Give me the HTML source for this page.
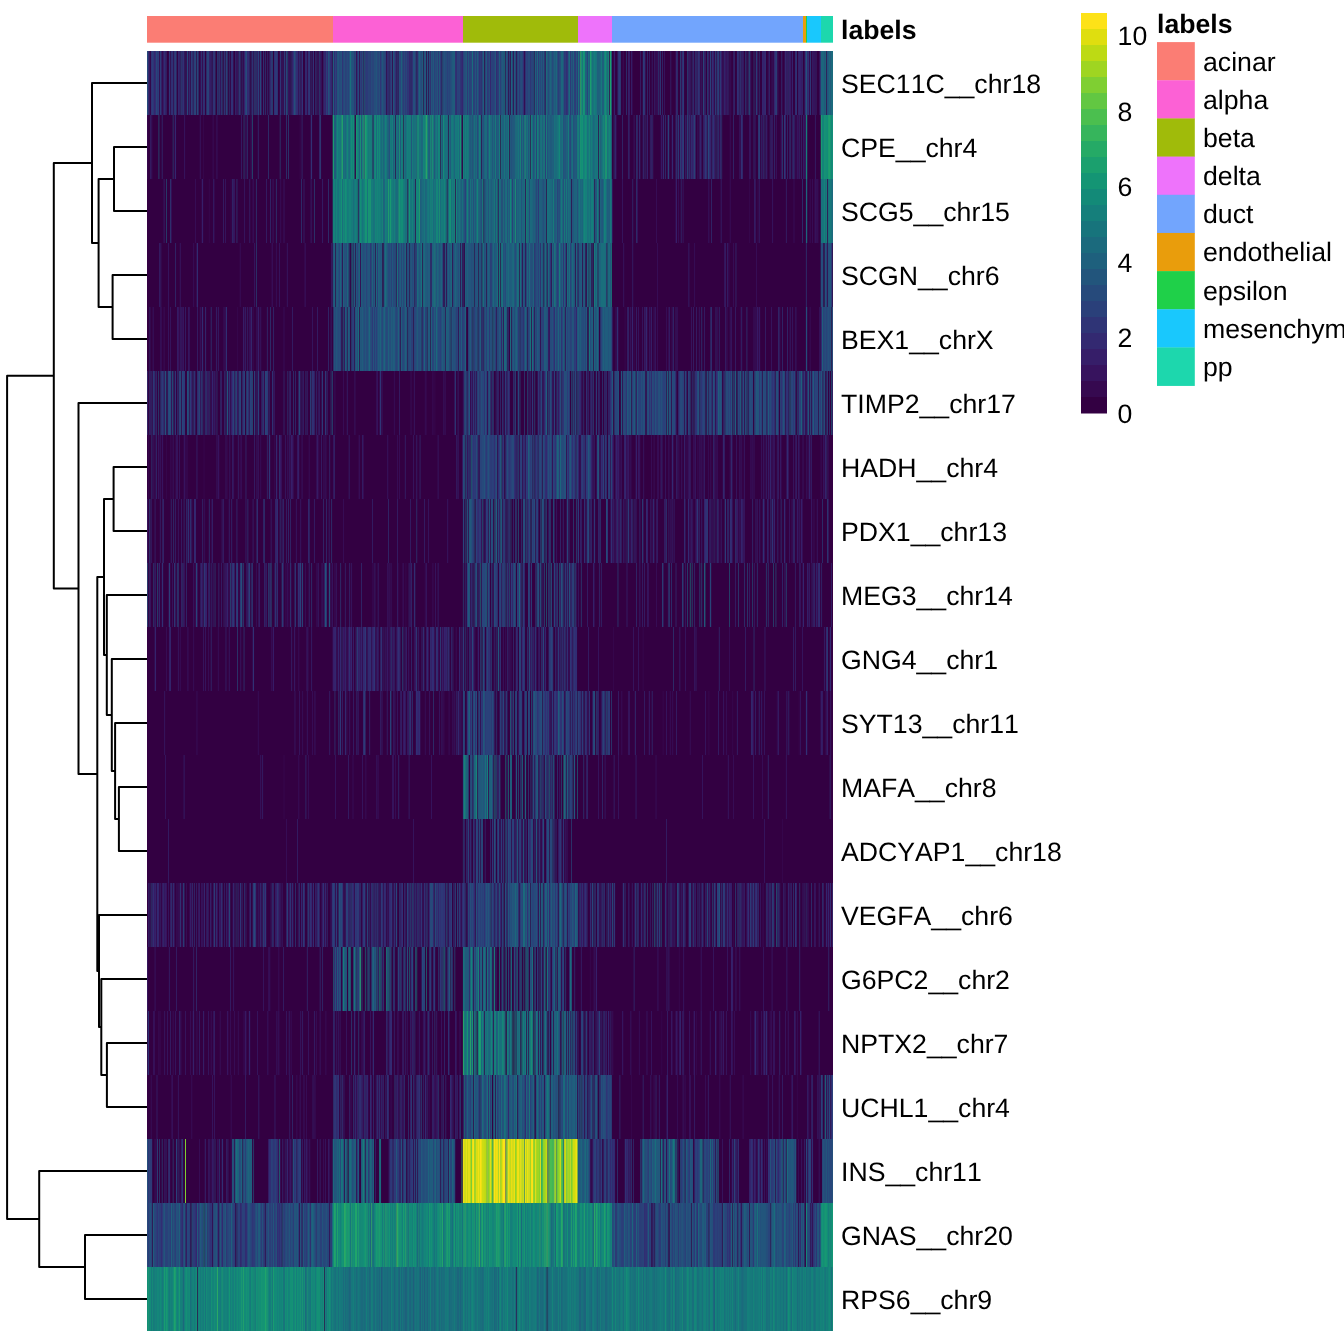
<!DOCTYPE html>
<html><head><meta charset="utf-8"><title>heatmap</title>
<style>
html,body{margin:0;padding:0;background:#fff}
body{width:1344px;height:1344px;position:relative;overflow:hidden;font-family:"Liberation Sans",Arial,Helvetica,sans-serif}
#hm{position:absolute;left:147px;top:51px;width:686px;height:1280px}
#hm div{width:686px;height:64px}
svg{position:absolute;left:0;top:0}
text{font-family:"Liberation Sans",Arial,Helvetica,sans-serif;font-size:26.67px;fill:#000;font-kerning:none;text-rendering:geometricPrecision}
.b{font-weight:bold}
</style></head><body>
<div id="hm">
<div style="background:linear-gradient(90deg,#264a7b 0 1px,#312b6f 0 2px,#33185d 0 3px,#320749 0 4px,#2f3476 0 5px,#2c3c79 0 6px,#2f3476 0 7px,#34266e 0 8px,#312d73 0 9px,#28467a 0 10px,#2d3877 0 11px,#2c3b78 0 12px,#321254 0 13px,#2d3a78 0 14px,#331f65 0 15px,#350a51 0 16px,#351b64 0 17px,#312d73 0 18px,#302466 0 19px,#331a60 0 20px,#330042 0 21px,#330446 0 22px,#2f3476 0 23px,#311455 0 24px,#302f72 0 25px,#303174 0 26px,#311759 0 27px,#2d3573 0 28px,#2b3e77 0 29px,#302364 0 30px,#330345 0 31px,#32276c 0 32px,#351f68 0 33px,#2e225f 0 34px,#2b336c 0 35px,#302b6d 0 36px,#303174 0 37px,#2f1958 0 38px,#321052 0 39px,#311355 0 40px,#28467b 0 41px,#311555 0 42px,#34246d 0 43px,#321253 0 44px,#2b3f78 0 45px,#2d306d 0 46px,#2e2562 0 47px,#2a4078 0 48px,#284578 0 49px,#2e1a56 0 50px,#29447a 0 51px,#2b2b63 0 52px,#330447 0 53px,#350f56 0 54px,#2e2f6e 0 55px,#340d53 0 56px,#2e3170 0 57px,#322c71 0 58px,#330143 0 59px,#2d2b68 0 60px,#2a4178 0 61px,#294178 0 62px,#332269 0 63px,#341d65 0 64px,#311b5d 0 65px,#301555 0 66px,#2f3275 0 67px,#2e3674 0 68px,#2d1d56 0 69px,#330042 0 70px,#2c2f6b 0 71px,#2c2a62 0 72px,#2d2f6d 0 73px,#33145a 0 74px,#2d3370 0 75px,#2c255b 0 76px,#311251 0 77px,#303174 0 78px,#2d1e56 0 79px,#2b3f78 0 80px,#2b2c64 0 81px,#320849 0 82px,#2e225f 0 83px,#33084b 0 84px,#312f74 0 85px,#303175 0 86px,#331055 0 87px,#330042 0 88px,#312265 0 89px,#35135a 0 90px,#35135b 0 91px,#2d215b 0 92px,#2e3575 0 93px,#2d245e 0 94px,#310e4f 0 95px,#2f1b5a 0 96px,#330c50 0 97px,#35226c 0 98px,#2a4078 0 99px,#264b7b 0 100px,#332971 0 101px,#322c72 0 102px,#2e215f 0 103px,#310d4d 0 104px,#2f1d5b 0 105px,#2e3272 0 106px,#301857 0 107px,#2b3067 0 108px,#2d2c68 0 109px,#2b2d65 0 110px,#322166 0 111px,#2a407a 0 112px,#2f1856 0 113px,#28457a 0 114px,#341b62 0 115px,#330042 0 116px,#2e2f6f 0 117px,#34074c 0 118px,#2d2865 0 119px,#330446 0 120px,#311d5f 0 121px,#32084a 0 122px,#311a5c 0 123px,#302a6c 0 124px,#2d3775 0 125px,#283a6b 0 126px,#330042 0 127px,#303074 0 128px,#2d3877 0 129px,#2d3978 0 130px,#2e3171 0 131px,#330042 0 132px,#33084b 0 133px,#2e3576 0 134px,#321154 0 135px,#331055 0 136px,#321052 0 137px,#2c3a77 0 138px,#301857 0 139px,#29437a 0 140px,#273563 0 141px,#35135b 0 142px,#350f56 0 143px,#301454 0 144px,#2e1f5a 0 145px,#34226a 0 146px,#2f3476 0 147px,#254e7b 0 148px,#2c3d77 0 149px,#312e73 0 150px,#322b72 0 151px,#33155a 0 152px,#31276b 0 153px,#2f1d5b 0 154px,#351a62 0 155px,#2f3476 0 156px,#330143 0 157px,#330144 0 158px,#33276e 0 159px,#32276d 0 160px,#340e54 0 161px,#303074 0 162px,#2f3476 0 163px,#301555 0 164px,#2f1a59 0 165px,#321052 0 166px,#2f3375 0 167px,#330042 0 168px,#302264 0 169px,#2f1c5a 0 170px,#321253 0 171px,#340f56 0 172px,#2b3067 0 173px,#311d5f 0 174px,#351058 0 175px,#330042 0 176px,#321c5e 0 177px,#32286e 0 178px,#35226c 0 179px,#2b3e77 0 180px,#312e73 0 181px,#244f7b 0 182px,#294379 0 183px,#312e73 0 184px,#34256e 0 185px,#2e1c56 0 186px,#205b7c 0 187px,#312d73 0 188px,#29437a 0 189px,#2e3676 0 190px,#23537a 0 191px,#22557c 0 192px,#264a7b 0 193px,#254d7b 0 194px,#24517b 0 195px,#2f3476 0 196px,#27467b 0 197px,#254e7b 0 198px,#2a4179 0 199px,#29447a 0 200px,#264a7b 0 201px,#29437a 0 202px,#23527c 0 203px,#19707c 0 204px,#22567c 0 205px,#23517c 0 206px,#24507b 0 207px,#2b3d78 0 208px,#254976 0 209px,#331358 0 210px,#303173 0 211px,#264a7b 0 212px,#301756 0 213px,#2a407a 0 214px,#2e3675 0 215px,#264976 0 216px,#2b2f66 0 217px,#234a6d 0 218px,#2c3c77 0 219px,#2d3978 0 220px,#2c3a78 0 221px,#294279 0 222px,#294277 0 223px,#2b3d78 0 224px,#264a7b 0 225px,#29447a 0 227px,#244e7b 0 228px,#254d7b 0 229px,#22547c 0 230px,#27477b 0 231px,#28457a 0 232px,#254f7a 0 233px,#2e3776 0 234px,#27477b 0 235px,#22557c 0 236px,#264b78 0 237px,#274779 0 238px,#2a407a 0 239px,#311555 0 240px,#33296f 0 241px,#2e2d6b 0 242px,#2b2b63 0 243px,#2e3575 0 244px,#29447a 0 245px,#321254 0 246px,#23527b 0 247px,#2a4179 0 248px,#312e73 0 249px,#2e215f 0 250px,#2d2966 0 251px,#2e2361 0 252px,#254e7b 0 253px,#28467b 0 254px,#1e5f7c 0 255px,#274978 0 256px,#2c3b78 0 257px,#27497a 0 258px,#2d3a78 0 259px,#28447a 0 260px,#2f3476 0 261px,#2d3775 0 262px,#34256e 0 263px,#2d2b69 0 264px,#2d2a67 0 265px,#303174 0 266px,#244f7b 0 267px,#24507c 0 268px,#2b3d78 0 269px,#2a2a5f 0 270px,#302c6e 0 271px,#254d7a 0 272px,#1e607c 0 273px,#23517c 0 274px,#264a7b 0 275px,#205b79 0 276px,#2a275a 0 277px,#23527c 0 278px,#22567c 0 279px,#2e1a56 0 280px,#24507c 0 281px,#2d1e57 0 282px,#27487b 0 283px,#2f3170 0 284px,#22557c 0 285px,#264a7b 0 286px,#21577c 0 287px,#2a407a 0 288px,#264b7b 0 289px,#274979 0 290px,#23537b 0 291px,#2d3978 0 292px,#21577c 0 293px,#2c3c78 0 294px,#2d2966 0 295px,#25426c 0 296px,#27497b 0 297px,#23527c 0 298px,#264a7b 0 300px,#2a407a 0 301px,#26497b 0 302px,#28447a 0 303px,#264b7b 0 304px,#23517c 0 305px,#20597c 0 306px,#205b7c 0 307px,#205c7b 0 308px,#303174 0 309px,#302e71 0 310px,#294279 0 311px,#2a407a 0 312px,#29437a 0 313px,#2f3474 0 314px,#322d73 0 315px,#34266e 0 316px,#294279 0 317px,#254e7b 0 318px,#24507c 0 319px,#22587a 0 320px,#2c3c77 0 321px,#22557c 0 322px,#2a407a 0 323px,#294279 0 324px,#28467a 0 325px,#1a6c7c 0 326px,#2a4078 0 327px,#2a407a 0 328px,#22557c 0 329px,#2a407a 0 330px,#205a7c 0 331px,#27487b 0 332px,#303175 0 333px,#2d3877 0 334px,#2e3370 0 335px,#27477b 0 336px,#1f5e7c 0 337px,#2e1d56 0 338px,#284579 0 339px,#21577c 0 340px,#2d3978 0 341px,#2a3f78 0 342px,#254c79 0 343px,#34266e 0 344px,#294379 0 345px,#2a407a 0 346px,#29417a 0 347px,#28457b 0 348px,#22557c 0 349px,#312d71 0 350px,#2d3776 0 351px,#2b3d77 0 352px,#205c7d 0 353px,#2b3f78 0 354px,#24517b 0 355px,#21597c 0 356px,#22547c 0 357px,#1d5c72 0 358px,#2c2760 0 359px,#22547c 0 360px,#27497b 0 361px,#2f1a56 0 362px,#2c3b77 0 363px,#2e1b57 0 364px,#1d647c 0 365px,#28447a 0 366px,#2e1c56 0 367px,#205a7c 0 368px,#28457a 0 369px,#2f1c5a 0 370px,#284176 0 371px,#254e7b 0 372px,#2d3877 0 373px,#27487b 0 374px,#254c7b 0 375px,#28447a 0 376px,#312e73 0 377px,#330e52 0 378px,#303072 0 379px,#27467b 0 380px,#2a407a 0 381px,#264a7b 0 382px,#26497b 0 383px,#2e3675 0 384px,#29437a 0 385px,#28447a 0 386px,#254573 0 387px,#2a2c60 0 388px,#1e607c 0 389px,#28447a 0 390px,#1d647c 0 391px,#2c3c78 0 392px,#22557c 0 393px,#27487b 0 394px,#21577c 0 395px,#28457a 0 396px,#205a7c 0 397px,#2a386f 0 398px,#2c2961 0 399px,#1c6a7b 0 400px,#215a7c 0 401px,#264b7b 0 402px,#21597c 0 403px,#1d647d 0 404px,#21597c 0 405px,#264a7b 0 406px,#23537c 0 407px,#1e607d 0 408px,#205a7c 0 409px,#1c667d 0 410px,#264c7a 0 411px,#2c3c79 0 412px,#284879 0 413px,#254f7b 0 414px,#1c667d 0 416px,#22557c 0 417px,#2e3777 0 418px,#2c3b78 0 419px,#312e73 0 420px,#2f3476 0 421px,#22557c 0 422px,#1c677c 0 423px,#2d3978 0 424px,#22567c 0 425px,#264a7b 0 426px,#1f5f7c 0 427px,#2b3e78 0 428px,#2c3c78 0 429px,#22557c 0 430px,#2a4078 0 431px,#1a707b 0 432px,#244f7a 0 433px,#318e66 0 434px,#188e75 0 435px,#1c7579 0 436px,#149574 0 437px,#158e76 0 438px,#1d627c 0 439px,#205c7c 0 440px,#27467b 0 441px,#196d7c 0 442px,#205c7c 0 443px,#1b9e6e 0 444px,#1a8577 0 445px,#1a6f7c 0 446px,#18747c 0 447px,#157e7a 0 448px,#16777c 0 449px,#19727c 0 450px,#1f5f7c 0 452px,#1e617c 0 453px,#1c677d 0 454px,#16797c 0 455px,#1f5f7c 0 456px,#1e607d 0 457px,#16817a 0 458px,#138e76 0 459px,#18797a 0 460px,#1d6c79 0 461px,#188177 0 462px,#2c2855 0 463px,#1ea16c 0 464px,#1f5d73 0 465px,#330042 0 466px,#34064a 0 467px,#361e69 0 468px,#330245 0 469px,#330042 0 470px,#301655 0 471px,#303174 0 472px,#2c3b78 0 473px,#2c3672 0 474px,#330042 0 475px,#340347 0 476px,#35094f 0 477px,#330042 0 479px,#2d2966 0 480px,#330143 0 481px,#361e69 0 482px,#361b65 0 483px,#330042 0 484px,#341d65 0 485px,#350950 0 486px,#330042 0 493px,#331a60 0 494px,#330042 0 495px,#320a4c 0 496px,#2c3b78 0 497px,#303275 0 498px,#331054 0 499px,#330042 0 500px,#302264 0 501px,#330042 0 502px,#331a60 0 503px,#330042 0 504px,#33074a 0 505px,#331358 0 506px,#330042 0 507px,#33185e 0 508px,#340b50 0 510px,#360c54 0 511px,#2d2966 0 512px,#331256 0 513px,#2d3270 0 514px,#330042 0 515px,#302264 0 516px,#330042 0 517px,#35135b 0 518px,#330042 0 523px,#331358 0 524px,#33074a 0 525px,#330042 0 528px,#34094e 0 529px,#34266f 0 530px,#2d2865 0 531px,#330042 0 533px,#2b366e 0 534px,#331459 0 535px,#2e3070 0 536px,#2d3978 0 537px,#330345 0 538px,#330042 0 540px,#2a336a 0 541px,#311e60 0 542px,#351961 0 543px,#33155a 0 544px,#310d4d 0 545px,#2f1d5b 0 546px,#31276b 0 547px,#35074d 0 548px,#2d2966 0 549px,#312264 0 550px,#311f61 0 551px,#303174 0 552px,#302b6d 0 553px,#340b4f 0 554px,#331358 0 555px,#330a4d 0 556px,#294378 0 557px,#321f63 0 558px,#331a60 0 559px,#330042 0 560px,#2b336a 0 561px,#351f69 0 562px,#330d50 0 563px,#2a407a 0 564px,#321254 0 565px,#312f74 0 566px,#35206a 0 567px,#340b50 0 568px,#2d3874 0 569px,#2e1c56 0 570px,#2f3275 0 571px,#283f74 0 572px,#31195b 0 573px,#2d3876 0 574px,#361e69 0 575px,#330d52 0 576px,#331055 0 577px,#312468 0 578px,#361761 0 579px,#35135a 0 580px,#331a60 0 581px,#311759 0 582px,#320a4c 0 583px,#350a50 0 584px,#340346 0 585px,#330042 0 586px,#331a60 0 587px,#302264 0 588px,#330042 0 589px,#330345 0 590px,#312f74 0 591px,#302b6e 0 592px,#2f1f5d 0 593px,#2f2c6c 0 594px,#311d5f 0 595px,#331f65 0 596px,#33195f 0 597px,#330143 0 598px,#2d2966 0 599px,#311557 0 600px,#320d4f 0 601px,#2d225c 0 602px,#283d71 0 603px,#33165b 0 604px,#330548 0 605px,#330042 0 606px,#2f1653 0 607px,#2f1956 0 608px,#340b50 0 609px,#2b3b75 0 610px,#33175d 0 611px,#32094a 0 612px,#2e205e 0 613px,#330042 0 615px,#33266d 0 616px,#35226c 0 617px,#34256e 0 618px,#312b6f 0 619px,#330042 0 620px,#330447 0 621px,#351057 0 622px,#302264 0 623px,#330042 0 624px,#34084c 0 625px,#340c51 0 626px,#34094e 0 627px,#34266e 0 628px,#2f3476 0 629px,#2a3d74 0 630px,#331257 0 631px,#33084b 0 632px,#330042 0 634px,#311e60 0 635px,#35094e 0 636px,#330042 0 637px,#340b50 0 638px,#34276f 0 639px,#311e60 0 640px,#341c63 0 641px,#2e215f 0 642px,#341e66 0 643px,#361964 0 644px,#34084d 0 645px,#35216a 0 646px,#330143 0 647px,#330144 0 648px,#312b70 0 649px,#2e3272 0 650px,#330042 0 651px,#332168 0 652px,#35236d 0 653px,#35216b 0 654px,#351c66 0 655px,#312365 0 656px,#330042 0 657px,#330f53 0 658px,#2f3475 0 659px,#23527c 0 660px,#322a6f 0 661px,#302f72 0 662px,#330d52 0 663px,#2e3676 0 664px,#320546 0 665px,#331a60 0 666px,#35145c 0 667px,#35135b 0 668px,#311557 0 669px,#341257 0 670px,#330042 0 672px,#351057 0 673px,#2e3673 0 674px,#1c667d 0 675px,#1c667c 0 676px,#1c657c 0 677px,#20597c 0 678px,#1b6477 0 679px,#2b265c 0 680px,#22557c 0 681px,#205b7d 0 682px,#1b687c 0 683px,#205d7c 0 684px,#1b6a7d 0)"></div>
<div style="background:linear-gradient(90deg,#35064b 0 1px,#330042 0 3px,#331a60 0 4px,#340f55 0 5px,#330548 0 6px,#330042 0 11px,#2b2659 0 12px,#2e1851 0 13px,#330042 0 14px,#32094b 0 15px,#31195b 0 16px,#330042 0 25px,#30104e 0 26px,#2d205b 0 27px,#34084d 0 28px,#34256e 0 29px,#330143 0 30px,#330042 0 37px,#35125a 0 38px,#330144 0 39px,#330042 0 52px,#330447 0 53px,#350f56 0 54px,#330042 0 56px,#35064b 0 57px,#330042 0 65px,#340449 0 66px,#35084d 0 67px,#330042 0 69px,#340b50 0 70px,#34084d 0 71px,#330042 0 94px,#331a60 0 95px,#330042 0 96px,#2e1953 0 97px,#2d1e57 0 98px,#340b50 0 99px,#330d51 0 100px,#2e2562 0 101px,#330042 0 103px,#34064a 0 104px,#340d53 0 105px,#253e68 0 106px,#330042 0 110px,#330547 0 111px,#311c5e 0 112px,#330042 0 121px,#2d2966 0 122px,#330042 0 132px,#310e4c 0 133px,#2d225c 0 134px,#330042 0 139px,#2d2966 0 140px,#330042 0 141px,#2b3067 0 142px,#330042 0 152px,#340245 0 153px,#340448 0 154px,#320e50 0 155px,#311456 0 156px,#330042 0 163px,#330a4d 0 164px,#313074 0 165px,#330345 0 166px,#330042 0 172px,#312567 0 173px,#2d3671 0 174px,#330245 0 175px,#330042 0 185px,#292f52 0 186px,#199b70 0 187px,#1f5e7c 0 188px,#205b7c 0 189px,#18737c 0 190px,#148679 0 191px,#16797c 0 192px,#17797c 0 193px,#18767c 0 194px,#208873 0 195px,#20a06b 0 196px,#1b6a7d 0 197px,#19707c 0 198px,#1b687d 0 199px,#17787b 0 200px,#158578 0 201px,#18727c 0 202px,#1b6a7d 0 203px,#167d7b 0 204px,#148d77 0 205px,#168079 0 206px,#138d77 0 207px,#214d65 0 208px,#300f48 0 209px,#179473 0 210px,#168778 0 211px,#157e7a 0 212px,#1c677d 0 213px,#198e74 0 214px,#215b7b 0 215px,#158279 0 216px,#277f71 0 217px,#2a6e71 0 218px,#1ba06e 0 219px,#169474 0 220px,#14847a 0 221px,#18787a 0 222px,#187d79 0 223px,#167c7a 0 224px,#187a7a 0 225px,#214c68 0 226px,#24446b 0 227px,#168179 0 228px,#148978 0 229px,#1b6a7d 0 230px,#158a77 0 231px,#16797c 0 232px,#158977 0 233px,#17747c 0 234px,#1a6a7c 0 235px,#187779 0 236px,#1d647d 0 237px,#1a6d7d 0 238px,#15807a 0 239px,#17767b 0 240px,#1c657c 0 241px,#1f5e7c 0 242px,#24507c 0 243px,#16797b 0 244px,#17747c 0 245px,#157f7b 0 246px,#205c7b 0 247px,#19707c 0 248px,#2a2657 0 249px,#196f7d 0 250px,#196e7c 0 251px,#1e617d 0 252px,#1c8a73 0 253px,#20597c 0 254px,#157e7b 0 255px,#167a79 0 256px,#263657 0 257px,#19717c 0 258px,#1d657d 0 259px,#17747c 0 260px,#157f7b 0 261px,#167b7b 0 262px,#157d7a 0 263px,#187979 0 264px,#22567c 0 265px,#177b7a 0 266px,#196e7c 0 267px,#19707c 0 268px,#1a707c 0 269px,#1f6a77 0 270px,#188476 0 271px,#198776 0 272px,#19717c 0 273px,#19727c 0 274px,#1c677d 0 275px,#1c687d 0 276px,#14837a 0 277px,#177e79 0 278px,#198b75 0 279px,#2aa267 0 280px,#14847a 0 281px,#1e627c 0 282px,#1e5f7b 0 283px,#188278 0 284px,#207077 0 285px,#1b8b74 0 286px,#19747b 0 287px,#22577b 0 288px,#196f7c 0 289px,#16797c 0 290px,#1b6c7c 0 291px,#14847a 0 292px,#14827a 0 293px,#283155 0 294px,#1b697c 0 295px,#21597b 0 296px,#148c77 0 297px,#17757c 0 298px,#196f7d 0 299px,#18727c 0 300px,#1b6a7d 0 301px,#292857 0 302px,#196e7d 0 303px,#205c7c 0 304px,#17787c 0 305px,#167b7b 0 306px,#17737c 0 307px,#1c657d 0 308px,#17797b 0 309px,#16797c 0 310px,#17777c 0 311px,#157f7b 0 312px,#1b687d 0 313px,#1a9073 0 314px,#244367 0 315px,#300b46 0 316px,#15807a 0 317px,#196f7c 0 318px,#157f7b 0 319px,#18737c 0 320px,#167c7a 0 321px,#18737c 0 322px,#1f5d7c 0 323px,#21587c 0 324px,#1e607c 0 325px,#23547a 0 326px,#1f5e7b 0 327px,#196f7c 0 328px,#1e607c 0 329px,#1c687c 0 330px,#264b7b 0 331px,#1f5d7c 0 332px,#157e7b 0 333px,#1a6e7b 0 334px,#2d2058 0 335px,#22567c 0 336px,#23527c 0 337px,#1d637c 0 338px,#1b6a7d 0 339px,#1a6a7c 0 340px,#244f7b 0 341px,#1f607c 0 342px,#157f7b 0 343px,#1b6b7c 0 344px,#1c687c 0 345px,#21577c 0 346px,#1c677d 0 347px,#205a7c 0 348px,#18797a 0 349px,#22557c 0 350px,#1f5c7d 0 351px,#205c7d 0 352px,#167b7b 0 353px,#283055 0 354px,#1b6a7d 0 355px,#1d627d 0 356px,#1e607d 0 357px,#18747c 0 358px,#1e607d 0 359px,#1b697d 0 360px,#1d647d 0 361px,#17777c 0 362px,#2b2657 0 363px,#21587c 0 364px,#23517c 0 365px,#21587c 0 367px,#205a7c 0 368px,#1c687c 0 369px,#1d6a79 0 370px,#1b6a7d 0 371px,#18747c 0 372px,#1d637d 0 373px,#197e77 0 374px,#23537c 0 375px,#1a6a7c 0 376px,#22547c 0 377px,#1c727a 0 378px,#1f7876 0 379px,#1d647d 0 380px,#196e7d 0 381px,#22557c 0 382px,#1c677b 0 383px,#283058 0 384px,#167d7b 0 385px,#1b6a7d 0 386px,#23527c 0 387px,#1e607d 0 388px,#187779 0 389px,#28447a 0 390px,#167e7a 0 391px,#1a6f7b 0 392px,#255377 0 393px,#1a6e7b 0 394px,#19727c 0 395px,#1f5f7d 0 396px,#1b6f7a 0 397px,#1a727a 0 398px,#2a4079 0 399px,#18797a 0 400px,#23527c 0 401px,#1e5f7d 0 402px,#1e607d 0 403px,#20597c 0 404px,#205a7c 0 405px,#1e607d 0 406px,#1f5e7d 0 407px,#19707c 0 408px,#1b6a7d 0 409px,#1a6c7c 0 410px,#19717c 0 411px,#16787c 0 412px,#148679 0 413px,#1c697c 0 414px,#1b697d 0 415px,#18717c 0 416px,#24507c 0 417px,#21577c 0 418px,#21567c 0 419px,#1e607c 0 420px,#1f5e7c 0 421px,#167b7b 0 422px,#24507b 0 423px,#28467b 0 424px,#1c667c 0 425px,#196f7d 0 426px,#23517b 0 427px,#22567c 0 428px,#205a7c 0 429px,#21577c 0 430px,#19777a 0 431px,#167e79 0 432px,#1b687d 0 433px,#199273 0 434px,#138f76 0 435px,#149275 0 436px,#157f7b 0 437px,#158479 0 438px,#138f76 0 439px,#148779 0 440px,#19717c 0 441px,#17787c 0 442px,#168777 0 443px,#19727c 0 444px,#167e7a 0 445px,#17747c 0 446px,#1c677d 0 447px,#196e7d 0 448px,#18757c 0 449px,#18737c 0 450px,#17787c 0 451px,#2a2657 0 452px,#187b79 0 453px,#206179 0 454px,#1a6b7c 0 455px,#18767b 0 456px,#168478 0 457px,#17797c 0 458px,#21906f 0 459px,#159673 0 460px,#1b727a 0 461px,#187a7a 0 462px,#158479 0 463px,#157e7a 0 464px,#1f5b73 0 465px,#330042 0 466px,#310d4e 0 467px,#2f1c5a 0 468px,#34236b 0 469px,#340b50 0 470px,#330042 0 475px,#302264 0 476px,#330042 0 480px,#330143 0 481px,#312062 0 482px,#35135b 0 483px,#330042 0 486px,#34074b 0 487px,#340d52 0 488px,#330042 0 489px,#2d2966 0 490px,#302264 0 491px,#330245 0 492px,#33276e 0 493px,#320c4e 0 494px,#330042 0 495px,#320a4c 0 496px,#332269 0 497px,#311353 0 498px,#301857 0 499px,#330d51 0 500px,#35206a 0 501px,#330042 0 502px,#330547 0 503px,#311c5e 0 504px,#331e65 0 505px,#2f1e5d 0 506px,#35064b 0 507px,#330042 0 513px,#330448 0 514px,#361864 0 515px,#34094e 0 516px,#322a70 0 517px,#330446 0 518px,#2d2865 0 519px,#330143 0 520px,#351057 0 521px,#2a4179 0 522px,#320c4e 0 523px,#330042 0 524px,#33084b 0 525px,#332971 0 526px,#330447 0 527px,#330042 0 528px,#301454 0 529px,#32286e 0 530px,#2e1c58 0 531px,#2d3573 0 532px,#35084f 0 533px,#2b3a74 0 534px,#35236d 0 535px,#2e3675 0 536px,#2b3d78 0 537px,#330345 0 538px,#331a60 0 539px,#330f53 0 540px,#2b3c74 0 541px,#2e1f5a 0 542px,#32296e 0 543px,#33155a 0 544px,#302c6e 0 545px,#332269 0 546px,#322b70 0 547px,#2a4075 0 548px,#331d62 0 549px,#330042 0 550px,#340c51 0 551px,#34084c 0 552px,#31185a 0 553px,#34246d 0 554px,#331358 0 555px,#330042 0 556px,#311f61 0 557px,#35226c 0 558px,#2d3877 0 559px,#322b6f 0 560px,#2f1856 0 561px,#28467b 0 562px,#312e73 0 563px,#34246d 0 564px,#321253 0 565px,#31276a 0 566px,#2e3373 0 567px,#361e69 0 568px,#2f1a56 0 569px,#2f1956 0 570px,#311f61 0 571px,#2d2966 0 572px,#340e54 0 573px,#31276a 0 574px,#2e2360 0 575px,#320748 0 576px,#330042 0 582px,#340346 0 583px,#350950 0 584px,#330042 0 586px,#302264 0 587px,#330042 0 592px,#340f55 0 593px,#330d51 0 594px,#312f74 0 595px,#302668 0 596px,#330042 0 602px,#36135c 0 603px,#331358 0 604px,#330042 0 606px,#301353 0 607px,#301656 0 608px,#360c54 0 609px,#330042 0 611px,#2c336e 0 612px,#2c3a78 0 613px,#32084a 0 614px,#311d5f 0 615px,#351058 0 616px,#302163 0 617px,#301756 0 618px,#301454 0 619px,#351c66 0 620px,#330a4d 0 621px,#330042 0 622px,#320a4c 0 623px,#31185a 0 624px,#331a60 0 625px,#33195e 0 626px,#330244 0 627px,#302264 0 628px,#340347 0 629px,#360f58 0 630px,#330042 0 633px,#340448 0 634px,#37135e 0 635px,#2b3169 0 636px,#330042 0 637px,#2d3877 0 638px,#351f69 0 639px,#330042 0 640px,#302264 0 641px,#330042 0 642px,#331a60 0 643px,#2e2361 0 644px,#320647 0 645px,#33195f 0 646px,#2d2a67 0 647px,#331a60 0 648px,#35074d 0 649px,#34084d 0 650px,#36145d 0 651px,#360e57 0 652px,#311b5d 0 653px,#330648 0 654px,#311f61 0 655px,#330345 0 656px,#331b61 0 657px,#370f59 0 658px,#34185d 0 659px,#157e7a 0 660px,#2c1d4d 0 661px,#330042 0 667px,#330244 0 668px,#33185e 0 669px,#330042 0 673px,#2d284d 0 674px,#179972 0 675px,#148379 0 677px,#169274 0 678px,#159075 0 679px,#138f76 0 680px,#138c77 0 681px,#1c9a6f 0 682px,#1b9f6e 0 683px,#149574 0 684px,#158779 0 685px,#138e77 0)"></div>
<div style="background:linear-gradient(90deg,#330042 0 16px,#330a4d 0 17px,#331155 0 18px,#330042 0 19px,#283767 0 20px,#330042 0 23px,#2e2e6c 0 24px,#340f56 0 25px,#330042 0 48px,#360c54 0 49px,#330042 0 54px,#34064a 0 55px,#361e69 0 56px,#330346 0 57px,#330042 0 61px,#330143 0 62px,#35054a 0 63px,#330042 0 66px,#33185e 0 67px,#35084e 0 68px,#330042 0 76px,#331a60 0 77px,#330042 0 78px,#35135b 0 79px,#330042 0 83px,#340245 0 84px,#340448 0 85px,#302264 0 86px,#33195e 0 87px,#35155d 0 88px,#330042 0 89px,#301857 0 90px,#311151 0 91px,#330042 0 97px,#35135b 0 98px,#330042 0 102px,#331459 0 103px,#330649 0 104px,#330042 0 105px,#35064b 0 106px,#350c53 0 107px,#330143 0 108px,#330344 0 109px,#2e2764 0 110px,#330042 0 119px,#331a60 0 120px,#330042 0 123px,#302264 0 124px,#330042 0 125px,#34084d 0 126px,#340b50 0 127px,#330042 0 128px,#330345 0 129px,#2e2663 0 130px,#330042 0 133px,#350a51 0 134px,#330245 0 135px,#330042 0 136px,#34094e 0 137px,#340a4f 0 138px,#330042 0 154px,#2d2966 0 155px,#330042 0 156px,#330d51 0 158px,#330042 0 163px,#330a4d 0 164px,#331155 0 165px,#330042 0 166px,#330143 0 167px,#2b2f66 0 168px,#330042 0 175px,#331a60 0 176px,#330143 0 177px,#330042 0 181px,#2d2966 0 182px,#330042 0 185px,#2a2554 0 186px,#148279 0 187px,#14837a 0 188px,#18747b 0 189px,#14847a 0 190px,#16787b 0 191px,#17747c 0 192px,#148279 0 193px,#15817a 0 194px,#149175 0 195px,#1a6f7b 0 196px,#158779 0 197px,#168079 0 198px,#149076 0 199px,#138978 0 200px,#167a7b 0 201px,#157d7b 0 202px,#148579 0 203px,#148479 0 204px,#167b7b 0 205px,#177c7a 0 206px,#196e7c 0 207px,#16787c 0 208px,#157f7b 0 209px,#167a7b 0 210px,#196e6f 0 211px,#283361 0 212px,#1c6d7b 0 213px,#138e76 0 214px,#148379 0 215px,#17747c 0 216px,#167c7b 0 217px,#14837a 0 218px,#169474 0 219px,#169374 0 220px,#17747c 0 221px,#199373 0 222px,#189274 0 223px,#1a9472 0 224px,#167b7b 0 226px,#17737c 0 227px,#19737c 0 228px,#148479 0 229px,#187e79 0 230px,#148579 0 231px,#157e7a 0 232px,#15817a 0 233px,#157d7a 0 234px,#18757c 0 235px,#178277 0 236px,#1e627d 0 237px,#1c657d 0 238px,#157e7a 0 239px,#167a7b 0 240px,#18747c 0 241px,#209a6d 0 242px,#157d7a 0 243px,#199a71 0 244px,#168079 0 245px,#167c7b 0 246px,#18757b 0 247px,#157f7b 0 248px,#19707c 0 249px,#1a6a7c 0 250px,#1a6b7c 0 251px,#1e7e74 0 252px,#159673 0 253px,#158778 0 254px,#138d77 0 256px,#167d7a 0 257px,#17797c 0 258px,#196f7c 0 259px,#1a6e7d 0 260px,#253c5d 0 261px,#1e6174 0 262px,#149574 0 263px,#17767c 0 264px,#17747c 0 265px,#148279 0 266px,#196e7d 0 267px,#1b6d7b 0 268px,#2b2656 0 269px,#14847a 0 270px,#148679 0 271px,#148579 0 272px,#21966e 0 273px,#1f5d7c 0 274px,#1d637d 0 275px,#1b6b7d 0 276px,#1a6c7c 0 277px,#18757c 0 278px,#1c657d 0 279px,#1c687d 0 280px,#18757c 0 281px,#167a7c 0 282px,#19707c 0 283px,#167e79 0 284px,#19797a 0 285px,#157f7b 0 286px,#1b6a7c 0 287px,#17747c 0 288px,#196f7c 0 289px,#148579 0 291px,#17747c 0 292px,#1c8b73 0 293px,#196d7c 0 294px,#167b7b 0 296px,#16797c 0 297px,#148579 0 298px,#17747c 0 299px,#1d5d71 0 300px,#244062 0 301px,#1b6a7c 0 302px,#148d77 0 303px,#149175 0 304px,#1a6f7b 0 305px,#167d7a 0 306px,#18757b 0 307px,#197d78 0 308px,#2a2956 0 309px,#14847a 0 310px,#1d647d 0 311px,#1a6c7c 0 312px,#18747b 0 313px,#1d677b 0 314px,#1f5d7c 0 315px,#18707c 0 316px,#205c7c 0 317px,#24507c 0 318px,#2a407a 0 319px,#1c667c 0 320px,#15807a 0 321px,#1d637d 0 322px,#23527c 0 323px,#19707c 0 324px,#205c7c 0 325px,#1b6a7d 0 326px,#254f7b 0 327px,#1c657d 0 328px,#21577c 0 329px,#1b6c7b 0 330px,#14827a 0 331px,#1f637a 0 332px,#1f5e7c 0 333px,#21587b 0 334px,#254d7b 0 335px,#197579 0 336px,#244062 0 337px,#234b71 0 338px,#22557c 0 339px,#1d637d 0 340px,#1c677c 0 341px,#22547c 0 342px,#1b6c7b 0 343px,#1d647d 0 344px,#205c7c 0 345px,#1c667d 0 346px,#1d667c 0 347px,#18767a 0 348px,#22567c 0 349px,#17747c 0 350px,#1d5d6c 0 351px,#2b2e65 0 352px,#17737c 0 353px,#1c677d 0 354px,#245078 0 355px,#255079 0 356px,#1e6879 0 357px,#22557c 0 358px,#1b6a7d 0 359px,#1b6e7b 0 360px,#23537c 0 361px,#1c667c 0 362px,#21597c 0 363px,#148679 0 364px,#1b6b7c 0 365px,#2a4176 0 366px,#1c667d 0 367px,#1e607d 0 368px,#1c8973 0 369px,#23547c 0 370px,#1d657d 0 371px,#1e607d 0 372px,#1c677d 0 373px,#1a6b7d 0 374px,#23537c 0 375px,#1d657d 0 376px,#1d647c 0 377px,#1a6c7c 0 378px,#2d225c 0 379px,#177973 0 380px,#1a6c7c 0 381px,#1b697c 0 382px,#244e7b 0 383px,#1b6a7d 0 384px,#1b697d 0 385px,#1d647d 0 386px,#205c7c 0 387px,#1f5f7c 0 388px,#22557b 0 389px,#274779 0 390px,#22567c 0 391px,#2d3877 0 392px,#1f5f7c 0 394px,#1f5e7c 0 395px,#21577c 0 396px,#24507b 0 397px,#205b7c 0 398px,#1f5e7c 0 399px,#2b2457 0 400px,#19707c 0 401px,#1a6e7d 0 402px,#1a6d7d 0 403px,#1b6a7d 0 404px,#1b697d 0 405px,#1e607d 0 406px,#177b7a 0 407px,#205a7c 0 408px,#21587c 0 409px,#1e607d 0 410px,#28457a 0 411px,#24517b 0 412px,#264c7b 0 413px,#1d627d 0 414px,#16797c 0 415px,#1d657c 0 416px,#24507c 0 417px,#187879 0 418px,#205a7c 0 419px,#18767c 0 420px,#1f5d7c 0 421px,#1a6d7c 0 422px,#1c677d 0 423px,#1f5d7c 0 424px,#2d1d56 0 425px,#22567c 0 426px,#21597c 0 427px,#1d637c 0 428px,#1e617d 0 429px,#1d647d 0 430px,#24527b 0 431px,#1c677d 0 432px,#17747c 0 433px,#1c667d 0 434px,#1b6a7d 0 435px,#1c657d 0 436px,#167a7b 0 437px,#148679 0 438px,#157f7b 0 440px,#19717c 0 441px,#17747c 0 442px,#167a7b 0 443px,#1a6d7c 0 444px,#157e7b 0 445px,#157f7a 0 446px,#18747c 0 447px,#2a2b5c 0 448px,#215477 0 449px,#22557c 0 450px,#177b7a 0 451px,#1d637b 0 452px,#2a2a59 0 453px,#1d627d 0 454px,#205b7d 0 455px,#21577c 0 456px,#1c657d 0 457px,#15817a 0 458px,#167b7b 0 459px,#1b6b7d 0 460px,#205c7c 0 461px,#1f5e7c 0 462px,#205c7c 0 463px,#18767c 0 464px,#1c677b 0 465px,#33145a 0 466px,#330042 0 475px,#35135b 0 476px,#330042 0 485px,#311b5d 0 486px,#320749 0 487px,#330042 0 489px,#2d2966 0 490px,#35135b 0 491px,#330042 0 509px,#360c54 0 510px,#330042 0 528px,#34094e 0 529px,#361d68 0 530px,#330042 0 531px,#360c54 0 532px,#330042 0 533px,#32084a 0 534px,#31195b 0 535px,#34074b 0 536px,#340d52 0 537px,#330042 0 561px,#340d53 0 562px,#34064a 0 563px,#330042 0 564px,#302264 0 565px,#330042 0 573px,#33084b 0 574px,#331358 0 575px,#330042 0 582px,#340346 0 583px,#350950 0 584px,#330042 0 602px,#35064b 0 603px,#330042 0 607px,#331b61 0 608px,#35135b 0 609px,#330042 0 610px,#340448 0 611px,#34084c 0 612px,#33145a 0 613px,#330042 0 625px,#35125a 0 626px,#330144 0 627px,#330042 0 638px,#330345 0 639px,#33185d 0 640px,#330042 0 646px,#34064b 0 648px,#330042 0 655px,#2d2966 0 656px,#330042 0 658px,#310847 0 659px,#1d647d 0 660px,#2e164e 0 661px,#330042 0 662px,#340448 0 663px,#35084e 0 664px,#330042 0 665px,#360c54 0 666px,#330042 0 667px,#35074d 0 668px,#351259 0 669px,#360c54 0 670px,#340e54 0 671px,#340549 0 672px,#330042 0 673px,#2e1851 0 674px,#19737c 0 675px,#17747c 0 676px,#17757c 0 677px,#15827a 0 678px,#19707c 0 679px,#177c7a 0 680px,#2b2457 0 681px,#19707c 0 682px,#16787c 0 683px,#16797c 0 684px,#18717c 0 685px,#1b6a7d 0)"></div>
<div style="background:linear-gradient(90deg,#330042 0 12px,#331a60 0 13px,#331358 0 14px,#33084b 0 15px,#330042 0 21px,#35135b 0 22px,#330042 0 28px,#302163 0 29px,#330143 0 30px,#330042 0 32px,#330447 0 33px,#351057 0 34px,#330042 0 46px,#350b52 0 47px,#330144 0 48px,#330042 0 49px,#340b50 0 50px,#312a6f 0 51px,#330042 0 92px,#340346 0 93px,#350950 0 94px,#330042 0 107px,#35135b 0 108px,#320344 0 109px,#2b2d65 0 110px,#330042 0 124px,#35054a 0 125px,#360d55 0 126px,#330042 0 128px,#330143 0 129px,#350b53 0 130px,#330042 0 132px,#35135b 0 133px,#330042 0 139px,#330346 0 140px,#351158 0 141px,#330042 0 157px,#35074c 0 158px,#350c53 0 159px,#330042 0 184px,#33195e 0 185px,#2f1956 0 186px,#23527c 0 187px,#1e607d 0 188px,#2b2357 0 189px,#22577c 0 190px,#205b7c 0 191px,#24507c 0 192px,#28467b 0 193px,#1d627c 0 194px,#254d7b 0 195px,#2e1a56 0 196px,#1e607c 0 197px,#254f7b 0 198px,#24527b 0 199px,#264c7b 0 200px,#1d647c 0 201px,#244971 0 202px,#2c2962 0 203px,#320747 0 204px,#263b66 0 205px,#204d69 0 206px,#2a3369 0 207px,#22577c 0 208px,#2b2357 0 209px,#22557c 0 210px,#28467b 0 211px,#22567c 0 212px,#1e607a 0 213px,#331155 0 214px,#1f5b7a 0 215px,#23527c 0 216px,#254d7b 0 217px,#24507c 0 218px,#21567c 0 219px,#29447a 0 220px,#24507c 0 221px,#22557c 0 223px,#2d3875 0 224px,#274876 0 225px,#1e627b 0 226px,#27487b 0 227px,#20597c 0 228px,#2b2457 0 229px,#1c657c 0 230px,#2a4078 0 231px,#1e607d 0 232px,#205c7c 0 233px,#21577c 0 234px,#21597c 0 235px,#2c2055 0 236px,#2b2559 0 237px,#21597c 0 238px,#1a6e7c 0 239px,#1f5f7c 0 240px,#22557c 0 241px,#264a7b 0 243px,#23527b 0 244px,#294279 0 245px,#21587c 0 246px,#26497b 0 247px,#27497b 0 248px,#244a74 0 249px,#2b295e 0 250px,#1a6e7b 0 251px,#2b3e78 0 252px,#23527b 0 253px,#205c7d 0 254px,#284778 0 255px,#205c7c 0 256px,#27487a 0 257px,#23547b 0 258px,#1d637c 0 259px,#2c2056 0 260px,#264b7b 0 261px,#24517c 0 262px,#2a275a 0 263px,#235179 0 264px,#22557c 0 265px,#264a7b 0 266px,#23517c 0 267px,#2c2a62 0 268px,#283d6e 0 269px,#2a3f76 0 270px,#1a6b7c 0 271px,#1e607d 0 272px,#22557c 0 273px,#1f5d7c 0 274px,#19707c 0 275px,#2a2657 0 276px,#1e617d 0 277px,#1a6a7c 0 278px,#205b7d 0 279px,#205a7c 0 280px,#22567c 0 281px,#1f5d7d 0 282px,#205c7d 0 283px,#2c2d68 0 284px,#2d2c68 0 285px,#1e607d 0 286px,#1d647d 0 287px,#1e6c78 0 288px,#1f637b 0 289px,#22557c 0 290px,#1c657c 0 291px,#205d7c 0 292px,#23527c 0 293px,#21597c 0 294px,#1d637d 0 295px,#264878 0 296px,#2f1b5a 0 297px,#2e1c56 0 298px,#25507a 0 299px,#2f1956 0 300px,#244f7b 0 301px,#1f5e7d 0 302px,#23527c 0 303px,#205c7c 0 304px,#1c667b 0 305px,#2e1d58 0 306px,#264a7b 0 307px,#21597c 0 308px,#1d647d 0 309px,#21597c 0 310px,#22567c 0 311px,#254d7b 0 312px,#205b7d 0 313px,#2d1e57 0 314px,#23527c 0 315px,#2d1f56 0 316px,#311d5f 0 317px,#300f4b 0 318px,#1e607c 0 319px,#21577c 0 320px,#1e607d 0 321px,#22567c 0 322px,#22557c 0 324px,#244f7b 0 325px,#24517c 0 326px,#205676 0 327px,#2b285d 0 328px,#24507c 0 329px,#22547c 0 330px,#21577c 0 331px,#2b2659 0 332px,#21557a 0 333px,#23517c 0 334px,#283566 0 335px,#214f6d 0 336px,#1a6b7c 0 337px,#244e7b 0 338px,#22557c 0 339px,#2c2257 0 340px,#23537c 0 341px,#1f5f7d 0 342px,#21597c 0 343px,#2b3e77 0 344px,#294278 0 345px,#21577c 0 346px,#1b687c 0 347px,#22557c 0 348px,#20597c 0 349px,#1f5d7b 0 350px,#196d7c 0 351px,#2a2859 0 352px,#17757a 0 353px,#292c56 0 354px,#1a6c7c 0 355px,#18727c 0 356px,#244f7b 0 357px,#22557c 0 358px,#264a7b 0 359px,#1d637d 0 360px,#1e607d 0 361px,#1b6a7c 0 362px,#1f5c7d 0 364px,#1f5e7d 0 365px,#1c667d 0 366px,#1b6a7c 0 367px,#22557c 0 368px,#264b7b 0 369px,#205a7c 0 370px,#196f7c 0 371px,#1b6a7d 0 372px,#292957 0 373px,#1a6c7d 0 374px,#254c7b 0 375px,#2f1956 0 376px,#22557c 0 377px,#23517c 0 378px,#2f1d5c 0 379px,#264575 0 380px,#1e627d 0 381px,#254f7b 0 382px,#1b697d 0 383px,#24517c 0 384px,#244f7b 0 385px,#245179 0 386px,#1d627d 0 387px,#2c3972 0 388px,#294278 0 389px,#254c7b 0 390px,#244f7b 0 391px,#2a407a 0 392px,#22557c 0 393px,#2e3370 0 394px,#1e617d 0 395px,#21567c 0 396px,#283160 0 397px,#234c73 0 398px,#1b6a7d 0 399px,#23486d 0 400px,#2b2e65 0 401px,#1c667d 0 402px,#24507b 0 403px,#2f3275 0 404px,#2e1b56 0 405px,#1e607d 0 406px,#254e7b 0 407px,#1a717a 0 408px,#1e647c 0 409px,#254c7b 0 410px,#2b3d79 0 411px,#264a7a 0 412px,#167b7b 0 413px,#1f5d7c 0 414px,#244f7b 0 415px,#1f5e7c 0 416px,#2f3476 0 417px,#205d7a 0 418px,#2a4079 0 419px,#2d1d57 0 420px,#1b697c 0 421px,#21597b 0 422px,#1b6b7d 0 423px,#28447a 0 424px,#22547c 0 425px,#1b697d 0 426px,#1f5e7c 0 427px,#23537b 0 428px,#2e1c56 0 429px,#1e627d 0 430px,#273b6a 0 431px,#2a3268 0 432px,#22557c 0 433px,#22567c 0 434px,#205b7d 0 435px,#2f1956 0 436px,#235579 0 437px,#21597c 0 438px,#2c245a 0 439px,#2f1552 0 440px,#1f5f7c 0 441px,#214b67 0 442px,#204f6b 0 443px,#22567b 0 444px,#2b2456 0 445px,#2c265f 0 446px,#2d174d 0 447px,#167a7b 0 448px,#1e617c 0 449px,#196e7d 0 450px,#23476a 0 451px,#23486a 0 452px,#1d647d 0 453px,#1d657d 0 454px,#196f7c 0 455px,#1a6e7d 0 456px,#1a6f7c 0 457px,#196f7c 0 458px,#1b6a7d 0 459px,#273c6b 0 460px,#214c68 0 461px,#1b677d 0 462px,#1b6a7d 0 463px,#21587c 0 464px,#1b6873 0 465px,#330042 0 476px,#351057 0 477px,#330346 0 478px,#330042 0 485px,#33155a 0 486px,#330548 0 487px,#330042 0 510px,#360c54 0 511px,#330042 0 541px,#331156 0 542px,#33094d 0 543px,#330042 0 547px,#350c53 0 548px,#330043 0 549px,#330042 0 577px,#35135b 0 578px,#331a60 0 579px,#330042 0 580px,#331a60 0 581px,#35084f 0 582px,#340448 0 583px,#330042 0 586px,#360c54 0 587px,#330042 0 588px,#321254 0 589px,#320f51 0 590px,#330042 0 609px,#360c54 0 610px,#330042 0 658px,#320546 0 659px,#2e2462 0 660px,#330042 0 673px,#2e1851 0 674px,#254d7b 0 676px,#2d1c55 0 677px,#2d2058 0 678px,#22547c 0 679px,#2a4079 0 680px,#2f1956 0 681px,#24507b 0 682px,#23527c 0 683px,#22557c 0 684px,#2d3a78 0 685px,#301756 0)"></div>
<div style="background:linear-gradient(90deg,#330042 0 2px,#331156 0 3px,#33094d 0 4px,#330042 0 5px,#34064a 0 6px,#340d53 0 7px,#330042 0 13px,#340e54 0 14px,#350b52 0 15px,#330042 0 16px,#340449 0 17px,#35084d 0 18px,#330042 0 21px,#35135b 0 22px,#330042 0 23px,#35135b 0 24px,#330042 0 30px,#331b62 0 31px,#37135e 0 32px,#34094e 0 33px,#33165b 0 34px,#35135b 0 35px,#351057 0 36px,#35165f 0 37px,#330042 0 38px,#331a60 0 39px,#330042 0 41px,#35165f 0 42px,#351158 0 43px,#330042 0 50px,#331a60 0 51px,#330042 0 52px,#330447 0 53px,#350f56 0 54px,#34064a 0 55px,#322a70 0 56px,#330547 0 57px,#330042 0 58px,#312468 0 59px,#340346 0 60px,#330042 0 63px,#310b4c 0 64px,#2f1e5d 0 65px,#330042 0 68px,#330143 0 69px,#331a60 0 70px,#330346 0 71px,#33175d 0 72px,#330042 0 76px,#34084d 0 77px,#340b50 0 78px,#330e52 0 79px,#302e72 0 80px,#330042 0 90px,#35064b 0 91px,#330042 0 96px,#361c66 0 97px,#340b50 0 98px,#331a60 0 99px,#330345 0 100px,#33185d 0 101px,#330447 0 102px,#350f56 0 103px,#36105a 0 104px,#33256b 0 105px,#330547 0 106px,#35064b 0 107px,#330042 0 109px,#340c51 0 110px,#340b50 0 111px,#361e69 0 112px,#340649 0 113px,#351057 0 114px,#330447 0 115px,#330042 0 119px,#330446 0 120px,#311d5f 0 121px,#330042 0 123px,#2d2966 0 124px,#330042 0 126px,#302163 0 127px,#330143 0 128px,#330042 0 136px,#34064b 0 138px,#330042 0 145px,#331a60 0 146px,#330042 0 165px,#35135b 0 166px,#330042 0 170px,#331a60 0 171px,#330042 0 181px,#302264 0 182px,#330042 0 183px,#330a4e 0 184px,#331055 0 185px,#330042 0 186px,#2a3268 0 187px,#23527c 0 188px,#264a7b 0 189px,#22557c 0 190px,#254e7b 0 191px,#264a7b 0 192px,#254e7b 0 193px,#2a407a 0 194px,#2f1a56 0 195px,#2e1a56 0 196px,#253e68 0 197px,#34195f 0 198px,#205a7c 0 199px,#234c75 0 200px,#2b295e 0 201px,#205a7c 0 202px,#24507c 0 203px,#310847 0 204px,#283566 0 205px,#2c3c78 0 206px,#294178 0 207px,#2e1d58 0 208px,#23517c 0 209px,#1f5d7b 0 210px,#254d7b 0 211px,#1b6b7b 0 212px,#2c2156 0 213px,#21577c 0 214px,#22557c 0 215px,#205c7c 0 216px,#23517c 0 217px,#264b7b 0 218px,#22557c 0 219px,#264b7b 0 220px,#264a7b 0 221px,#21577c 0 222px,#1c667d 0 223px,#254e7a 0 224px,#27497a 0 225px,#2d3977 0 226px,#23547c 0 227px,#2b3d78 0 228px,#24507c 0 229px,#2a407a 0 230px,#244f7b 0 231px,#205b7c 0 232px,#21577c 0 233px,#1e627d 0 234px,#244f7b 0 235px,#27477b 0 236px,#20597c 0 237px,#1c657d 0 238px,#24507c 0 239px,#27487b 0 240px,#264b7b 0 241px,#1e607c 0 242px,#24507c 0 243px,#254e7b 0 244px,#205c7c 0 245px,#22557c 0 246px,#1f5d7d 0 247px,#205b7d 0 248px,#264a7b 0 249px,#294479 0 250px,#254c7b 0 251px,#1e617c 0 252px,#294378 0 253px,#2d2058 0 254px,#1f5d7b 0 255px,#264a7b 0 256px,#27487b 0 257px,#24507b 0 258px,#1e607d 0 259px,#22557c 0 260px,#2b285d 0 261px,#254875 0 262px,#264a7b 0 263px,#254d7b 0 264px,#2b3f78 0 265px,#2a4078 0 266px,#2e1d56 0 267px,#28447a 0 268px,#27487b 0 269px,#254f7a 0 270px,#21597b 0 271px,#254c7b 0 272px,#264b7b 0 273px,#23517c 0 274px,#253f69 0 275px,#2d2c69 0 276px,#284679 0 277px,#1d637d 0 278px,#2a407a 0 279px,#264271 0 280px,#283462 0 281px,#21597c 0 282px,#20597c 0 283px,#292857 0 284px,#1f5f7c 0 285px,#28447a 0 286px,#28457a 0 287px,#205a7c 0 288px,#264b7b 0 289px,#1a6a7c 0 290px,#22547c 0 291px,#28467b 0 292px,#27477b 0 293px,#2a407a 0 294px,#254e7b 0 295px,#205b7d 0 296px,#24527b 0 297px,#205675 0 298px,#2d245e 0 299px,#1f5f7c 0 300px,#205c7c 0 301px,#205b7c 0 302px,#264a7b 0 303px,#23466a 0 304px,#273a6a 0 305px,#22557c 0 306px,#254e7b 0 307px,#24507c 0 308px,#264b7a 0 309px,#2a4077 0 310px,#29427a 0 311px,#2f1a59 0 312px,#225478 0 313px,#294379 0 314px,#1f5c7d 0 315px,#2b3d78 0 316px,#294279 0 317px,#27497b 0 318px,#1e607d 0 319px,#300e4b 0 320px,#330042 0 321px,#2a3e75 0 322px,#24507a 0 323px,#21597c 0 324px,#294478 0 325px,#273965 0 326px,#283d6e 0 327px,#2b3e78 0 328px,#254c7b 0 329px,#244f7b 0 330px,#273f6d 0 331px,#293365 0 332px,#27477b 0 333px,#205c7d 0 334px,#2b2e65 0 335px,#2c306b 0 336px,#2c2962 0 337px,#244871 0 338px,#24507c 0 339px,#2b3f78 0 340px,#21577c 0 342px,#2d3877 0 343px,#24507b 0 344px,#254d7a 0 345px,#253d64 0 346px,#224d70 0 347px,#254f77 0 348px,#2b3e79 0 349px,#2d215c 0 350px,#264676 0 351px,#27487b 0 352px,#22557c 0 353px,#23537b 0 354px,#33276e 0 355px,#205874 0 356px,#2f1d5c 0 357px,#1c677c 0 358px,#1c657d 0 359px,#23537c 0 360px,#2a275a 0 361px,#302264 0 362px,#330143 0 363px,#1b6a7d 0 364px,#2b2357 0 365px,#244f7b 0 366px,#205a7c 0 367px,#264a7b 0 368px,#205a7c 0 369px,#1e617d 0 370px,#24517c 0 371px,#2d3877 0 372px,#253f69 0 373px,#2a346a 0 374px,#2a4179 0 375px,#2a4078 0 376px,#2e3372 0 377px,#264b7b 0 378px,#1d637c 0 379px,#254e7b 0 380px,#2c2259 0 381px,#294178 0 382px,#264b7b 0 383px,#1a6f7b 0 384px,#2d1f57 0 385px,#1a6e7c 0 386px,#264c7a 0 387px,#2f1f5d 0 388px,#234e75 0 389px,#28447a 0 390px,#21587c 0 391px,#23517c 0 392px,#27497a 0 393px,#321254 0 394px,#294476 0 395px,#2a4278 0 396px,#2a407a 0 397px,#205b7d 0 398px,#205a7c 0 399px,#22557c 0 400px,#244e7b 0 401px,#331c62 0 402px,#34165d 0 403px,#264a7b 0 404px,#264b7b 0 405px,#24507c 0 406px,#2a4079 0 407px,#312e73 0 408px,#20597c 0 409px,#284679 0 410px,#254c7b 0 411px,#1e627d 0 412px,#27487b 0 413px,#21597c 0 414px,#2f3375 0 415px,#27467b 0 416px,#205a7b 0 417px,#214f70 0 418px,#311d5f 0 419px,#23547c 0 420px,#27467b 0 421px,#254e7b 0 422px,#254c7b 0 423px,#2a4178 0 424px,#28457a 0 425px,#23547b 0 426px,#23537b 0 427px,#2c3a78 0 428px,#2b3d79 0 429px,#33276e 0 430px,#22567c 0 431px,#1e5f7d 0 432px,#23547b 0 433px,#1f5c7c 0 434px,#244f7b 0 435px,#254c7b 0 436px,#264a7b 0 437px,#23517c 0 438px,#28447a 0 439px,#21587c 0 440px,#2e1a56 0 441px,#2c2257 0 442px,#18737c 0 443px,#254c7b 0 444px,#205a7c 0 445px,#1e607d 0 446px,#2b2457 0 447px,#1d637c 0 448px,#23527c 0 449px,#21587c 0 450px,#1c667d 0 451px,#244e79 0 452px,#330042 0 453px,#2c316c 0 454px,#28457b 0 455px,#23537c 0 456px,#1e607d 0 457px,#22567c 0 458px,#205c7d 0 459px,#1f5d7d 0 460px,#1f5c7d 0 461px,#22557c 0 462px,#205b7d 0 463px,#21587c 0 464px,#28477a 0 465px,#311a5c 0 466px,#330042 0 468px,#34084d 0 469px,#340b50 0 470px,#312c71 0 471px,#34094e 0 472px,#330042 0 477px,#340246 0 478px,#340448 0 479px,#330042 0 480px,#331c62 0 481px,#312062 0 482px,#330346 0 483px,#351158 0 484px,#330649 0 485px,#35236d 0 486px,#330447 0 487px,#35054a 0 488px,#330143 0 489px,#331a60 0 490px,#330042 0 491px,#35135b 0 492px,#330042 0 495px,#35135b 0 496px,#330042 0 497px,#331a60 0 498px,#35135a 0 499px,#34256e 0 500px,#34094e 0 501px,#330042 0 502px,#35135b 0 503px,#35094f 0 504px,#341e65 0 505px,#330042 0 506px,#34074b 0 507px,#340c52 0 508px,#35135b 0 509px,#330042 0 510px,#360c54 0 511px,#330042 0 519px,#360c54 0 520px,#330143 0 521px,#350b53 0 522px,#331a60 0 523px,#330042 0 524px,#340649 0 525px,#340e54 0 526px,#302264 0 527px,#330042 0 528px,#330d51 0 529px,#330e52 0 530px,#350c53 0 531px,#330042 0 544px,#35135b 0 545px,#330042 0 546px,#331a60 0 547px,#330042 0 549px,#331a60 0 550px,#330042 0 551px,#330346 0 552px,#351057 0 553px,#330042 0 554px,#2e225f 0 555px,#320849 0 556px,#330042 0 557px,#331a60 0 558px,#330042 0 563px,#2e205e 0 564px,#2f2b6c 0 565px,#330042 0 568px,#321254 0 569px,#321153 0 570px,#350b53 0 571px,#330648 0 572px,#311b5d 0 573px,#330042 0 578px,#331a60 0 579px,#340b51 0 580px,#34084c 0 581px,#330042 0 582px,#330548 0 583px,#340f55 0 584px,#35135b 0 585px,#330042 0 588px,#331a60 0 589px,#330042 0 593px,#35064b 0 594px,#311d5f 0 595px,#330547 0 596px,#330042 0 599px,#2f1958 0 600px,#311050 0 601px,#330042 0 606px,#34094e 0 607px,#340a4f 0 608px,#340b50 0 609px,#340a4f 0 610px,#371863 0 611px,#340b50 0 612px,#361864 0 613px,#340346 0 614px,#330042 0 618px,#331a60 0 619px,#330042 0 624px,#35135b 0 625px,#330042 0 631px,#302264 0 632px,#33155a 0 633px,#330548 0 634px,#330042 0 635px,#302264 0 636px,#330042 0 640px,#302264 0 641px,#330042 0 642px,#33084b 0 643px,#331257 0 644px,#330042 0 645px,#35135a 0 646px,#330143 0 647px,#330042 0 648px,#331055 0 649px,#330a4e 0 650px,#330042 0 658px,#320747 0 659px,#254c7b 0 660px,#310d4e 0 661px,#330042 0 662px,#340448 0 663px,#35084e 0 664px,#330042 0 672px,#351057 0 673px,#311354 0 674px,#312b70 0 675px,#1f5d7c 0 676px,#294378 0 677px,#27487b 0 678px,#254c7b 0 679px,#28447a 0 680px,#264a7b 0 681px,#24507c 0 682px,#26497b 0 683px,#254c7b 0 684px,#2b2457 0 685px,#284778 0)"></div>
<div style="background:linear-gradient(90deg,#302264 0 1px,#330345 0 2px,#311e60 0 3px,#331a60 0 4px,#2f1f5d 0 5px,#321254 0 6px,#2e3676 0 7px,#2c2f6b 0 8px,#35135a 0 9px,#312265 0 10px,#320344 0 11px,#293365 0 12px,#320748 0 13px,#2e2360 0 14px,#2c3470 0 15px,#2d3a78 0 16px,#2d2f6c 0 17px,#311f61 0 18px,#24507b 0 19px,#2f1955 0 20px,#301857 0 21px,#27477b 0 22px,#244f7b 0 23px,#27487a 0 24px,#33145a 0 25px,#254673 0 26px,#2d205b 0 27px,#320e50 0 28px,#2f3476 0 29px,#330143 0 30px,#302264 0 31px,#2e1e59 0 32px,#2b3e78 0 33px,#284677 0 34px,#311354 0 35px,#28457b 0 36px,#2b3e79 0 37px,#2c3b78 0 38px,#330344 0 39px,#330244 0 40px,#244e7b 0 41px,#264676 0 42px,#2f1d5b 0 43px,#2c3b77 0 44px,#34246d 0 45px,#301655 0 46px,#2e1f5a 0 47px,#2f3173 0 48px,#321254 0 49px,#330042 0 50px,#2d2d6a 0 51px,#2f3476 0 52px,#274273 0 53px,#31195b 0 54px,#2d316e 0 55px,#2c2962 0 56px,#330f52 0 57px,#340b51 0 58px,#2d2966 0 59px,#2d2b68 0 60px,#33195e 0 61px,#331a60 0 62px,#2d225c 0 63px,#310e4c 0 64px,#350a51 0 65px,#33266f 0 66px,#331155 0 67px,#331a60 0 68px,#360c54 0 69px,#301857 0 70px,#311251 0 71px,#330042 0 73px,#2e205e 0 74px,#341d63 0 75px,#330042 0 77px,#302163 0 78px,#301756 0 79px,#2f1856 0 80px,#23537c 0 81px,#311455 0 82px,#312e73 0 83px,#330e52 0 84px,#361e69 0 85px,#303275 0 86px,#2a4179 0 87px,#321d63 0 88px,#283969 0 89px,#2b3d77 0 90px,#361760 0 91px,#2d215b 0 92px,#2b3e78 0 93px,#294479 0 94px,#320749 0 95px,#2e2562 0 96px,#2f3576 0 97px,#294279 0 98px,#330042 0 99px,#2a356b 0 100px,#2a4179 0 101px,#302d6f 0 102px,#2f1f5d 0 103px,#29427a 0 104px,#2b3e78 0 105px,#25436d 0 106px,#330042 0 107px,#294178 0 108px,#321052 0 109px,#311557 0 110px,#311555 0 111px,#2a4079 0 112px,#320a4c 0 113px,#330042 0 114px,#331a60 0 115px,#2b2c64 0 116px,#312e72 0 117px,#340b50 0 118px,#284578 0 119px,#2a3f78 0 120px,#2d3978 0 121px,#311555 0 122px,#311a5c 0 123px,#330042 0 125px,#2f3072 0 126px,#321355 0 127px,#35135b 0 128px,#330042 0 136px,#321052 0 137px,#321153 0 138px,#330042 0 140px,#2f1d5b 0 141px,#310d4d 0 142px,#311b5d 0 143px,#322167 0 144px,#330042 0 146px,#2d2966 0 147px,#330042 0 148px,#302264 0 149px,#330042 0 151px,#2f1f5d 0 152px,#28447a 0 153px,#311759 0 154px,#320e50 0 155px,#311456 0 156px,#331a60 0 157px,#330042 0 158px,#2f1958 0 159px,#311455 0 160px,#33165b 0 161px,#330042 0 163px,#2a3b74 0 164px,#2e1e59 0 165px,#2f3173 0 166px,#322d73 0 167px,#302163 0 168px,#330446 0 169px,#311d5f 0 170px,#330649 0 171px,#33145a 0 172px,#331a60 0 173px,#330042 0 174px,#311251 0 175px,#2d3877 0 176px,#330143 0 177px,#330244 0 178px,#2e3675 0 179px,#301655 0 180px,#33165b 0 181px,#330042 0 183px,#301250 0 184px,#2e1d58 0 185px,#283767 0 186px,#330042 0 187px,#35074d 0 188px,#340549 0 189px,#330042 0 196px,#360c54 0 197px,#330042 0 199px,#330548 0 200px,#33155a 0 201px,#330042 0 207px,#340c51 0 208px,#34084c 0 209px,#330042 0 229px,#340e54 0 230px,#36115b 0 231px,#330042 0 232px,#320d4f 0 233px,#2f3476 0 234px,#340c50 0 235px,#340a4f 0 236px,#330042 0 246px,#330144 0 247px,#350b52 0 248px,#330042 0 252px,#331a60 0 253px,#330042 0 263px,#34064a 0 264px,#34074c 0 265px,#330042 0 266px,#330245 0 267px,#351158 0 268px,#330042 0 277px,#330245 0 278px,#350a51 0 279px,#35064b 0 280px,#330042 0 285px,#35074d 0 286px,#340549 0 287px,#340448 0 288px,#340245 0 289px,#330042 0 296px,#340d52 0 297px,#34094e 0 298px,#350a50 0 299px,#330042 0 307px,#331358 0 308px,#2d316f 0 309px,#330042 0 310px,#330a4d 0 311px,#331155 0 312px,#330042 0 315px,#330346 0 316px,#33175d 0 317px,#27406f 0 318px,#28457a 0 319px,#2b346e 0 320px,#2c2a62 0 321px,#2b3f78 0 322px,#22557c 0 323px,#340b50 0 324px,#34246c 0 325px,#311557 0 326px,#2f3476 0 327px,#311b5d 0 328px,#2c3370 0 329px,#31185a 0 330px,#2a3d74 0 331px,#27487a 0 332px,#2d3870 0 333px,#2b3f75 0 334px,#244e7b 0 335px,#28467b 0 337px,#2f3374 0 338px,#24507c 0 339px,#2b3e78 0 340px,#331156 0 341px,#274577 0 342px,#23517c 0 343px,#2b3067 0 344px,#34195f 0 345px,#293164 0 346px,#2d2966 0 347px,#330042 0 348px,#320a4c 0 349px,#311759 0 350px,#302264 0 351px,#312062 0 352px,#330143 0 353px,#302264 0 354px,#330042 0 355px,#2d2e6b 0 356px,#33165b 0 357px,#310b4c 0 358px,#2d3a78 0 359px,#341961 0 360px,#2e2663 0 361px,#2f3576 0 362px,#34256d 0 363px,#330042 0 366px,#2d2966 0 367px,#2e205e 0 368px,#29396f 0 369px,#330042 0 370px,#311251 0 371px,#27467b 0 372px,#2d1e57 0 373px,#2e1a54 0 374px,#330042 0 377px,#2b3067 0 378px,#330042 0 380px,#293365 0 381px,#311455 0 382px,#321254 0 383px,#33195f 0 384px,#320647 0 385px,#2e3676 0 386px,#33084b 0 387px,#2a2c60 0 388px,#310b4a 0 389px,#330042 0 390px,#320f51 0 391px,#2f3476 0 392px,#302264 0 393px,#2d2d6a 0 394px,#28447a 0 395px,#301655 0 396px,#33155a 0 397px,#31276b 0 398px,#2a407a 0 399px,#1f5e7c 0 400px,#2e1c58 0 401px,#283767 0 402px,#2d2c68 0 403px,#264a7b 0 404px,#2a3c74 0 405px,#331358 0 406px,#321054 0 407px,#2a4079 0 408px,#310949 0 409px,#33185e 0 410px,#2b3269 0 411px,#331b61 0 412px,#322d73 0 413px,#264b7a 0 414px,#2c2a62 0 415px,#2c336e 0 416px,#2e3476 0 417px,#254f7a 0 418px,#254d7a 0 419px,#254c7b 0 420px,#2c3c78 0 421px,#264a7b 0 422px,#2c3875 0 423px,#330042 0 424px,#283767 0 425px,#2b285d 0 426px,#283e71 0 427px,#2c2861 0 428px,#28467b 0 429px,#2c2259 0 430px,#2b3067 0 431px,#283869 0 432px,#312d73 0 433px,#32286e 0 434px,#331257 0 435px,#33084b 0 436px,#2e215f 0 437px,#320849 0 438px,#330042 0 439px,#302d71 0 440px,#301756 0 441px,#331a60 0 442px,#330345 0 443px,#311e60 0 444px,#30286a 0 445px,#311b5d 0 446px,#2b3067 0 447px,#330042 0 448px,#34084c 0 449px,#2c3974 0 450px,#330244 0 451px,#302466 0 452px,#311f61 0 453px,#330042 0 455px,#2d2966 0 456px,#330042 0 457px,#302264 0 458px,#311f61 0 459px,#302466 0 460px,#330143 0 461px,#302163 0 462px,#331e64 0 463px,#312e73 0 464px,#2a3f79 0 465px,#22557c 0 466px,#300e4b 0 467px,#293063 0 468px,#28447a 0 469px,#29447a 0 470px,#27467b 0 471px,#235179 0 472px,#330042 0 473px,#310a49 0 474px,#22557c 0 475px,#2f1856 0 476px,#284679 0 477px,#264a79 0 478px,#294478 0 479px,#2e3575 0 480px,#21587c 0 481px,#244e7b 0 482px,#28467b 0 483px,#21587c 0 484px,#2d1f56 0 485px,#2a407a 0 486px,#24507b 0 487px,#21577c 0 488px,#273c6b 0 489px,#302264 0 490px,#21587c 0 491px,#29437a 0 492px,#2a407a 0 493px,#29417a 0 494px,#244f7b 0 495px,#28457b 0 496px,#24507c 0 497px,#244f7b 0 498px,#301857 0 499px,#2f1855 0 500px,#264b7b 0 501px,#254f7a 0 502px,#2f3476 0 503px,#294379 0 504px,#312c6f 0 505px,#264b7a 0 506px,#27477a 0 507px,#2c3b78 0 508px,#24517c 0 509px,#29437a 0 510px,#2a4078 0 511px,#254e7b 0 512px,#24507c 0 513px,#27477b 0 514px,#24507c 0 515px,#27467b 0 516px,#2a407a 0 518px,#27467b 0 519px,#2c2257 0 520px,#1f5b7a 0 521px,#2a275a 0 522px,#23527c 0 523px,#264b7a 0 524px,#311555 0 525px,#264b7b 0 526px,#27477b 0 527px,#27487b 0 528px,#312d73 0 529px,#321153 0 530px,#330042 0 531px,#302668 0 532px,#2d3978 0 533px,#27487b 0 534px,#264a7b 0 535px,#28457a 0 536px,#2a4179 0 537px,#301756 0 538px,#27467b 0 539px,#302264 0 540px,#320546 0 541px,#2a4179 0 542px,#2a3b72 0 543px,#2b295e 0 544px,#300d4b 0 545px,#2e2361 0 546px,#2e1c56 0 547px,#2d2058 0 548px,#302f73 0 549px,#303175 0 550px,#264a7b 0 551px,#23517c 0 552px,#2c2861 0 553px,#2b376f 0 554px,#2e3576 0 555px,#2a407a 0 556px,#28467b 0 557px,#294278 0 558px,#2c2156 0 559px,#2e1b57 0 560px,#244b77 0 561px,#2a2a5c 0 562px,#2a4078 0 563px,#28457a 0 564px,#2c336e 0 565px,#311d5f 0 566px,#244f7b 0 567px,#29447a 0 568px,#321355 0 569px,#322d73 0 570px,#2d3978 0 571px,#205c7c 0 572px,#244f7b 0 573px,#22557c 0 574px,#264a7b 0 575px,#320748 0 576px,#311f61 0 577px,#2d2b68 0 578px,#283969 0 579px,#27487a 0 580px,#264b7a 0 581px,#2a4079 0 582px,#264b7b 0 583px,#2d3a78 0 584px,#24517b 0 585px,#2c245a 0 586px,#283767 0 587px,#2d2966 0 588px,#1f5f7c 0 589px,#2f1552 0 590px,#2c245a 0 591px,#27477b 0 592px,#2a4077 0 593px,#21577b 0 594px,#2a2b5c 0 595px,#302a6a 0 596px,#244e7b 0 597px,#301756 0 598px,#27487b 0 599px,#263a66 0 600px,#2b3067 0 601px,#2d225c 0 602px,#27487b 0 603px,#264b7b 0 604px,#26497b 0 605px,#28467b 0 606px,#320445 0 607px,#283868 0 608px,#29447a 0 609px,#21587c 0 610px,#23547c 0 611px,#22547c 0 612px,#2c3a78 0 613px,#264c7b 0 614px,#2a407a 0 615px,#2e1d56 0 616px,#254e7b 0 617px,#264a7b 0 619px,#2b2c64 0 620px,#2b336d 0 621px,#205a7c 0 622px,#2a4078 0 623px,#264a7b 0 624px,#2b3e79 0 625px,#2f3476 0 626px,#2c3c79 0 627px,#322c71 0 628px,#2d2058 0 629px,#254c7b 0 630px,#254e7b 0 631px,#2c346f 0 632px,#330042 0 633px,#293e73 0 634px,#2f3375 0 635px,#2a4078 0 636px,#23527c 0 637px,#29447a 0 638px,#2f1956 0 639px,#312f74 0 640px,#2f3375 0 641px,#2e215f 0 642px,#283767 0 643px,#263b63 0 644px,#29447a 0 645px,#28467b 0 646px,#2d3977 0 647px,#28467a 0 648px,#311f61 0 649px,#310948 0 650px,#2a2e61 0 651px,#322369 0 652px,#284579 0 653px,#294278 0 654px,#1e607d 0 655px,#2c2e69 0 656px,#302264 0 657px,#2d3877 0 658px,#311455 0 659px,#351158 0 660px,#2b346e 0 661px,#22557c 0 662px,#301754 0 663px,#294277 0 664px,#2f1856 0 665px,#2a407a 0 666px,#205b7c 0 667px,#2d3877 0 668px,#28447a 0 669px,#29427a 0 670px,#28457a 0 671px,#2e1a56 0 672px,#264a7b 0 673px,#2b3f78 0 674px,#22557c 0 675px,#2d2d68 0 676px,#283969 0 677px,#264a7b 0 678px,#301351 0 679px,#2d215b 0 680px,#2b3871 0 681px,#330042 0 682px,#2d2966 0 683px,#330042 0 684px,#253e68 0 685px,#302264 0)"></div>
<div style="background:linear-gradient(90deg,#330042 0 1px,#35064b 0 2px,#330042 0 4px,#2f1f5d 0 5px,#321053 0 6px,#340d53 0 7px,#34084c 0 8px,#340b51 0 9px,#302264 0 10px,#330143 0 11px,#37135e 0 12px,#34084d 0 13px,#351057 0 14px,#340347 0 15px,#37135e 0 16px,#330245 0 17px,#330042 0 19px,#35064b 0 20px,#330042 0 23px,#35074d 0 24px,#340449 0 25px,#34064a 0 26px,#340d53 0 27px,#330042 0 28px,#35064b 0 29px,#35135b 0 31px,#330042 0 32px,#35135b 0 33px,#330042 0 36px,#340549 0 37px,#37135e 0 38px,#34074c 0 39px,#34064c 0 40px,#35064b 0 41px,#330042 0 49px,#330f53 0 50px,#330c50 0 51px,#330042 0 56px,#340246 0 57px,#340347 0 58px,#330042 0 69px,#340b50 0 70px,#340a4f 0 71px,#37135e 0 72px,#340448 0 73px,#330042 0 78px,#340a4f 0 80px,#35054a 0 81px,#330042 0 82px,#340e54 0 83px,#340549 0 84px,#330042 0 85px,#331a60 0 86px,#35125a 0 87px,#330144 0 88px,#330042 0 90px,#330446 0 91px,#33175c 0 92px,#340346 0 93px,#350950 0 94px,#360c54 0 95px,#330042 0 98px,#321254 0 99px,#320f51 0 100px,#330042 0 107px,#331a60 0 108px,#330042 0 109px,#340c51 0 110px,#340b50 0 111px,#351057 0 112px,#330042 0 113px,#350a51 0 114px,#330245 0 115px,#330042 0 119px,#330446 0 120px,#311d5f 0 121px,#32084a 0 122px,#2f3476 0 123px,#32084a 0 124px,#330042 0 127px,#35064b 0 128px,#330244 0 129px,#34256e 0 130px,#34074b 0 131px,#330042 0 132px,#2e2d6b 0 133px,#361964 0 134px,#360f58 0 135px,#330042 0 137px,#330143 0 138px,#35135a 0 139px,#330042 0 140px,#340d53 0 141px,#34064a 0 142px,#33155a 0 143px,#340c51 0 144px,#361e69 0 145px,#371762 0 146px,#340b50 0 147px,#330042 0 150px,#35165f 0 151px,#351e67 0 152px,#330649 0 153px,#330042 0 154px,#34084c 0 155px,#340b51 0 156px,#330042 0 161px,#340347 0 162px,#35094f 0 163px,#330042 0 169px,#340d53 0 170px,#361a63 0 171px,#350a50 0 172px,#340346 0 173px,#330042 0 174px,#331a60 0 175px,#330042 0 176px,#340a4f 0 177px,#34094e 0 178px,#340c52 0 179px,#34074b 0 180px,#330042 0 182px,#311c5e 0 183px,#330547 0 184px,#330042 0 186px,#35155d 0 187px,#312062 0 188px,#330042 0 201px,#33084b 0 202px,#331257 0 203px,#330042 0 211px,#350549 0 212px,#360d56 0 213px,#330042 0 215px,#331b61 0 216px,#360c54 0 217px,#330042 0 240px,#350f56 0 241px,#330447 0 242px,#330042 0 250px,#360c54 0 251px,#330042 0 252px,#360c54 0 253px,#330042 0 257px,#330447 0 258px,#33165b 0 259px,#330042 0 266px,#35135b 0 267px,#330042 0 269px,#33145a 0 270px,#330649 0 271px,#330042 0 272px,#320e50 0 273px,#321355 0 274px,#330042 0 290px,#34074b 0 291px,#340d52 0 292px,#330042 0 309px,#33165b 0 310px,#330f53 0 311px,#331155 0 312px,#330042 0 315px,#341960 0 316px,#264a7b 0 317px,#254673 0 318px,#2c255e 0 319px,#293a6f 0 320px,#33175d 0 321px,#2d2c6a 0 322px,#2d2865 0 323px,#2d2a67 0 324px,#204f6a 0 325px,#2a4179 0 326px,#2e3576 0 327px,#2c3a78 0 328px,#2d3877 0 329px,#264a7b 0 330px,#29386d 0 331px,#33195e 0 332px,#2f1956 0 333px,#29437a 0 334px,#28447a 0 335px,#26497b 0 337px,#23527c 0 338px,#2a407a 0 339px,#2d3877 0 340px,#28467b 0 341px,#23517c 0 342px,#29447a 0 343px,#2c3c78 0 344px,#2c3b78 0 345px,#2a407a 0 346px,#2b3e79 0 347px,#312f74 0 348px,#294379 0 349px,#264c7b 0 350px,#301655 0 351px,#312d73 0 352px,#2a3f7a 0 353px,#22567c 0 354px,#244066 0 355px,#302668 0 356px,#2f3475 0 357px,#310c4c 0 358px,#2e225f 0 359px,#2d3877 0 360px,#254c7b 0 361px,#2c3c78 0 362px,#2e3575 0 363px,#2c3c79 0 364px,#29437a 0 365px,#27497b 0 366px,#26497a 0 367px,#312e74 0 368px,#30276a 0 369px,#2e2462 0 370px,#302768 0 371px,#283667 0 372px,#311355 0 373px,#2c3c79 0 374px,#2a407a 0 375px,#301555 0 376px,#322a70 0 377px,#2e2e6d 0 378px,#33165b 0 379px,#2c3b78 0 380px,#2f3476 0 381px,#205b7c 0 382px,#254d7b 0 383px,#2c3c78 0 384px,#29447a 0 385px,#2c2962 0 386px,#2b376f 0 387px,#2b295e 0 388px,#31296d 0 389px,#2d3978 0 390px,#2a336a 0 391px,#2d2966 0 392px,#294478 0 393px,#27487a 0 394px,#2c3c76 0 395px,#2d1d56 0 396px,#264a7b 0 397px,#29427a 0 398px,#312d71 0 399px,#332870 0 400px,#2b3d77 0 401px,#254e7b 0 402px,#2a417a 0 403px,#254d7b 0 404px,#284075 0 405px,#331358 0 406px,#284479 0 407px,#2b3e78 0 408px,#303175 0 409px,#274a78 0 410px,#1d637d 0 411px,#205c7d 0 412px,#2b3d75 0 413px,#1c667d 0 414px,#254d7a 0 415px,#264b7a 0 416px,#264a7b 0 417px,#24517c 0 418px,#23527c 0 419px,#301655 0 420px,#2c3c79 0 421px,#322d73 0 422px,#264c7a 0 423px,#21577c 0 424px,#2a417a 0 425px,#312f74 0 426px,#294379 0 427px,#2d3a78 0 428px,#302769 0 429px,#293365 0 430px,#2b3d79 0 431px,#34246c 0 432px,#340b51 0 433px,#330e51 0 434px,#2e3676 0 435px,#2b3d76 0 436px,#302f72 0 437px,#2c326d 0 438px,#33185d 0 439px,#2c3b78 0 440px,#2c3c79 0 441px,#22557c 0 442px,#27477b 0 443px,#2b3c77 0 444px,#35226c 0 445px,#33155a 0 446px,#341055 0 447px,#311759 0 448px,#330042 0 449px,#350c53 0 450px,#28467a 0 451px,#23527a 0 452px,#311557 0 453px,#321154 0 454px,#312e73 0 455px,#33286e 0 456px,#2a407a 0 457px,#301756 0 458px,#2d3978 0 459px,#2d2c69 0 460px,#330143 0 461px,#2d3877 0 462px,#284176 0 463px,#2f1c5a 0 464px,#294379 0 465px,#34246d 0 466px,#36115a 0 467px,#330042 0 468px,#351158 0 469px,#35226c 0 470px,#371762 0 471px,#361c67 0 472px,#340c52 0 473px,#340b50 0 474px,#351057 0 475px,#330042 0 477px,#34226a 0 478px,#34256e 0 479px,#360e56 0 480px,#35145c 0 481px,#371762 0 482px,#34084c 0 483px,#340d53 0 484px,#34064a 0 485px,#330042 0 488px,#34094d 0 489px,#361e69 0 490px,#340347 0 491px,#361761 0 492px,#37135e 0 493px,#340448 0 494px,#330042 0 496px,#351158 0 497px,#330346 0 498px,#330042 0 504px,#360c54 0 505px,#330042 0 506px,#340549 0 507px,#35084d 0 508px,#330042 0 510px,#360c54 0 512px,#330042 0 513px,#360c54 0 514px,#311a5c 0 515px,#340d53 0 516px,#330042 0 518px,#35135b 0 519px,#330043 0 520px,#330042 0 521px,#340c52 0 522px,#34074b 0 523px,#330042 0 524px,#33084b 0 525px,#332971 0 526px,#350a50 0 527px,#330042 0 529px,#331a60 0 530px,#331054 0 531px,#330c50 0 532px,#35054a 0 533px,#330042 0 534px,#350f56 0 535px,#330447 0 536px,#330042 0 537px,#342068 0 538px,#34074c 0 540px,#34074d 0 541px,#351159 0 542px,#351961 0 543px,#33155a 0 544px,#330042 0 546px,#360c54 0 547px,#350c53 0 548px,#35145c 0 549px,#330042 0 550px,#35074d 0 551px,#340549 0 552px,#340e54 0 553px,#340b50 0 554px,#340e54 0 555px,#34074b 0 556px,#340c52 0 557px,#331a60 0 558px,#330042 0 560px,#330144 0 561px,#350b52 0 562px,#330042 0 563px,#350a50 0 564px,#340346 0 565px,#330042 0 566px,#302264 0 567px,#35135b 0 568px,#340b50 0 569px,#340a4f 0 570px,#350b53 0 571px,#330042 0 575px,#340549 0 576px,#32276d 0 577px,#331c62 0 578px,#330042 0 582px,#330548 0 583px,#340f55 0 584px,#31286c 0 585px,#340d52 0 586px,#330042 0 589px,#35135b 0 590px,#330042 0 592px,#340f55 0 593px,#340b50 0 594px,#340d53 0 595px,#340246 0 596px,#340347 0 597px,#35135b 0 598px,#330042 0 603px,#350a51 0 604px,#34094f 0 605px,#340c52 0 606px,#34094e 0 607px,#340a4f 0 608px,#330042 0 614px,#351158 0 615px,#330245 0 616px,#35135b 0 617px,#34074c 0 618px,#34084d 0 619px,#33185e 0 620px,#330447 0 621px,#361964 0 622px,#34094e 0 623px,#34246d 0 624px,#340c51 0 626px,#35135b 0 628px,#330042 0 629px,#330446 0 630px,#33175c 0 631px,#331a60 0 632px,#330042 0 633px,#361861 0 634px,#35084e 0 635px,#330042 0 639px,#331156 0 640px,#332971 0 641px,#33155a 0 642px,#330042 0 646px,#35135b 0 647px,#330144 0 648px,#35125a 0 649px,#331a60 0 650px,#330042 0 651px,#351862 0 652px,#340e54 0 653px,#330042 0 655px,#34094e 0 656px,#340a4f 0 657px,#330042 0 659px,#340d53 0 660px,#34064a 0 661px,#350a50 0 662px,#34236d 0 663px,#340d53 0 664px,#331a60 0 665px,#330042 0 673px,#340549 0 674px,#35084d 0 675px,#330042 0 676px,#35135b 0 677px,#340b51 0 678px,#34226b 0 679px,#2f1d5b 0 680px,#321051 0 681px,#350950 0 682px,#330042 0)"></div>
<div style="background:linear-gradient(90deg,#35135b 0 1px,#330144 0 2px,#302a6a 0 3px,#301655 0 4px,#33155a 0 5px,#330042 0 7px,#330b4e 0 8px,#331054 0 9px,#330042 0 12px,#330447 0 13px,#33165b 0 14px,#330042 0 15px,#311b5d 0 16px,#332166 0 17px,#330042 0 23px,#32084a 0 24px,#311a5c 0 25px,#330042 0 26px,#2e2462 0 27px,#320546 0 28px,#331a60 0 29px,#330143 0 30px,#330244 0 31px,#351259 0 32px,#330042 0 34px,#331a60 0 35px,#330042 0 36px,#320d4f 0 37px,#311557 0 38px,#330042 0 39px,#302264 0 40px,#311456 0 41px,#2f2f71 0 42px,#35084f 0 43px,#2e2d6c 0 44px,#33155a 0 45px,#330548 0 46px,#330042 0 47px,#32296f 0 48px,#34266e 0 49px,#330042 0 55px,#311d5f 0 56px,#330547 0 57px,#350c53 0 58px,#330143 0 59px,#330042 0 61px,#320748 0 62px,#2e2360 0 63px,#330042 0 64px,#350a51 0 65px,#331d64 0 66px,#330042 0 74px,#33094c 0 75px,#331256 0 76px,#331a60 0 77px,#330042 0 81px,#330548 0 82px,#33165b 0 83px,#330042 0 84px,#311c5e 0 85px,#330547 0 86px,#330042 0 89px,#311456 0 90px,#320e50 0 91px,#330042 0 98px,#330f53 0 99px,#330c50 0 100px,#2f1b5a 0 101px,#310e4f 0 102px,#330042 0 105px,#330b4e 0 106px,#331054 0 107px,#330042 0 109px,#2f1958 0 110px,#312a6e 0 111px,#330042 0 116px,#302264 0 117px,#2d2966 0 118px,#330042 0 123px,#33094c 0 124px,#331256 0 125px,#330042 0 128px,#312366 0 129px,#35226c 0 130px,#302b6f 0 131px,#330042 0 132px,#310c4c 0 133px,#2f1d5c 0 134px,#320d4f 0 135px,#311557 0 136px,#302264 0 137px,#330042 0 139px,#331a60 0 140px,#330042 0 141px,#302264 0 142px,#330042 0 143px,#302264 0 144px,#330042 0 148px,#330245 0 149px,#351159 0 150px,#330042 0 153px,#351158 0 154px,#330346 0 155px,#330042 0 161px,#31256a 0 162px,#2f1e5d 0 163px,#330042 0 166px,#330143 0 167px,#331a60 0 168px,#330042 0 176px,#302264 0 177px,#330042 0 179px,#302264 0 180px,#330042 0 181px,#33084b 0 182px,#331358 0 183px,#330042 0 184px,#2e2764 0 185px,#330344 0 186px,#330042 0 196px,#360c54 0 197px,#330042 0 225px,#331a60 0 226px,#330042 0 241px,#302264 0 242px,#330042 0 250px,#331a60 0 251px,#330042 0 263px,#331a60 0 264px,#330042 0 269px,#2e205e 0 270px,#32094a 0 271px,#330042 0 277px,#331a60 0 278px,#330042 0 281px,#35135b 0 282px,#330042 0 300px,#351158 0 301px,#330346 0 302px,#330042 0 315px,#320546 0 316px,#28447a 0 317px,#30104e 0 318px,#2a2a5f 0 319px,#2b2357 0 320px,#264b79 0 321px,#2e1c56 0 322px,#22557c 0 323px,#21597c 0 324px,#24507c 0 325px,#28447a 0 326px,#2a3b74 0 327px,#292d5e 0 328px,#2e1c56 0 329px,#2a407a 0 330px,#303073 0 331px,#322b71 0 332px,#2d3877 0 333px,#2e3777 0 334px,#35135a 0 335px,#253e68 0 336px,#2f1d5b 0 337px,#310d4d 0 338px,#33155a 0 339px,#2b3d79 0 340px,#2d3978 0 341px,#2d1f57 0 342px,#23527c 0 343px,#301756 0 344px,#244f7b 0 345px,#254c7b 0 346px,#310e4f 0 347px,#25385e 0 348px,#2c3b70 0 349px,#1f5e7c 0 350px,#2e1b56 0 351px,#28447a 0 352px,#302365 0 353px,#23486a 0 354px,#22557c 0 355px,#2f1a55 0 356px,#2f3475 0 357px,#293b71 0 358px,#311b5d 0 359px,#2f1856 0 360px,#2e1e59 0 361px,#2d2966 0 362px,#2b3067 0 363px,#2b2358 0 364px,#2d1b52 0 365px,#330042 0 366px,#302264 0 367px,#330042 0 368px,#2b3067 0 369px,#2c2a62 0 370px,#320646 0 371px,#263d67 0 372px,#330143 0 373px,#330345 0 374px,#2e2663 0 375px,#310a49 0 376px,#264b7b 0 377px,#254e7b 0 378px,#2f1d5c 0 379px,#283767 0 380px,#2e2764 0 381px,#303175 0 382px,#284477 0 383px,#2b2559 0 384px,#2c2157 0 385px,#284679 0 386px,#2c3c79 0 387px,#264b7a 0 388px,#2e1b56 0 389px,#2d3978 0 390px,#2a3f7a 0 391px,#301756 0 392px,#330042 0 393px,#2b3067 0 394px,#292d5b 0 395px,#24517b 0 396px,#264a7b 0 397px,#2e1c56 0 398px,#2b265c 0 399px,#2b3067 0 400px,#330042 0 401px,#35135b 0 402px,#2a3369 0 403px,#2b2d65 0 404px,#330042 0 406px,#264271 0 407px,#2f1e5d 0 408px,#330042 0 409px,#351259 0 410px,#330244 0 411px,#330042 0 413px,#302264 0 414px,#330042 0 415px,#32084a 0 416px,#311a5c 0 417px,#330042 0 419px,#320e50 0 420px,#294279 0 421px,#301756 0 422px,#301353 0 423px,#330042 0 426px,#2b3067 0 427px,#330042 0 429px,#293365 0 430px,#321053 0 431px,#2d3776 0 432px,#330042 0 433px,#331f65 0 434px,#311d5f 0 435px,#330042 0 437px,#2e306f 0 438px,#340d52 0 439px,#2f1552 0 440px,#2c3c78 0 441px,#27477b 0 442px,#2e1c56 0 443px,#311e60 0 444px,#302264 0 445px,#330042 0 446px,#33084b 0 447px,#2e3676 0 448px,#320647 0 449px,#330042 0 451px,#302466 0 452px,#311f61 0 453px,#2d2966 0 454px,#330042 0 459px,#254a78 0 460px,#2d3777 0 461px,#330042 0 463px,#340d53 0 464px,#312e73 0 465px,#33145a 0 466px,#331a60 0 467px,#350b52 0 468px,#330d51 0 469px,#361b65 0 470px,#2d2a66 0 471px,#35155d 0 472px,#351259 0 473px,#30286a 0 474px,#311b5d 0 475px,#330042 0 476px,#33165b 0 477px,#340c51 0 479px,#301454 0 480px,#301756 0 481px,#2c3b78 0 482px,#320e50 0 483px,#340d53 0 484px,#34236c 0 485px,#2f1f5d 0 486px,#320c4e 0 487px,#311658 0 488px,#351259 0 489px,#330f53 0 490px,#330042 0 492px,#311658 0 493px,#320c4e 0 494px,#330042 0 495px,#2b3870 0 496px,#331257 0 497px,#330042 0 499px,#32286d 0 500px,#342069 0 501px,#330042 0 503px,#331358 0 504px,#340b4f 0 505px,#35094f 0 506px,#31296d 0 507px,#340c52 0 508px,#330042 0 509px,#35145c 0 510px,#331a60 0 511px,#330042 0 517px,#331a60 0 519px,#2d2a67 0 520px,#330042 0 521px,#331155 0 522px,#330a4d 0 523px,#340e54 0 524px,#340d51 0 525px,#331358 0 526px,#330a4e 0 527px,#331055 0 528px,#330042 0 537px,#32296f 0 538px,#321254 0 539px,#330042 0 540px,#330345 0 541px,#332971 0 542px,#330d52 0 543px,#350f56 0 544px,#331a60 0 545px,#351158 0 546px,#330346 0 547px,#330042 0 548px,#360c54 0 549px,#331c62 0 550px,#2f3476 0 551px,#321254 0 552px,#311c5e 0 553px,#330042 0 554px,#33165b 0 555px,#330548 0 556px,#330042 0 557px,#34236b 0 558px,#322d73 0 559px,#303074 0 560px,#2d3573 0 561px,#330042 0 562px,#35135b 0 563px,#311a5c 0 564px,#330e52 0 565px,#340d53 0 566px,#311251 0 567px,#301857 0 568px,#340a4f 0 569px,#330c51 0 570px,#2e2663 0 571px,#331a60 0 572px,#340449 0 573px,#34094d 0 574px,#331358 0 575px,#330042 0 577px,#321052 0 578px,#2c3a77 0 579px,#330042 0 580px,#322065 0 581px,#2e2361 0 582px,#32084a 0 583px,#312e73 0 584px,#332971 0 585px,#331156 0 586px,#330042 0 588px,#2d2966 0 589px,#331c62 0 590px,#371863 0 591px,#34074b 0 592px,#340f55 0 593px,#330d51 0 594px,#35236d 0 595px,#331d64 0 596px,#35135a 0 597px,#35145c 0 598px,#330042 0 605px,#311f61 0 606px,#330345 0 607px,#330042 0 608px,#330f53 0 609px,#330e52 0 610px,#351158 0 611px,#330042 0 612px,#33145a 0 613px,#330649 0 614px,#330042 0 615px,#330b4f 0 616px,#303074 0 617px,#35145c 0 618px,#330042 0 620px,#331f66 0 621px,#33165b 0 622px,#330042 0 623px,#311c5e 0 624px,#301555 0 625px,#2f3275 0 626px,#330f53 0 627px,#35216b 0 628px,#330042 0 630px,#311759 0 631px,#320a4c 0 632px,#330042 0 633px,#310e4f 0 634px,#2f1b5a 0 635px,#330042 0 637px,#332971 0 638px,#330c50 0 639px,#330042 0 642px,#35135b 0 643px,#330042 0 644px,#34084c 0 645px,#340b51 0 646px,#302264 0 648px,#330042 0 649px,#330346 0 650px,#361964 0 651px,#340b4f 0 652px,#331358 0 653px,#34074b 0 654px,#361e69 0 655px,#360e56 0 656px,#330042 0 664px,#36165f 0 665px,#340347 0 666px,#34074c 0 667px,#34064a 0 668px,#330042 0 669px,#330447 0 670px,#351057 0 671px,#330042 0 675px,#2d2966 0 676px,#330042 0 680px,#2d316e 0 681px,#31195b 0 682px,#330042 0)"></div>
<div style="background:linear-gradient(90deg,#293a6c 0 1px,#340649 0 2px,#311e60 0 3px,#35135b 0 4px,#330042 0 6px,#2c2961 0 7px,#341359 0 8px,#33195f 0 9px,#330143 0 10px,#283767 0 11px,#340c51 0 12px,#34226a 0 13px,#330042 0 14px,#33074a 0 15px,#312f74 0 16px,#330648 0 17px,#330042 0 21px,#340c50 0 22px,#2c3c77 0 23px,#33094c 0 24px,#330042 0 25px,#35135b 0 26px,#330042 0 27px,#2e3373 0 28px,#301857 0 29px,#35064b 0 30px,#2d2d69 0 31px,#2b2c64 0 32px,#330042 0 34px,#332166 0 35px,#2d225c 0 36px,#331a60 0 37px,#35125a 0 38px,#330144 0 39px,#302264 0 40px,#330042 0 46px,#351159 0 47px,#340549 0 48px,#360950 0 49px,#294279 0 50px,#34155a 0 51px,#330042 0 53px,#31195b 0 54px,#34246d 0 55px,#35175f 0 56px,#301452 0 57px,#2e3675 0 58px,#35226c 0 59px,#35206a 0 60px,#330042 0 61px,#341a61 0 62px,#2e2360 0 63px,#32094b 0 64px,#31195b 0 65px,#330a4d 0 66px,#331155 0 67px,#2f1653 0 68px,#2f1955 0 69px,#330042 0 71px,#311759 0 72px,#320b4d 0 73px,#330042 0 74px,#331a60 0 75px,#330042 0 76px,#320e50 0 77px,#321355 0 78px,#35135b 0 79px,#35155d 0 80px,#35226c 0 81px,#330a4d 0 82px,#35094f 0 83px,#293a6c 0 84px,#311c5e 0 85px,#312e73 0 86px,#2c3974 0 87px,#321d63 0 88px,#330143 0 89px,#2f3476 0 90px,#2a3e76 0 91px,#35054a 0 92px,#330649 0 93px,#2c3a76 0 94px,#244f7b 0 95px,#2f1b5a 0 96px,#2b3067 0 97px,#330042 0 99px,#35135b 0 100px,#2f1b5a 0 101px,#32296f 0 102px,#2b3f78 0 103px,#310c4b 0 104px,#2e2361 0 105px,#2c2f6b 0 106px,#330042 0 108px,#330143 0 109px,#350c53 0 110px,#330042 0 111px,#331358 0 112px,#351b64 0 113px,#330042 0 117px,#302264 0 118px,#35135b 0 119px,#331a60 0 120px,#330042 0 121px,#2b3067 0 122px,#2c255e 0 123px,#2f2b69 0 124px,#2a2a5c 0 125px,#330042 0 127px,#321254 0 128px,#2f3173 0 129px,#2f1a59 0 130px,#312a6e 0 131px,#330042 0 134px,#2f1550 0 135px,#2c3a75 0 136px,#331c62 0 137px,#330042 0 138px,#35074d 0 139px,#34064b 0 140px,#360d56 0 141px,#34054a 0 142px,#340449 0 143px,#2e2e6c 0 144px,#35084e 0 145px,#330042 0 147px,#2e1a56 0 148px,#2f3071 0 149px,#330042 0 150px,#320849 0 151px,#302f72 0 152px,#34256c 0 153px,#2a407a 0 154px,#330e51 0 155px,#2a4075 0 156px,#330244 0 157px,#330143 0 158px,#350c53 0 159px,#330042 0 161px,#32094b 0 162px,#31195b 0 163px,#330042 0 164px,#2e2663 0 165px,#330345 0 166px,#330042 0 169px,#35084e 0 170px,#340a4f 0 171px,#33145a 0 172px,#330042 0 174px,#330b4f 0 175px,#330f53 0 176px,#35064b 0 177px,#321f63 0 178px,#23537c 0 179px,#2b3873 0 180px,#330042 0 181px,#310c4c 0 182px,#24517c 0 183px,#320f4f 0 184px,#35074d 0 185px,#35135b 0 186px,#330042 0 187px,#35074d 0 188px,#34084d 0 189px,#351158 0 190px,#330042 0 193px,#2e2562 0 194px,#320446 0 195px,#330042 0 197px,#330345 0 198px,#33185d 0 199px,#330042 0 202px,#311d5f 0 203px,#330547 0 204px,#35135a 0 205px,#330143 0 206px,#330042 0 214px,#302264 0 215px,#330042 0 225px,#34064c 0 226px,#34064a 0 227px,#331155 0 228px,#330a4d 0 229px,#330042 0 230px,#33084b 0 231px,#331358 0 232px,#330042 0 240px,#350f56 0 241px,#340b50 0 242px,#340d52 0 243px,#34094d 0 244px,#340b50 0 245px,#330042 0 250px,#331a60 0 251px,#35054a 0 252px,#330143 0 253px,#330042 0 255px,#35074c 0 256px,#350c53 0 257px,#330042 0 258px,#340448 0 259px,#340245 0 260px,#330042 0 261px,#320c4e 0 262px,#311557 0 263px,#35135b 0 264px,#302264 0 265px,#330042 0 266px,#330245 0 267px,#312d70 0 268px,#310d4e 0 269px,#330042 0 277px,#330245 0 278px,#350a51 0 279px,#35135b 0 280px,#330042 0 285px,#35074d 0 286px,#340549 0 287px,#330042 0 288px,#35135b 0 289px,#330042 0 290px,#33094d 0 291px,#331156 0 292px,#330042 0 315px,#320646 0 316px,#2c2a62 0 317px,#32084a 0 318px,#311a5c 0 319px,#310d4e 0 320px,#2a407a 0 321px,#21577c 0 322px,#23517c 0 323px,#301756 0 324px,#32276c 0 325px,#2e1e59 0 326px,#2f1956 0 327px,#2e225f 0 328px,#274172 0 329px,#244f7b 0 330px,#2f1956 0 331px,#2e1d58 0 332px,#302264 0 333px,#214b67 0 334px,#301857 0 335px,#27477b 0 336px,#28467b 0 337px,#27467b 0 338px,#264b7b 0 339px,#215070 0 340px,#2e2562 0 341px,#264a7a 0 342px,#2f3476 0 343px,#330042 0 344px,#2b3067 0 345px,#311658 0 346px,#311455 0 347px,#264a7b 0 348px,#2b3f79 0 349px,#2c3b77 0 350px,#2c306b 0 351px,#330042 0 352px,#2c3a77 0 353px,#294279 0 354px,#311f61 0 355px,#283c6d 0 356px,#2d3a78 0 357px,#293b71 0 358px,#2a2d61 0 359px,#2d1e57 0 360px,#2e3471 0 361px,#331c62 0 362px,#253e68 0 363px,#321355 0 364px,#2c3c79 0 365px,#32266c 0 366px,#284275 0 367px,#264a7a 0 368px,#283e6f 0 369px,#330042 0 370px,#2a3e76 0 371px,#2c3c78 0 372px,#1c657c 0 373px,#2f3172 0 374px,#2c235a 0 375px,#2e1c56 0 376px,#2c3a78 0 377px,#302a6c 0 378px,#330042 0 381px,#294077 0 382px,#2c3a77 0 383px,#340b51 0 384px,#2b3871 0 385px,#330042 0 388px,#312261 0 389px,#2a285b 0 390px,#284277 0 391px,#254e7b 0 392px,#2d1e57 0 393px,#264878 0 394px,#2e1f5a 0 395px,#311352 0 396px,#350a50 0 397px,#283767 0 398px,#330042 0 399px,#244468 0 400px,#330042 0 401px,#2b3067 0 402px,#2d2966 0 403px,#2a2a59 0 404px,#274475 0 405px,#330042 0 406px,#300f4c 0 407px,#294479 0 408px,#341961 0 409px,#2e2663 0 410px,#2a336a 0 411px,#330143 0 412px,#263d67 0 413px,#322165 0 414px,#24507c 0 415px,#283f73 0 416px,#2c255e 0 417px,#301655 0 418px,#2f3476 0 419px,#2f1956 0 420px,#2e3575 0 421px,#301656 0 422px,#254e7b 0 423px,#2e2663 0 424px,#302669 0 425px,#2b3e76 0 426px,#2a4078 0 427px,#2b275d 0 428px,#2b3067 0 429px,#35125a 0 430px,#330144 0 431px,#35135b 0 432px,#330042 0 433px,#320747 0 434px,#2c2962 0 435px,#330042 0 440px,#331a60 0 441px,#330042 0 446px,#342068 0 447px,#340d53 0 448px,#330042 0 451px,#330244 0 452px,#311f61 0 453px,#330547 0 454px,#311c5e 0 455px,#330042 0 470px,#2f1956 0 471px,#2f1653 0 472px,#330042 0 479px,#330d51 0 481px,#330042 0 489px,#302264 0 490px,#330042 0 492px,#331156 0 493px,#33094d 0 494px,#330042 0 495px,#331a60 0 496px,#330042 0 497px,#331a60 0 498px,#330042 0 500px,#35155d 0 501px,#35125a 0 502px,#330042 0 509px,#360c54 0 510px,#330042 0 515px,#2a3b72 0 516px,#311759 0 517px,#330042 0 520px,#330345 0 521px,#2e2663 0 522px,#2b3067 0 523px,#330042 0 524px,#2d2966 0 525px,#330042 0 528px,#321052 0 529px,#321153 0 530px,#330042 0 535px,#2a3a73 0 536px,#2e1f5a 0 537px,#330042 0 538px,#35135b 0 539px,#330042 0 540px,#283767 0 541px,#330042 0 542px,#2f114a 0 543px,#24415f 0 544px,#2f134e 0 545px,#2a2b5c 0 546px,#330042 0 547px,#312062 0 548px,#330143 0 549px,#330042 0 552px,#2b275d 0 553px,#30104d 0 554px,#2a2d61 0 555px,#310a49 0 556px,#330042 0 557px,#215779 0 558px,#2b2456 0 559px,#330042 0 562px,#32084a 0 563px,#284479 0 564px,#310c4a 0 565px,#330042 0 582px,#253e68 0 583px,#330042 0 588px,#331a60 0 589px,#330042 0 591px,#2b3067 0 592px,#330042 0 597px,#2d2966 0 598px,#330042 0 600px,#2b3067 0 601px,#330042 0 602px,#331a60 0 603px,#330042 0 605px,#293264 0 606px,#320445 0 607px,#35135b 0 608px,#330042 0 609px,#320546 0 610px,#2e2462 0 611px,#330042 0 618px,#320445 0 619px,#2b2c64 0 620px,#320849 0 621px,#2e225f 0 622px,#330042 0 626px,#283767 0 627px,#330042 0 628px,#2d2058 0 629px,#2f1651 0 630px,#330042 0 635px,#302264 0 636px,#330042 0 637px,#330f53 0 638px,#321153 0 639px,#293164 0 640px,#330042 0 647px,#330244 0 648px,#33195e 0 649px,#330042 0 652px,#311b5d 0 653px,#35125a 0 654px,#330042 0 655px,#34094e 0 656px,#34256e 0 657px,#330042 0 660px,#331f66 0 661px,#340f56 0 662px,#331a60 0 663px,#330042 0 664px,#320e50 0 665px,#321355 0 666px,#331a60 0 667px,#312264 0 668px,#35054a 0 669px,#331e65 0 670px,#351057 0 671px,#30296c 0 672px,#332971 0 673px,#330447 0 674px,#311f61 0 675px,#330244 0 676px,#330042 0 684px,#331a60 0 685px,#330042 0)"></div>
<div style="background:linear-gradient(90deg,#330042 0 7px,#330b4e 0 8px,#35226c 0 9px,#330143 0 10px,#330042 0 19px,#360c54 0 20px,#330042 0 21px,#330144 0 22px,#351d66 0 23px,#33236a 0 24px,#330042 0 30px,#330244 0 31px,#351259 0 32px,#330245 0 33px,#350a51 0 34px,#330042 0 40px,#340b51 0 41px,#34084c 0 42px,#330042 0 46px,#350b52 0 47px,#330144 0 48px,#330042 0 56px,#35135b 0 57px,#330042 0 58px,#35135b 0 59px,#330042 0 61px,#360c54 0 62px,#330042 0 63px,#32094b 0 64px,#31195b 0 65px,#330042 0 70px,#330244 0 71px,#350b52 0 72px,#330042 0 78px,#330e52 0 79px,#330c50 0 80px,#330042 0 81px,#330447 0 82px,#351057 0 83px,#330042 0 90px,#2b3067 0 91px,#330042 0 93px,#350f56 0 94px,#330447 0 95px,#330042 0 96px,#301352 0 97px,#301756 0 98px,#330042 0 105px,#330b4e 0 106px,#313074 0 107px,#330143 0 108px,#330042 0 124px,#350b52 0 125px,#34074c 0 126px,#361a65 0 127px,#330043 0 128px,#330042 0 144px,#33185d 0 145px,#330345 0 146px,#330042 0 147px,#361760 0 148px,#340346 0 149px,#330042 0 151px,#350950 0 152px,#340346 0 153px,#330042 0 159px,#360c54 0 160px,#331358 0 161px,#33084b 0 162px,#330042 0 164px,#33185e 0 165px,#330244 0 166px,#330042 0 185px,#34094e 0 186px,#361e69 0 187px,#35226c 0 188px,#33256d 0 189px,#340d53 0 190px,#340c51 0 191px,#35236d 0 192px,#330d52 0 193px,#332971 0 194px,#301555 0 195px,#301756 0 196px,#361a65 0 197px,#37135e 0 198px,#342168 0 199px,#330e51 0 200px,#350a50 0 201px,#361963 0 202px,#2f3172 0 203px,#361a63 0 204px,#34256e 0 205px,#340448 0 206px,#341d65 0 207px,#330042 0 208px,#360c54 0 209px,#2d225c 0 210px,#2e3676 0 211px,#351d67 0 212px,#312467 0 213px,#33185e 0 214px,#35226c 0 215px,#330f53 0 216px,#332971 0 217px,#322b72 0 218px,#2e3676 0 219px,#330f53 0 220px,#33145a 0 221px,#302a6d 0 222px,#332971 0 223px,#322c72 0 224px,#321355 0 225px,#35216b 0 226px,#332a71 0 227px,#2f3476 0 228px,#321053 0 229px,#351057 0 230px,#341d65 0 231px,#31185a 0 232px,#330042 0 233px,#311f61 0 234px,#303174 0 235px,#330d51 0 236px,#331054 0 237px,#330b4e 0 238px,#331257 0 239px,#330d51 0 240px,#371863 0 241px,#34094e 0 242px,#340d52 0 243px,#331a60 0 244px,#2d2966 0 245px,#35135b 0 246px,#331d63 0 247px,#33185d 0 248px,#330447 0 249px,#350f56 0 250px,#33236a 0 251px,#312f74 0 252px,#34266e 0 253px,#311456 0 254px,#330042 0 255px,#2b3067 0 256px,#311557 0 257px,#320d4f 0 258px,#331358 0 259px,#351b64 0 260px,#330042 0 261px,#35135b 0 262px,#35054a 0 263px,#330043 0 264px,#302264 0 265px,#330042 0 266px,#330245 0 267px,#351158 0 268px,#351861 0 269px,#2e3472 0 270px,#310b4a 0 271px,#33175d 0 272px,#330346 0 273px,#330042 0 274px,#321254 0 275px,#321154 0 276px,#312c70 0 277px,#310f4f 0 278px,#330042 0 279px,#351962 0 280px,#322a70 0 281px,#35125a 0 282px,#330042 0 283px,#32286c 0 284px,#34226b 0 285px,#312d73 0 286px,#322b72 0 287px,#351158 0 288px,#320a4b 0 289px,#302f71 0 290px,#312c71 0 291px,#340d52 0 292px,#34054a 0 293px,#2c3671 0 294px,#340b50 0 295px,#361c66 0 296px,#331156 0 297px,#35226c 0 298px,#351e68 0 299px,#34236b 0 300px,#2f1d5b 0 301px,#312b6f 0 302px,#301857 0 303px,#330042 0 304px,#302264 0 305px,#311557 0 306px,#320d4f 0 307px,#330042 0 308px,#340347 0 309px,#35094f 0 310px,#330042 0 312px,#33276f 0 313px,#330e52 0 314px,#321355 0 315px,#311355 0 316px,#2c3b78 0 317px,#320b4d 0 318px,#2c255e 0 319px,#310b4a 0 320px,#351158 0 321px,#330245 0 322px,#2d2865 0 323px,#331b61 0 324px,#34175e 0 325px,#28467b 0 326px,#332368 0 327px,#340e54 0 328px,#340549 0 329px,#330042 0 330px,#34084c 0 331px,#361e69 0 332px,#330144 0 333px,#2b3067 0 334px,#2b2559 0 335px,#2c2157 0 336px,#264c7b 0 337px,#2f2e6f 0 338px,#330042 0 339px,#2f2d6d 0 340px,#2a4279 0 341px,#303074 0 342px,#303174 0 343px,#302264 0 344px,#2b3067 0 345px,#330042 0 346px,#320749 0 347px,#311b5d 0 348px,#310d4d 0 349px,#2f1d5b 0 350px,#2f1651 0 351px,#22557c 0 352px,#301756 0 353px,#302f72 0 354px,#330042 0 355px,#330346 0 356px,#351057 0 357px,#330042 0 358px,#350a51 0 359px,#330245 0 360px,#311f61 0 361px,#330f53 0 362px,#330e52 0 363px,#340b50 0 364px,#34084d 0 365px,#330042 0 366px,#302264 0 367px,#330042 0 368px,#320b4d 0 369px,#33286f 0 370px,#312467 0 371px,#330042 0 372px,#294278 0 373px,#2a3f75 0 374px,#331155 0 375px,#332a72 0 376px,#2d3a78 0 377px,#2c3470 0 378px,#330042 0 380px,#2e2764 0 381px,#301756 0 382px,#28467a 0 383px,#33195f 0 384px,#2d2e6b 0 385px,#311d5f 0 386px,#331f66 0 387px,#340f55 0 388px,#2d3271 0 389px,#331156 0 390px,#330042 0 391px,#35135b 0 392px,#331a60 0 393px,#320546 0 394px,#2b2b63 0 395px,#331d63 0 396px,#28457b 0 397px,#321053 0 398px,#34246d 0 399px,#330446 0 400px,#330042 0 401px,#301554 0 402px,#2d3877 0 403px,#2d3978 0 404px,#28447a 0 405px,#2d3876 0 406px,#310e4c 0 407px,#330042 0 408px,#302264 0 409px,#350b53 0 410px,#301454 0 411px,#2d3877 0 412px,#35135b 0 413px,#302264 0 414px,#2d205b 0 415px,#302a6c 0 416px,#311a5c 0 417px,#2d316e 0 418px,#2e2462 0 419px,#311355 0 420px,#322d73 0 421px,#340b50 0 422px,#330c51 0 423px,#2e3776 0 424px,#332a72 0 425px,#311b5d 0 426px,#302b6d 0 427px,#2f3476 0 428px,#322d73 0 429px,#312d73 0 430px,#330244 0 431px,#330042 0 441px,#331a60 0 442px,#330042 0 451px,#35135b 0 452px,#330042 0 466px,#35064b 0 467px,#330042 0 486px,#35135b 0 487px,#330042 0 491px,#35135b 0 492px,#330042 0 495px,#340245 0 496px,#340448 0 497px,#330042 0 526px,#2d2966 0 527px,#330042 0 532px,#331257 0 533px,#33084b 0 534px,#330042 0 538px,#35135b 0 539px,#330042 0 547px,#35135a 0 548px,#330e52 0 549px,#330d51 0 550px,#330042 0 571px,#330648 0 572px,#311b5d 0 573px,#330042 0 582px,#360c54 0 583px,#330042 0 598px,#331a60 0 599px,#330042 0 606px,#301353 0 607px,#301655 0 608px,#330042 0 617px,#330e52 0 618px,#330c50 0 619px,#330042 0 646px,#331a60 0 647px,#330244 0 648px,#33195e 0 649px,#330042 0 655px,#35135b 0 656px,#330042 0 676px,#330143 0 677px,#33195f 0 678px,#330346 0 679px,#33286f 0 680px,#2c3470 0 681px,#330042 0 682px,#33094d 0 683px,#332971 0 684px,#330345 0 685px,#330042 0)"></div>
<div style="background:linear-gradient(90deg,#330042 0 17px,#351259 0 18px,#330244 0 19px,#330042 0 49px,#34074c 0 50px,#34064a 0 51px,#330042 0 110px,#330245 0 111px,#350a51 0 112px,#330042 0 147px,#340b50 0 148px,#34094d 0 149px,#330042 0 152px,#35135b 0 153px,#330042 0 155px,#350c53 0 156px,#330143 0 157px,#330042 0 159px,#330346 0 160px,#351057 0 161px,#330042 0 165px,#360c54 0 166px,#330042 0 167px,#340b50 0 168px,#34084d 0 169px,#330042 0 182px,#33165b 0 183px,#330447 0 184px,#330042 0 187px,#301857 0 188px,#311151 0 189px,#330042 0 191px,#2e215f 0 192px,#321254 0 193px,#2e3676 0 194px,#320446 0 195px,#331a60 0 196px,#330042 0 197px,#330245 0 198px,#33276e 0 199px,#320d4f 0 200px,#350549 0 201px,#330042 0 202px,#351158 0 203px,#330346 0 204px,#330042 0 206px,#331a60 0 207px,#330042 0 209px,#31185a 0 210px,#321154 0 211px,#331358 0 212px,#330042 0 215px,#330043 0 216px,#302e70 0 217px,#2d3a77 0 218px,#311d5f 0 219px,#330042 0 222px,#311d5f 0 223px,#330446 0 224px,#330042 0 233px,#33195e 0 234px,#330f53 0 235px,#330d51 0 236px,#330042 0 239px,#330649 0 240px,#331459 0 241px,#330042 0 243px,#293f77 0 244px,#2e1a56 0 245px,#330042 0 246px,#35135b 0 247px,#331156 0 248px,#33094d 0 249px,#330042 0 250px,#35135b 0 251px,#330042 0 253px,#33195f 0 254px,#331c62 0 255px,#330143 0 256px,#371762 0 257px,#361f6a 0 258px,#33165b 0 259px,#330042 0 260px,#33165b 0 261px,#351861 0 262px,#2b2c64 0 263px,#312f72 0 264px,#340b50 0 265px,#2d2865 0 266px,#330042 0 268px,#330649 0 269px,#312e74 0 270px,#332870 0 271px,#34246e 0 272px,#312d72 0 273px,#340b50 0 274px,#330042 0 277px,#330245 0 278px,#350a51 0 279px,#330042 0 282px,#35125a 0 283px,#330144 0 284px,#330042 0 286px,#2d2966 0 287px,#330042 0 292px,#35135b 0 293px,#330042 0 294px,#330f53 0 295px,#330c50 0 296px,#35084e 0 297px,#340448 0 298px,#330042 0 301px,#340549 0 302px,#35074d 0 303px,#330042 0 305px,#340c51 0 306px,#34084c 0 307px,#340e54 0 308px,#340649 0 309px,#311b5d 0 310px,#321254 0 311px,#33276e 0 312px,#321154 0 313px,#321254 0 314px,#360950 0 315px,#33084a 0 316px,#28447a 0 317px,#283f73 0 318px,#330042 0 319px,#320b4d 0 320px,#2f3476 0 321px,#23527c 0 322px,#1f5c7d 0 323px,#303174 0 324px,#284376 0 325px,#2f1a59 0 326px,#29447a 0 327px,#24517c 0 328px,#303174 0 329px,#264b7b 0 330px,#310948 0 331px,#293365 0 332px,#2b3d79 0 333px,#311355 0 334px,#2d3777 0 335px,#2e3575 0 336px,#22567c 0 337px,#24507b 0 338px,#2d3a78 0 339px,#294279 0 340px,#2a4179 0 341px,#2a417a 0 342px,#2a407a 0 343px,#294478 0 344px,#2c3a75 0 345px,#27497b 0 346px,#293c73 0 347px,#31195b 0 348px,#32084a 0 349px,#2e2361 0 350px,#320647 0 351px,#330042 0 352px,#321153 0 353px,#2b3d79 0 354px,#2b2d65 0 355px,#2f296a 0 356px,#28457b 0 357px,#311555 0 358px,#31195b 0 359px,#2c3672 0 360px,#311557 0 361px,#330042 0 362px,#330243 0 363px,#235071 0 364px,#32276b 0 365px,#2c255b 0 366px,#2a3b72 0 367px,#330042 0 368px,#293d73 0 369px,#2a407a 0 370px,#320546 0 371px,#35135b 0 372px,#2c3b78 0 373px,#294379 0 374px,#2b3d77 0 375px,#330a4d 0 376px,#330042 0 377px,#32246a 0 378px,#2a4079 0 379px,#273f6d 0 380px,#330042 0 381px,#284478 0 382px,#2a3e79 0 383px,#330042 0 384px,#253e68 0 385px,#311759 0 386px,#254d7b 0 387px,#22557c 0 388px,#27497b 0 390px,#2f3474 0 391px,#2c3c78 0 392px,#29447a 0 393px,#264a7b 0 394px,#244f7b 0 395px,#2d1e57 0 396px,#284579 0 397px,#2c3c79 0 398px,#312e73 0 399px,#2b3e77 0 400px,#313074 0 401px,#293e72 0 402px,#361964 0 403px,#311557 0 404px,#311455 0 405px,#2c3a78 0 406px,#321254 0 407px,#2f3476 0 408px,#2d3977 0 409px,#332971 0 410px,#302f6f 0 411px,#1f5c7d 0 412px,#27497a 0 413px,#2f3376 0 414px,#2f3375 0 415px,#254e7b 0 416px,#2a407a 0 417px,#340f53 0 418px,#2e2462 0 419px,#264a7a 0 420px,#294279 0 422px,#2f3173 0 423px,#2e1e59 0 424px,#2d3977 0 425px,#311b5d 0 426px,#2c3570 0 427px,#31286b 0 428px,#2d3876 0 429px,#2a4179 0 430px,#2d1e57 0 431px,#2b3f78 0 432px,#2e3675 0 433px,#302e6f 0 434px,#311759 0 435px,#2c3c79 0 436px,#31195b 0 437px,#30114f 0 438px,#2f3171 0 439px,#332870 0 440px,#330f53 0 441px,#321254 0 442px,#2f3173 0 443px,#330042 0 445px,#31195b 0 446px,#28457a 0 447px,#264c7b 0 448px,#310847 0 449px,#2b2e65 0 450px,#302365 0 451px,#302264 0 452px,#330042 0 453px,#330447 0 454px,#33165b 0 455px,#2c3470 0 456px,#2a407a 0 457px,#2c316d 0 458px,#311f61 0 459px,#283a6a 0 460px,#2b3067 0 461px,#2d3877 0 462px,#2b3b76 0 463px,#330042 0 464px,#2b3067 0 465px,#330042 0 471px,#331a60 0 472px,#330042 0 474px,#35094f 0 475px,#340347 0 476px,#330042 0 480px,#330143 0 481px,#35135a 0 482px,#35135b 0 483px,#330042 0 487px,#35054a 0 488px,#312264 0 489px,#330042 0 497px,#331a60 0 498px,#330042 0 501px,#340448 0 502px,#36165f 0 503px,#330042 0 504px,#32094b 0 505px,#31195b 0 506px,#330042 0 515px,#340245 0 516px,#340448 0 517px,#330042 0 519px,#35135b 0 520px,#330042 0 522px,#330245 0 523px,#350a51 0 524px,#330042 0 525px,#350a51 0 526px,#330245 0 527px,#330042 0 529px,#331a60 0 530px,#330042 0 542px,#340346 0 543px,#350a50 0 544px,#330042 0 558px,#35135b 0 559px,#330042 0 561px,#340448 0 562px,#340245 0 563px,#330042 0 571px,#331a60 0 572px,#330042 0 576px,#35125a 0 577px,#330144 0 578px,#330043 0 579px,#350c53 0 580px,#330042 0 585px,#35054a 0 586px,#330143 0 587px,#330042 0 589px,#330345 0 590px,#33185d 0 591px,#330042 0 604px,#31266a 0 605px,#352069 0 606px,#360e57 0 607px,#330143 0 608px,#331a60 0 609px,#330042 0 611px,#32084a 0 612px,#311a5c 0 613px,#330042 0 614px,#33175d 0 615px,#330346 0 616px,#330042 0 617px,#35135b 0 618px,#330042 0 629px,#330245 0 630px,#350b51 0 631px,#331a60 0 632px,#330042 0 639px,#331156 0 640px,#33094d 0 641px,#31195b 0 642px,#32084a 0 643px,#330042 0 651px,#340244 0 652px,#340449 0 653px,#35135b 0 654px,#330042 0 658px,#330446 0 659px,#312f74 0 660px,#33094c 0 661px,#330042 0 673px,#330a4e 0 674px,#351c66 0 675px,#331b61 0 676px,#330042 0 678px,#35064b 0 679px,#331257 0 680px,#351b64 0 681px,#330042 0 683px,#351159 0 684px,#330245 0 685px,#330042 0)"></div>
<div style="background:linear-gradient(90deg,#330042 0 18px,#35135b 0 19px,#330042 0 36px,#330a4e 0 37px,#331055 0 38px,#330042 0 113px,#351057 0 114px,#330447 0 115px,#33185e 0 116px,#330244 0 117px,#330042 0 136px,#340346 0 137px,#340347 0 138px,#330042 0 151px,#350950 0 152px,#340346 0 153px,#330042 0 158px,#311557 0 159px,#320d4f 0 160px,#330042 0 161px,#360c54 0 162px,#330042 0 188px,#35135b 0 189px,#330042 0 201px,#331a60 0 202px,#330042 0 205px,#34064b 0 207px,#330042 0 215px,#35135b 0 216px,#330042 0 218px,#35084e 0 219px,#340448 0 220px,#330042 0 229px,#340e54 0 230px,#34094e 0 231px,#35094f 0 232px,#330042 0 245px,#35135b 0 247px,#330042 0 248px,#360c54 0 249px,#330042 0 251px,#311d5f 0 252px,#330547 0 253px,#330042 0 261px,#330a4d 0 262px,#331155 0 263px,#330042 0 284px,#35135b 0 285px,#330042 0 315px,#310847 0 316px,#1e617d 0 317px,#188177 0 318px,#196f7c 0 319px,#1f607b 0 320px,#205e79 0 321px,#283a6b 0 322px,#330042 0 323px,#284577 0 324px,#254e79 0 325px,#2b2c64 0 326px,#273d6e 0 327px,#1c657c 0 328px,#1d687b 0 329px,#168378 0 330px,#2a2757 0 331px,#24517b 0 332px,#21587c 0 334px,#205a7b 0 335px,#1f5d7c 0 336px,#22557c 0 337px,#205a7c 0 338px,#196f7d 0 339px,#23547b 0 340px,#157f7b 0 341px,#2d1e56 0 342px,#1f5f7c 0 343px,#1e607c 0 344px,#1d647d 0 345px,#264a7b 0 346px,#2c2156 0 347px,#24415f 0 348px,#283767 0 349px,#273563 0 350px,#331c61 0 351px,#312062 0 352px,#2b3f78 0 353px,#2e1b54 0 354px,#330042 0 358px,#234360 0 359px,#2f1954 0 360px,#331155 0 361px,#205267 0 362px,#330143 0 363px,#1f5c7d 0 364px,#1f5c78 0 365px,#330042 0 368px,#2f124e 0 369px,#244f7b 0 370px,#320646 0 371px,#263d67 0 372px,#330143 0 373px,#2d2966 0 374px,#282f5a 0 375px,#215275 0 376px,#330042 0 377px,#2f144d 0 378px,#1f5f7c 0 379px,#310948 0 380px,#330042 0 381px,#2b3067 0 382px,#330042 0 383px,#2d2058 0 384px,#2f1651 0 385px,#2b265c 0 386px,#264b7b 0 387px,#2f1f5d 0 388px,#2a3b72 0 389px,#23537a 0 390px,#22567c 0 391px,#2d1e57 0 392px,#302264 0 393px,#273c6b 0 394px,#293164 0 395px,#2f2b6b 0 396px,#2c265f 0 397px,#310d4d 0 398px,#264c7b 0 399px,#2c316b 0 400px,#2d2865 0 401px,#2a3168 0 402px,#23476a 0 403px,#2e2764 0 404px,#2a366d 0 405px,#2e2360 0 406px,#234b72 0 407px,#2d235d 0 408px,#330042 0 410px,#2d2966 0 411px,#330043 0 412px,#35135b 0 413px,#310847 0 414px,#273663 0 415px,#330042 0 416px,#24405e 0 417px,#1d667a 0 418px,#254e78 0 419px,#2b2357 0 420px,#21597c 0 421px,#2a3168 0 422px,#2a346a 0 423px,#294378 0 424px,#2b3d78 0 425px,#2a2d61 0 426px,#2f144d 0 427px,#21597c 0 428px,#320848 0 429px,#330042 0 430px,#244468 0 431px,#330042 0 436px,#2e215f 0 437px,#320849 0 438px,#330042 0 439px,#331a60 0 440px,#302264 0 441px,#330042 0 451px,#35135b 0 452px,#330042 0 455px,#302264 0 456px,#330042 0 457px,#34074b 0 458px,#340c52 0 459px,#330042 0 466px,#33094c 0 467px,#331256 0 468px,#330042 0 471px,#35135b 0 472px,#330042 0 488px,#330c50 0 489px,#330f53 0 490px,#330042 0 508px,#34064a 0 509px,#34074c 0 510px,#330042 0 555px,#35135b 0 556px,#330042 0 580px,#330346 0 581px,#351158 0 582px,#330042 0 586px,#360c54 0 587px,#330042 0 606px,#35135b 0 607px,#330042 0 615px,#360c54 0 616px,#330042 0 620px,#330648 0 621px,#311b5d 0 622px,#330042 0 638px,#330245 0 639px,#351159 0 640px,#330042 0 682px,#320c4e 0 683px,#311658 0 684px,#330042 0)"></div>
<div style="background:linear-gradient(90deg,#330042 0 21px,#331a60 0 22px,#330042 0 139px,#360c54 0 140px,#330042 0 150px,#331a60 0 151px,#330042 0 266px,#35135b 0 267px,#330042 0 315px,#320646 0 316px,#2c2a62 0 317px,#302264 0 318px,#330042 0 319px,#302264 0 320px,#311d5f 0 321px,#2a3f78 0 322px,#330f53 0 323px,#32296e 0 324px,#301353 0 325px,#330042 0 326px,#2b356c 0 327px,#351f68 0 328px,#320f51 0 329px,#28457b 0 330px,#2a417a 0 331px,#2f1958 0 332px,#284478 0 333px,#2d1d56 0 334px,#2a4178 0 335px,#264676 0 336px,#330042 0 337px,#330649 0 338px,#331459 0 339px,#330042 0 343px,#302264 0 344px,#320446 0 345px,#2e3676 0 346px,#311354 0 347px,#244f7b 0 348px,#2b376f 0 349px,#330042 0 350px,#2e3272 0 351px,#28467b 0 352px,#311355 0 354px,#2c3b78 0 355px,#321053 0 356px,#2f3271 0 357px,#310e4c 0 358px,#283361 0 359px,#283b6e 0 360px,#311f61 0 361px,#26497b 0 362px,#2c3c78 0 363px,#294279 0 364px,#311455 0 365px,#2a4079 0 366px,#294279 0 367px,#311a5c 0 368px,#331a60 0 369px,#2c2a62 0 370px,#23517c 0 371px,#2e1b57 0 372px,#2d3777 0 373px,#2b3d78 0 374px,#35165d 0 375px,#311254 0 376px,#244f7b 0 377px,#301655 0 378px,#331358 0 379px,#302264 0 380px,#330042 0 381px,#294178 0 382px,#312d6f 0 383px,#313074 0 384px,#264979 0 385px,#284679 0 386px,#320a4c 0 387px,#311b5d 0 388px,#301555 0 389px,#23537c 0 390px,#2f1956 0 391px,#301756 0 392px,#303174 0 393px,#301352 0 394px,#35084e 0 395px,#312b6e 0 396px,#264b7a 0 397px,#32084a 0 398px,#330042 0 399px,#302e6f 0 400px,#264a7b 0 402px,#2e1b56 0 403px,#27487a 0 404px,#27477a 0 405px,#283462 0 406px,#2d2966 0 407px,#2e225f 0 408px,#311455 0 409px,#311557 0 410px,#330042 0 411px,#331b61 0 412px,#322c71 0 413px,#2e3675 0 414px,#311d5f 0 415px,#330649 0 416px,#2e3476 0 417px,#32094a 0 418px,#351158 0 419px,#340b50 0 421px,#330042 0 424px,#2b3067 0 425px,#330042 0 519px,#331a60 0 520px,#330042 0 617px,#35135b 0 618px,#330042 0 635px,#35064b 0 636px,#330042 0)"></div>
<div style="background:linear-gradient(90deg,#330042 0 1px,#331a60 0 2px,#331156 0 3px,#311354 0 4px,#2c265f 0 5px,#332066 0 6px,#312d71 0 7px,#361b66 0 8px,#35216a 0 9px,#330f53 0 10px,#332971 0 11px,#34256e 0 12px,#340c51 0 13px,#33165b 0 14px,#340549 0 15px,#371863 0 16px,#312467 0 17px,#33185e 0 18px,#361b66 0 19px,#37135e 0 20px,#330042 0 21px,#35135b 0 22px,#330042 0 23px,#341d64 0 24px,#302a6c 0 25px,#321052 0 26px,#322a70 0 27px,#351058 0 28px,#330042 0 29px,#340a4f 0 30px,#34094e 0 31px,#340c52 0 32px,#330f52 0 33px,#303072 0 34px,#34094e 0 35px,#35094f 0 36px,#2b3974 0 37px,#2f1958 0 38px,#330042 0 39px,#360c54 0 40px,#330042 0 42px,#35084f 0 43px,#361c67 0 44px,#340f55 0 45px,#312467 0 46px,#340448 0 47px,#302264 0 48px,#330042 0 49px,#331a60 0 50px,#330245 0 51px,#36155e 0 52px,#341c63 0 53px,#330042 0 54px,#35135b 0 55px,#351158 0 56px,#340b50 0 57px,#34256e 0 58px,#330143 0 59px,#35155d 0 60px,#311f61 0 61px,#35135b 0 62px,#330042 0 63px,#342067 0 64px,#340e54 0 65px,#330042 0 66px,#33185e 0 67px,#2c3b75 0 68px,#340b50 0 69px,#32286d 0 70px,#37115c 0 71px,#330042 0 72px,#331c62 0 73px,#36145c 0 74px,#322c72 0 75px,#2f1c5a 0 76px,#330042 0 77px,#331a60 0 78px,#330143 0 79px,#331b62 0 80px,#350b53 0 81px,#341961 0 82px,#294479 0 83px,#300f4c 0 84px,#330042 0 85px,#34084c 0 86px,#34256e 0 87px,#321254 0 88px,#321153 0 89px,#2e1c58 0 90px,#301755 0 91px,#33175c 0 92px,#32084a 0 93px,#2f3476 0 94px,#321254 0 95px,#311658 0 96px,#330042 0 97px,#2d2966 0 98px,#330f53 0 99px,#330c50 0 100px,#330042 0 102px,#331459 0 103px,#30286b 0 104px,#330042 0 105px,#311151 0 106px,#2d3978 0 107px,#27497a 0 108px,#2f3274 0 109px,#340c51 0 110px,#34084c 0 111px,#331358 0 112px,#340b4f 0 113px,#33246b 0 114px,#321254 0 115px,#311557 0 116px,#2c3973 0 117px,#34266e 0 118px,#2d3877 0 119px,#330b4f 0 120px,#330042 0 123px,#33094c 0 124px,#331256 0 125px,#2d2966 0 126px,#302163 0 127px,#330143 0 128px,#331c62 0 129px,#361e69 0 130px,#303073 0 131px,#302666 0 132px,#36155f 0 133px,#331358 0 134px,#330a4e 0 135px,#331055 0 136px,#330042 0 139px,#322065 0 140px,#2c3b78 0 141px,#330f52 0 142px,#371863 0 143px,#2e3273 0 144px,#340d52 0 145px,#312a6f 0 146px,#340b50 0 147px,#330042 0 148px,#2d2966 0 149px,#330042 0 150px,#330548 0 151px,#33155a 0 152px,#2d2966 0 153px,#330042 0 154px,#33256d 0 155px,#331054 0 156px,#2d3776 0 157px,#32286d 0 158px,#330042 0 160px,#2f1d5c 0 161px,#2c3570 0 162px,#311b5d 0 163px,#312f73 0 164px,#34256e 0 165px,#340b50 0 166px,#312c71 0 167px,#330042 0 168px,#331e64 0 169px,#33175d 0 170px,#30276a 0 171px,#2e3476 0 172px,#341d63 0 173px,#330042 0 174px,#330b4f 0 175px,#361b65 0 176px,#303074 0 177px,#330f53 0 178px,#34256e 0 179px,#330d51 0 180px,#311b5d 0 181px,#330042 0 183px,#330a4e 0 184px,#331055 0 185px,#2e3675 0 186px,#2a407a 0 187px,#2d3777 0 188px,#331053 0 189px,#2d3978 0 190px,#310d4d 0 191px,#2c265f 0 192px,#23517c 0 193px,#28447a 0 194px,#26497b 0 195px,#2e3575 0 196px,#330f53 0 197px,#330c50 0 198px,#311658 0 199px,#2b3f79 0 200px,#2a3f79 0 201px,#322369 0 202px,#2c2962 0 203px,#2f2869 0 204px,#2b2e65 0 205px,#303174 0 206px,#33276f 0 207px,#331055 0 208px,#2d3877 0 209px,#2f3475 0 210px,#2d3a78 0 211px,#2d3976 0 212px,#331f66 0 213px,#2e2663 0 214px,#330345 0 215px,#331b61 0 216px,#2d3877 0 217px,#2b3e79 0 218px,#33175d 0 219px,#310c4a 0 220px,#2a3f76 0 221px,#301655 0 222px,#2d205b 0 223px,#330b4f 0 224px,#332971 0 225px,#2b3067 0 226px,#302466 0 227px,#311f61 0 228px,#2f296a 0 229px,#2e225f 0 230px,#2f2d6e 0 231px,#2f1d5c 0 232px,#341358 0 233px,#311557 0 234px,#2c3a77 0 235px,#322c71 0 236px,#311456 0 237px,#322b72 0 238px,#33286f 0 239px,#320a4c 0 240px,#33155a 0 241px,#330f53 0 242px,#332971 0 243px,#322c72 0 244px,#2f3476 0 245px,#321254 0 247px,#332971 0 248px,#311354 0 249px,#28457b 0 250px,#320a4b 0 251px,#330042 0 252px,#2d2966 0 253px,#312062 0 254px,#34266e 0 255px,#2f3274 0 256px,#330042 0 257px,#302668 0 258px,#33165b 0 259px,#310b4c 0 260px,#2a407a 0 261px,#2f296a 0 262px,#311f61 0 263px,#2a3269 0 264px,#331c61 0 265px,#283667 0 266px,#2d2c6a 0 267px,#33175d 0 268px,#2d2966 0 269px,#33145a 0 270px,#30276a 0 271px,#2c2a62 0 272px,#322065 0 273px,#331a60 0 274px,#2f3476 0 275px,#321052 0 276px,#340c52 0 277px,#312f73 0 278px,#311b5d 0 279px,#2d2966 0 280px,#2e2360 0 281px,#330b4f 0 282px,#32276d 0 283px,#27497a 0 284px,#264a7a 0 285px,#27487a 0 286px,#32286e 0 287px,#2d215b 0 288px,#27477a 0 289px,#312e73 0 290px,#2c3973 0 291px,#32266c 0 292px,#2e3777 0 293px,#303174 0 294px,#2d3877 0 295px,#2e3777 0 296px,#2f3375 0 297px,#2e3576 0 298px,#33155a 0 299px,#283767 0 300px,#2e2361 0 301px,#311455 0 302px,#2f3476 0 303px,#303174 0 304px,#2a3d78 0 305px,#330042 0 306px,#331a60 0 307px,#2f1d5c 0 308px,#2c3570 0 309px,#330042 0 310px,#2a3c73 0 311px,#311557 0 312px,#2c3976 0 313px,#341e66 0 314px,#330f53 0 315px,#322c72 0 316px,#2c3c77 0 317px,#312e72 0 318px,#2c255e 0 319px,#320b4d 0 320px,#311759 0 321px,#274576 0 322px,#2f3476 0 323px,#254d7b 0 324px,#2a417a 0 325px,#27487a 0 326px,#2c3a78 0 327px,#332971 0 328px,#301755 0 329px,#244f7b 0 330px,#2f3274 0 331px,#28467b 0 332px,#27477b 0 333px,#2a3f78 0 334px,#28467b 0 335px,#2a407a 0 336px,#28447a 0 337px,#2f3374 0 338px,#28457b 0 339px,#23547c 0 340px,#27497b 0 341px,#23547c 0 342px,#27477b 0 343px,#253e68 0 344px,#2c2f6a 0 345px,#274779 0 346px,#2e3677 0 347px,#2e215f 0 348px,#2c3470 0 349px,#2a4079 0 350px,#322166 0 351px,#2d2865 0 352px,#254d79 0 353px,#33276f 0 354px,#311557 0 355px,#2a3f79 0 356px,#2a2e61 0 357px,#310d4c 0 358px,#24507c 0 359px,#2e2c6a 0 360px,#2b2c64 0 361px,#22557c 0 362px,#2a407a 0 363px,#23517c 0 364px,#254d7b 0 365px,#22587c 0 366px,#23547c 0 367px,#22557c 0 368px,#1c667c 0 369px,#22557c 0 370px,#21597c 0 371px,#302e70 0 372px,#2f1a56 0 373px,#2c3c78 0 374px,#254c7b 0 375px,#28467a 0 376px,#1a6b7c 0 377px,#1c687d 0 378px,#264d79 0 379px,#22577b 0 380px,#2f3476 0 381px,#254d7b 0 382px,#21597a 0 383px,#2d2058 0 384px,#254c7b 0 385px,#28447a 0 386px,#29447a 0 387px,#264a7b 0 389px,#24507c 0 390px,#2d3a78 0 391px,#301756 0 392px,#1f5c7d 0 393px,#2d1f57 0 394px,#205b7d 0 395px,#205775 0 396px,#2d245e 0 397px,#2a4078 0 398px,#1e607d 0 399px,#1f5e7c 0 400px,#2a407a 0 401px,#1f5e7c 0 402px,#302e6f 0 403px,#27487a 0 404px,#205b7b 0 405px,#284777 0 406px,#264b7a 0 407px,#24507c 0 408px,#2d3877 0 409px,#254e7a 0 410px,#2e3675 0 411px,#2e1a56 0 412px,#22557c 0 413px,#1b6a7c 0 414px,#21567c 0 415px,#283f73 0 416px,#2a2a5f 0 417px,#27477b 0 418px,#22557c 0 419px,#27487b 0 420px,#301857 0 421px,#2a3f79 0 422px,#2d3977 0 423px,#264a7b 0 424px,#28467b 0 425px,#22567c 0 426px,#254d7b 0 427px,#2a4079 0 428px,#1d647d 0 429px,#20597c 0 430px,#254e79 0 431px,#330f53 0 432px,#312062 0 433px,#2d2c6a 0 434px,#361964 0 435px,#312c70 0 436px,#331459 0 437px,#33246b 0 438px,#312f74 0 439px,#332268 0 440px,#301756 0 441px,#330042 0 442px,#330345 0 443px,#332971 0 444px,#311354 0 445px,#28457b 0 446px,#2e1b56 0 447px,#2b265c 0 448px,#302264 0 449px,#330042 0 450px,#2f3373 0 451px,#2f3272 0 452px,#331055 0 453px,#331053 0 454px,#311c5e 0 455px,#2d2966 0 456px,#2e225f 0 457px,#2f296a 0 458px,#330042 0 459px,#2f1653 0 460px,#2f1a56 0 461px,#303174 0 462px,#311555 0 463px,#34246e 0 464px,#340c51 0 465px,#284477 0 466px,#2f1955 0 467px,#2f3476 0 468px,#330446 0 469px,#330042 0 475px,#320a4c 0 476px,#2f3476 0 477px,#301555 0 478px,#2f1958 0 479px,#330042 0 481px,#33195f 0 482px,#320e50 0 483px,#330042 0 484px,#330649 0 485px,#331459 0 486px,#330042 0 487px,#351159 0 488px,#2e3574 0 489px,#2d1e57 0 490px,#2d2966 0 491px,#302264 0 492px,#330042 0 493px,#320749 0 494px,#322970 0 495px,#330d51 0 496px,#331257 0 497px,#2b3067 0 498px,#312062 0 499px,#330143 0 500px,#2b3067 0 501px,#330042 0 502px,#330447 0 503px,#33165b 0 504px,#330042 0 505px,#2e225f 0 506px,#320849 0 507px,#253f65 0 508px,#2e1c56 0 509px,#2e1a56 0 510px,#2d3877 0 511px,#301656 0 512px,#2b3e78 0 513px,#2d1d57 0 514px,#283060 0 515px,#330042 0 517px,#34054a 0 518px,#2c3670 0 519px,#37145e 0 520px,#34064a 0 521px,#2f1a59 0 522px,#301756 0 523px,#2e225f 0 524px,#302264 0 525px,#351057 0 526px,#321053 0 527px,#311557 0 528px,#35064b 0 529px,#330244 0 530px,#284478 0 531px,#2d3472 0 532px,#311759 0 533px,#320a4c 0 534px,#33155a 0 535px,#340c51 0 536px,#2f3273 0 537px,#322368 0 538px,#301756 0 539px,#330042 0 541px,#311658 0 542px,#2b3d79 0 543px,#2a407a 0 544px,#320a4b 0 545px,#351158 0 546px,#2b326a 0 547px,#35135a 0 548px,#331b61 0 549px,#330042 0 550px,#2f1958 0 551px,#301555 0 552px,#311c5e 0 553px,#32094b 0 554px,#31195b 0 555px,#2f2e70 0 556px,#311557 0 557px,#330042 0 558px,#331a60 0 559px,#301857 0 560px,#284176 0 561px,#331256 0 562px,#33236a 0 563px,#350a50 0 564px,#340346 0 565px,#293063 0 566px,#321254 0 567px,#2b3e77 0 568px,#302264 0 569px,#330345 0 570px,#2a407a 0 571px,#29427a 0 572px,#24507c 0 573px,#310e4e 0 574px,#302767 0 575px,#311455 0 576px,#2c3b78 0 577px,#2d3877 0 578px,#301554 0 579px,#311456 0 580px,#322b72 0 581px,#351158 0 582px,#31266a 0 583px,#361e69 0 584px,#331e65 0 585px,#330042 0 586px,#35064b 0 587px,#330042 0 588px,#2b3067 0 589px,#330345 0 590px,#311e60 0 591px,#302264 0 592px,#2b295e 0 593px,#302869 0 594px,#311d5f 0 595px,#351159 0 596px,#35135a 0 597px,#331b61 0 598px,#330042 0 599px,#340c51 0 600px,#35206a 0 601px,#312f74 0 602px,#330f53 0 603px,#2c3a76 0 604px,#312367 0 605px,#311f61 0 606px,#2d3877 0 607px,#301656 0 608px,#332971 0 609px,#303175 0 610px,#311d5f 0 611px,#302264 0 612px,#330042 0 613px,#35135b 0 614px,#330042 0 615px,#34054a 0 616px,#34074c 0 617px,#330042 0 618px,#330345 0 619px,#2e2663 0 620px,#331e65 0 621px,#351057 0 622px,#302264 0 623px,#2e2360 0 624px,#321154 0 625px,#2e3776 0 626px,#28396a 0 627px,#360c54 0 628px,#330042 0 629px,#25446d 0 630px,#2e2361 0 631px,#2d2966 0 632px,#311b5d 0 633px,#320749 0 634px,#330042 0 636px,#331a60 0 637px,#321254 0 638px,#320f51 0 639px,#330042 0 640px,#340346 0 641px,#33236a 0 642px,#321254 0 643px,#311759 0 644px,#331a60 0 645px,#330042 0 646px,#2d2966 0 647px,#330244 0 648px,#2f3476 0 649px,#342068 0 650px,#330042 0 652px,#2c2760 0 653px,#310949 0 654px,#330042 0 655px,#330c50 0 656px,#330e52 0 657px,#321355 0 658px,#320e50 0 659px,#2f1c5a 0 660px,#321052 0 661px,#350a50 0 662px,#330042 0 664px,#2d2966 0 665px,#330042 0 667px,#35155d 0 668px,#351259 0 669px,#330042 0 671px,#33084b 0 672px,#331358 0 673px,#330042 0 675px,#2d2966 0 676px,#331a60 0 677px,#330042 0 678px,#330446 0 679px,#34246d 0 680px,#340c51 0 681px,#35236d 0 682px,#340b50 0 683px,#322b71 0 684px,#330345 0 685px,#302264 0)"></div>
<div style="background:linear-gradient(90deg,#35135b 0 1px,#330042 0 7px,#34084c 0 8px,#340b51 0 9px,#330042 0 21px,#330346 0 22px,#33175d 0 23px,#330042 0 29px,#331a60 0 30px,#330042 0 46px,#33185d 0 47px,#330345 0 48px,#330042 0 49px,#302264 0 50px,#330042 0 83px,#331a60 0 84px,#330042 0 86px,#35125a 0 87px,#330144 0 88px,#330042 0 116px,#35135b 0 117px,#330042 0 121px,#360c54 0 122px,#340f56 0 123px,#330448 0 124px,#330042 0 131px,#35094f 0 132px,#340347 0 133px,#330042 0 136px,#331a60 0 137px,#330042 0 159px,#330547 0 160px,#311c5e 0 161px,#330042 0 172px,#320b4d 0 173px,#311759 0 174px,#330042 0 175px,#302163 0 176px,#330143 0 177px,#330042 0 186px,#244569 0 187px,#312d73 0 188px,#254e79 0 189px,#312d71 0 190px,#22557c 0 191px,#2d3a78 0 192px,#254e7b 0 193px,#28447a 0 194px,#320446 0 195px,#2b3067 0 196px,#167b7b 0 197px,#1f5d7c 0 198px,#23537c 0 199px,#215375 0 200px,#330042 0 201px,#205572 0 202px,#206477 0 203px,#21516d 0 204px,#330042 0 206px,#24436a 0 207px,#19737c 0 208px,#254c7b 0 209px,#263962 0 210px,#274070 0 211px,#2c3a78 0 212px,#2a6274 0 213px,#268970 0 214px,#2d1f57 0 215px,#2d1d56 0 216px,#330042 0 217px,#310947 0 218px,#234263 0 219px,#310c4a 0 220px,#2a2a5f 0 221px,#253e68 0 222px,#293063 0 223px,#320747 0 224px,#2b2f66 0 225px,#21587b 0 226px,#1d647d 0 227px,#254d7b 0 228px,#22547c 0 229px,#243d61 0 230px,#283d71 0 231px,#2d225c 0 232px,#1e5965 0 233px,#224665 0 234px,#273b6a 0 235px,#34165d 0 236px,#283566 0 237px,#330042 0 239px,#1b6a6e 0 240px,#254e79 0 241px,#20526e 0 242px,#234364 0 243px,#2d3770 0 244px,#2c2257 0 245px,#330042 0 246px,#2c2e6a 0 247px,#2d2f69 0 248px,#340245 0 249px,#330042 0 250px,#30114d 0 251px,#294379 0 252px,#302668 0 253px,#283566 0 254px,#302465 0 255px,#330344 0 256px,#2e2764 0 257px,#273e6d 0 258px,#2e2360 0 259px,#32094b 0 260px,#264b7a 0 261px,#310b49 0 262px,#214b64 0 263px,#301655 0 264px,#2f3476 0 265px,#27497a 0 266px,#320e50 0 267px,#330042 0 268px,#244468 0 269px,#24405e 0 270px,#2f124a 0 271px,#330042 0 274px,#2f1956 0 275px,#26497b 0 276px,#2a407a 0 277px,#264675 0 278px,#330042 0 279px,#205267 0 280px,#330042 0 282px,#293365 0 283px,#2d3978 0 284px,#301554 0 285px,#330042 0 286px,#302769 0 287px,#2c3b78 0 288px,#320a4c 0 289px,#330042 0 291px,#2b2b63 0 292px,#311455 0 293px,#2f3476 0 294px,#2b3067 0 295px,#2c306a 0 296px,#253d64 0 297px,#214b67 0 298px,#2f1f5d 0 299px,#320a4b 0 300px,#2c2961 0 301px,#2b3e79 0 302px,#23557a 0 303px,#292957 0 304px,#2c3b70 0 305px,#2b2d65 0 306px,#330042 0 307px,#2b275d 0 308px,#30104d 0 309px,#330042 0 315px,#310947 0 316px,#19707c 0 317px,#1c677d 0 318px,#205a7c 0 319px,#21597c 0 320px,#205a7c 0 321px,#22557c 0 322px,#2f3270 0 323px,#1e637b 0 324px,#148479 0 325px,#1f5e7c 0 326px,#2c2157 0 327px,#23547b 0 328px,#284778 0 329px,#1d657d 0 330px,#1e607d 0 331px,#188078 0 332px,#312d6f 0 333px,#205c7c 0 334px,#1e627d 0 335px,#2d1f57 0 336px,#1d647d 0 337px,#19727b 0 338px,#205a7c 0 339px,#2c2157 0 340px,#1a6d7b 0 341px,#27477a 0 342px,#294279 0 343px,#19717c 0 344px,#1d6379 0 345px,#2f1b5a 0 346px,#2d2255 0 347px,#1b7678 0 348px,#301654 0 349px,#331257 0 350px,#330042 0 352px,#205267 0 353px,#330244 0 354px,#311f61 0 355px,#234b6e 0 356px,#2e2360 0 357px,#2f104c 0 358px,#292d5e 0 359px,#244468 0 360px,#330042 0 361px,#294073 0 362px,#340a4f 0 363px,#282f57 0 364px,#1d6178 0 365px,#330042 0 366px,#300f4b 0 367px,#274a77 0 368px,#332067 0 369px,#253c63 0 370px,#24466d 0 371px,#330042 0 372px,#2d2966 0 373px,#273c6a 0 374px,#273965 0 375px,#330042 0 376px,#28325e 0 377px,#2f124c 0 378px,#263962 0 379px,#23496e 0 380px,#214d65 0 381px,#293569 0 382px,#330244 0 383px,#24517c 0 384px,#244f7b 0 385px,#1b6c7b 0 386px,#30114d 0 387px,#283160 0 388px,#2a366e 0 389px,#330042 0 390px,#2d3774 0 391px,#2e1a56 0 392px,#2c2257 0 393px,#2c2157 0 394px,#28467b 0 395px,#310e4f 0 396px,#2d245e 0 397px,#205e7b 0 398px,#253e5a 0 399px,#2f1651 0 400px,#1a6f7b 0 401px,#2d3674 0 402px,#2b3b75 0 403px,#311f61 0 404px,#320748 0 405px,#2a407a 0 406px,#23537c 0 407px,#1e607d 0 408px,#2e2d6b 0 409px,#224564 0 410px,#2e1d56 0 411px,#21587c 0 413px,#244b77 0 414px,#340d53 0 415px,#2d3976 0 416px,#28457a 0 417px,#310b4a 0 418px,#2c2a62 0 419px,#320646 0 420px,#330042 0 422px,#2c2f69 0 423px,#1b6a7d 0 424px,#225075 0 425px,#330042 0 427px,#311c5e 0 428px,#330547 0 429px,#330042 0 433px,#330446 0 434px,#33175c 0 435px,#330042 0 442px,#330143 0 443px,#35054a 0 444px,#330042 0 446px,#34064a 0 447px,#340d53 0 448px,#34084c 0 449px,#361e69 0 450px,#330143 0 451px,#330042 0 486px,#320c4e 0 487px,#311658 0 488px,#330042 0 510px,#340b50 0 511px,#34084d 0 512px,#330042 0 519px,#330e52 0 520px,#330c50 0 521px,#331155 0 522px,#330a4d 0 523px,#330042 0 531px,#330143 0 532px,#35054a 0 533px,#330042 0 536px,#351159 0 537px,#330245 0 538px,#330042 0 553px,#340549 0 554px,#340e54 0 555px,#330042 0 566px,#35135b 0 567px,#330042 0 580px,#35135b 0 581px,#330042 0 584px,#342169 0 585px,#361e69 0 586px,#330245 0 587px,#330042 0 588px,#340b50 0 589px,#34094d 0 590px,#330042 0 592px,#340f55 0 593px,#330548 0 594px,#330042 0 616px,#35135b 0 617px,#330043 0 618px,#330042 0 624px,#34084c 0 625px,#340c51 0 626px,#330042 0 639px,#331156 0 640px,#33094d 0 641px,#330042 0 652px,#311b5d 0 653px,#330648 0 654px,#330042 0 681px,#311b5d 0 682px,#320749 0 683px,#330042 0)"></div>
<div style="background:linear-gradient(90deg,#321254 0 1px,#2f3173 0 2px,#330042 0 6px,#351158 0 7px,#360f58 0 8px,#330042 0 11px,#35084d 0 12px,#34064a 0 13px,#35054a 0 14px,#330042 0 17px,#351259 0 18px,#330244 0 19px,#330043 0 20px,#35135b 0 21px,#330042 0 23px,#331a60 0 24px,#330042 0 25px,#340448 0 26px,#35084e 0 27px,#330042 0 28px,#35135b 0 29px,#330043 0 30px,#330042 0 32px,#302264 0 33px,#340e54 0 34px,#340549 0 35px,#330042 0 38px,#35135b 0 39px,#330042 0 43px,#360c54 0 44px,#330042 0 45px,#340448 0 46px,#352069 0 47px,#330345 0 48px,#330042 0 49px,#34074c 0 50px,#34064a 0 51px,#330042 0 52px,#331a60 0 53px,#330042 0 56px,#341d64 0 57px,#340347 0 58px,#330042 0 61px,#35135b 0 62px,#330042 0 63px,#340347 0 64px,#35094f 0 65px,#330042 0 66px,#351259 0 67px,#331c62 0 68px,#330042 0 72px,#340346 0 73px,#350a50 0 74px,#330042 0 79px,#330143 0 80px,#37135e 0 81px,#340549 0 82px,#330042 0 83px,#360c54 0 84px,#330042 0 87px,#360c54 0 88px,#330042 0 90px,#330245 0 91px,#350b51 0 92px,#330042 0 96px,#34054a 0 97px,#34074c 0 98px,#371762 0 99px,#34094d 0 100px,#330042 0 101px,#330548 0 102px,#34246d 0 103px,#330548 0 104px,#330042 0 110px,#35135b 0 111px,#330042 0 120px,#340d53 0 121px,#34064a 0 122px,#330042 0 129px,#340c52 0 130px,#34074b 0 131px,#340e54 0 132px,#340549 0 133px,#330042 0 139px,#35135b 0 140px,#330042 0 141px,#330649 0 142px,#331459 0 143px,#340448 0 144px,#35084e 0 145px,#330042 0 153px,#351158 0 154px,#330346 0 155px,#33195f 0 156px,#330143 0 157px,#330042 0 161px,#35135b 0 162px,#330042 0 166px,#330143 0 167px,#331a60 0 168px,#330144 0 169px,#350b52 0 170px,#330042 0 172px,#34064a 0 173px,#340d53 0 174px,#330042 0 178px,#35084d 0 179px,#340449 0 180px,#330042 0 186px,#302365 0 187px,#312062 0 188px,#330346 0 189px,#351158 0 190px,#330649 0 191px,#331459 0 192px,#34074b 0 193px,#340d52 0 194px,#330042 0 199px,#35135b 0 200px,#330042 0 204px,#2b2e65 0 205px,#330244 0 207px,#332971 0 208px,#330a4e 0 209px,#330042 0 211px,#2c2760 0 212px,#310949 0 213px,#330042 0 214px,#34094e 0 215px,#340b50 0 216px,#35135b 0 217px,#302264 0 218px,#330042 0 223px,#35135b 0 224px,#330042 0 225px,#340a4f 0 226px,#312b6f 0 227px,#330042 0 239px,#322369 0 240px,#31195b 0 241px,#33094d 0 242px,#351c66 0 243px,#332870 0 244px,#332971 0 245px,#330042 0 246px,#330345 0 247px,#33185d 0 248px,#330042 0 250px,#360c54 0 251px,#350b51 0 252px,#330245 0 253px,#330042 0 255px,#35155d 0 256px,#33195e 0 257px,#330447 0 258px,#33165b 0 259px,#340549 0 260px,#340e54 0 261px,#330042 0 263px,#331a60 0 264px,#360d55 0 265px,#302163 0 266px,#331a60 0 267px,#2f1c5a 0 268px,#310d4e 0 269px,#330042 0 270px,#340245 0 271px,#340448 0 272px,#35135b 0 273px,#330042 0 275px,#330244 0 276px,#351259 0 277px,#331d64 0 278px,#350a51 0 279px,#330042 0 280px,#33165b 0 281px,#2d2e6b 0 282px,#35125a 0 283px,#330144 0 284px,#330143 0 285px,#33195f 0 286px,#330042 0 287px,#2f1d5b 0 288px,#310d4d 0 289px,#33155a 0 290px,#330548 0 291px,#330042 0 294px,#35135b 0 295px,#330042 0 297px,#302264 0 298px,#330042 0 301px,#2f2f71 0 302px,#311456 0 303px,#330042 0 308px,#351a63 0 309px,#331358 0 310px,#330042 0 312px,#34094e 0 313px,#340a4f 0 314px,#330042 0 315px,#330e44 0 316px,#27a268 0 317px,#167a7b 0 318px,#1a707c 0 319px,#197a79 0 320px,#169474 0 321px,#1c667d 0 322px,#1d647d 0 323px,#2b9e67 0 324px,#1c697c 0 325px,#199373 0 326px,#292b56 0 327px,#1b6a7d 0 328px,#1d5d71 0 329px,#224a5f 0 330px,#292c56 0 331px,#15817a 0 332px,#1ea26c 0 333px,#1a9b70 0 334px,#1b687d 0 335px,#15817a 0 336px,#1c667d 0 337px,#2a2757 0 338px,#18747c 0 339px,#196e7c 0 340px,#18787a 0 341px,#1b697d 0 342px,#1c667d 0 343px,#1a6f7b 0 344px,#148778 0 345px,#1d647d 0 346px,#2a2857 0 347px,#157f7b 0 348px,#158279 0 349px,#1f5e7c 0 350px,#1e627d 0 351px,#178577 0 352px,#18727c 0 353px,#19707c 0 354px,#1a717b 0 355px,#148679 0 356px,#1d7d76 0 357px,#1e6a79 0 358px,#253c5d 0 359px,#2b214f 0 360px,#157d7a 0 361px,#19727b 0 362px,#22557c 0 363px,#16787c 0 364px,#1b6778 0 365px,#253c59 0 366px,#282f56 0 367px,#24405e 0 368px,#214b67 0 369px,#234263 0 370px,#1b6d7b 0 371px,#1d687b 0 372px,#19717c 0 373px,#282d56 0 374px,#224564 0 375px,#1b676c 0 376px,#16797c 0 377px,#1b697c 0 378px,#167a7b 0 379px,#2b2557 0 380px,#1a6c7c 0 381px,#282d56 0 382px,#1b6b7c 0 383px,#177a7a 0 384px,#1b8b73 0 385px,#17747c 0 386px,#282d56 0 387px,#23435c 0 388px,#293f73 0 389px,#19727c 0 390px,#1d657d 0 391px,#2d1e57 0 392px,#1d637d 0 393px,#2d1d57 0 394px,#244f7b 0 395px,#2f134f 0 396px,#25385e 0 397px,#1f5c7c 0 398px,#19717c 0 399px,#254e7b 0 400px,#2b2559 0 401px,#2d1c55 0 402px,#2b3c76 0 403px,#330042 0 404px,#26416e 0 405px,#1e607d 0 406px,#2c2057 0 407px,#1e607d 0 408px,#1e627d 0 409px,#1f5d7c 0 410px,#18707c 0 411px,#205c7c 0 412px,#254d7b 0 413px,#311251 0 414px,#292e5c 0 415px,#205474 0 416px,#244a5b 0 417px,#205e7b 0 418px,#1e617d 0 419px,#2c2057 0 420px,#22557c 0 421px,#2c2257 0 422px,#21587c 0 423px,#2b2c64 0 424px,#23496f 0 425px,#283361 0 426px,#264472 0 427px,#28457a 0 428px,#2f1956 0 429px,#2e3675 0 430px,#321254 0 431px,#321153 0 432px,#330042 0 433px,#330547 0 434px,#2b3e78 0 435px,#29427a 0 436px,#2f1f5d 0 437px,#310e4f 0 438px,#2f1b5a 0 439px,#2b3c74 0 440px,#330f53 0 441px,#330042 0 442px,#331e64 0 443px,#311e60 0 444px,#35135b 0 445px,#2f1f5d 0 446px,#2f2c6c 0 447px,#330042 0 448px,#320e50 0 449px,#311456 0 450px,#331a60 0 451px,#302466 0 452px,#2a407a 0 453px,#311455 0 454px,#33165b 0 455px,#310b4c 0 456px,#2f1e5d 0 457px,#302264 0 458px,#351259 0 459px,#331c62 0 460px,#330143 0 461px,#34256e 0 462px,#34084d 0 463px,#311759 0 464px,#320b4d 0 465px,#350a50 0 466px,#340346 0 467px,#330042 0 475px,#35155e 0 476px,#340448 0 477px,#330042 0 483px,#340d53 0 484px,#34064a 0 485px,#330042 0 491px,#330144 0 492px,#350b52 0 493px,#330042 0 499px,#340a4f 0 500px,#34094e 0 501px,#330042 0 504px,#35135b 0 505px,#330042 0 514px,#340449 0 515px,#330144 0 516px,#330042 0 520px,#331a60 0 521px,#330042 0 524px,#361760 0 525px,#35094f 0 526px,#330042 0 528px,#34094e 0 529px,#371762 0 530px,#350c53 0 531px,#330143 0 532px,#35175f 0 533px,#33236a 0 534px,#330042 0 535px,#35135b 0 536px,#33185d 0 537px,#330345 0 538px,#330042 0 542px,#35135b 0 543px,#330042 0 546px,#34084c 0 547px,#371762 0 548px,#330043 0 549px,#35064b 0 550px,#330042 0 553px,#33074a 0 554px,#331358 0 555px,#330042 0 562px,#330448 0 563px,#340f56 0 564px,#330042 0 568px,#35216b 0 569px,#330c50 0 570px,#330042 0 572px,#35094f 0 573px,#340b4f 0 574px,#331358 0 575px,#34084c 0 576px,#371762 0 577px,#330143 0 579px,#35135a 0 580px,#330042 0 584px,#36155f 0 585px,#331156 0 586px,#330042 0 587px,#360c54 0 588px,#330042 0 603px,#350a51 0 604px,#330245 0 605px,#330042 0 607px,#35145c 0 608px,#332971 0 609px,#330b4f 0 610px,#340d53 0 611px,#34064a 0 612px,#330042 0 614px,#351158 0 615px,#330245 0 616px,#35135b 0 617px,#35226c 0 618px,#330f53 0 619px,#332971 0 620px,#330a4d 0 621px,#330042 0 622px,#340447 0 623px,#35094f 0 624px,#360c54 0 625px,#330042 0 626px,#35135b 0 628px,#330042 0 632px,#311b5d 0 633px,#320749 0 634px,#330042 0 638px,#35135b 0 639px,#330042 0 640px,#330447 0 641px,#350f56 0 642px,#330042 0 647px,#331c62 0 648px,#35125a 0 649px,#330245 0 650px,#350a51 0 651px,#330042 0 653px,#34226a 0 654px,#340c52 0 655px,#330042 0 671px,#33084b 0 672px,#331358 0 673px,#330042 0)"></div>
<div style="background:linear-gradient(90deg,#330042 0 3px,#340346 0 4px,#350a50 0 5px,#330042 0 9px,#330d51 0 11px,#330042 0 24px,#350a50 0 25px,#360f58 0 26px,#330042 0 30px,#330244 0 31px,#351259 0 32px,#330042 0 44px,#350a50 0 45px,#340346 0 46px,#330042 0 65px,#35135b 0 66px,#330042 0 67px,#35135b 0 68px,#330042 0 83px,#340447 0 84px,#35094f 0 85px,#330042 0 98px,#331a60 0 99px,#330042 0 111px,#331358 0 112px,#33084b 0 113px,#330042 0 127px,#330e52 0 128px,#330c50 0 129px,#330042 0 142px,#33155a 0 143px,#330548 0 144px,#330042 0 145px,#302264 0 146px,#330042 0 149px,#35084e 0 150px,#340448 0 151px,#330042 0 152px,#34064a 0 153px,#340d53 0 154px,#330042 0 156px,#340a4f 0 157px,#34094e 0 158px,#330042 0 159px,#360c54 0 160px,#330042 0 165px,#330c50 0 166px,#330e52 0 167px,#340b50 0 168px,#34084d 0 169px,#330042 0 186px,#2d2b67 0 187px,#2f3476 0 188px,#2f3576 0 189px,#302c6d 0 190px,#312d71 0 191px,#2f3476 0 192px,#320749 0 193px,#311e60 0 194px,#2f1956 0 195px,#312768 0 196px,#330f53 0 197px,#330c50 0 198px,#330042 0 202px,#311d5f 0 203px,#340a4e 0 204px,#35074d 0 205px,#330042 0 206px,#2d2966 0 207px,#331055 0 208px,#33256c 0 209px,#340e54 0 210px,#342067 0 211px,#2c2760 0 212px,#312b6f 0 213px,#312c70 0 214px,#312366 0 215px,#331b61 0 216px,#360c54 0 217px,#302768 0 218px,#2e2462 0 219px,#331f66 0 220px,#34246d 0 221px,#330649 0 222px,#330042 0 223px,#312a6e 0 224px,#371762 0 225px,#330042 0 226px,#302264 0 227px,#330042 0 228px,#330548 0 229px,#33165b 0 230px,#30296c 0 231px,#331358 0 232px,#31296d 0 233px,#340c51 0 234px,#302264 0 235px,#35155d 0 236px,#312062 0 237px,#330042 0 238px,#311759 0 239px,#321154 0 240px,#312f74 0 241px,#30286a 0 242px,#330042 0 243px,#34054a 0 244px,#34074c 0 245px,#330042 0 247px,#2e1f5a 0 248px,#311d5f 0 249px,#311b5d 0 250px,#342068 0 251px,#340d53 0 252px,#301351 0 253px,#302260 0 254px,#341e66 0 255px,#321254 0 256px,#35125a 0 257px,#2d2966 0 258px,#330042 0 261px,#2d2966 0 262px,#330042 0 263px,#342069 0 264px,#2c3670 0 265px,#330042 0 266px,#2d2966 0 267px,#331256 0 268px,#33094c 0 269px,#2e205e 0 270px,#33286e 0 271px,#302c6e 0 272px,#303174 0 273px,#301857 0 274px,#2b3067 0 275px,#330345 0 276px,#311f61 0 277px,#330548 0 278px,#332971 0 279px,#321154 0 280px,#31185a 0 281px,#340549 0 282px,#35074d 0 283px,#330042 0 284px,#330143 0 285px,#312062 0 286px,#331d64 0 287px,#351158 0 288px,#360c54 0 289px,#33155a 0 290px,#351961 0 291px,#2b2b63 0 292px,#320546 0 293px,#330042 0 294px,#301756 0 295px,#301656 0 296px,#311e60 0 297px,#330042 0 298px,#31195b 0 299px,#32084a 0 300px,#330042 0 303px,#312b70 0 304px,#361d67 0 305px,#311557 0 306px,#320d4f 0 307px,#330042 0 308px,#341c64 0 309px,#31195b 0 310px,#331a60 0 311px,#330042 0 312px,#331a60 0 313px,#2b3067 0 314px,#330042 0 315px,#320546 0 316px,#2e2462 0 317px,#1e5d6f 0 318px,#2c3a76 0 319px,#264a7a 0 320px,#1e607d 0 321px,#254c7b 0 322px,#264a7b 0 323px,#2a4078 0 324px,#22567c 0 325px,#21597c 0 326px,#2e1c56 0 327px,#1c657d 0 328px,#23527c 0 329px,#22547c 0 330px,#21587c 0 331px,#28447a 0 332px,#2a3269 0 333px,#25406a 0 334px,#28467b 0 335px,#1c6b7b 0 336px,#1f5e7c 0 337px,#264c7b 0 338px,#264a7b 0 339px,#20597c 0 340px,#1a6d7b 0 341px,#2e3470 0 342px,#1b697c 0 343px,#2c3d75 0 344px,#225378 0 345px,#330042 0 346px,#234b70 0 347px,#1e607d 0 348px,#2d1e57 0 349px,#1e617c 0 350px,#2b3f78 0 351px,#264b78 0 352px,#21597c 0 353px,#264b7b 0 354px,#1b6a7d 0 355px,#23527c 0 356px,#22547c 0 357px,#18727c 0 358px,#1c697c 0 359px,#20597c 0 360px,#24517c 0 361px,#33286e 0 362px,#22577b 0 363px,#21587c 0 364px,#1f5f7c 0 365px,#24507c 0 366px,#254c7b 0 367px,#1c647c 0 368px,#205b7b 0 369px,#1a6d7c 0 370px,#2d1f57 0 371px,#27487b 0 372px,#205b7c 0 373px,#205d7c 0 374px,#1e617d 0 375px,#254d7b 0 376px,#22547c 0 377px,#284678 0 378px,#322a70 0 379px,#1e627c 0 380px,#254d7b 0 381px,#264a7b 0 382px,#1a7379 0 383px,#2a407a 0 384px,#24507c 0 385px,#22567c 0 386px,#1e627d 0 387px,#292f5f 0 388px,#2f134f 0 389px,#22557c 0 390px,#1a6c7c 0 391px,#21597c 0 392px,#29447a 0 393px,#21587c 0 394px,#2a407a 0 395px,#21597c 0 396px,#22557c 0 397px,#2e1a56 0 398px,#24507c 0 399px,#1c687d 0 400px,#17777c 0 401px,#196e7c 0 402px,#21557a 0 403px,#2b2659 0 404px,#1e617d 0 405px,#1e607d 0 406px,#24507c 0 407px,#205a7c 0 408px,#24517c 0 409px,#254d7b 0 410px,#24537a 0 411px,#292d56 0 412px,#283667 0 413px,#273d6c 0 414px,#264a7b 0 415px,#27477b 0 416px,#1a6a7c 0 417px,#1a6b7d 0 418px,#264b79 0 419px,#264b7b 0 420px,#1d647d 0 421px,#294478 0 422px,#1e607d 0 423px,#205c7d 0 424px,#22567c 0 425px,#205b7d 0 426px,#1f5e7d 0 427px,#1e607d 0 428px,#23527c 0 429px,#1e607d 0 430px,#2f1856 0 431px,#2a417a 0 432px,#283566 0 433px,#26416d 0 434px,#263b63 0 435px,#283d70 0 436px,#294479 0 437px,#301756 0 438px,#2b3d78 0 439px,#28467a 0 440px,#301756 0 441px,#2d2966 0 442px,#2d2c69 0 443px,#2c3c76 0 444px,#244f7b 0 445px,#283160 0 446px,#2d2966 0 447px,#2c2961 0 448px,#244e7b 0 449px,#23547c 0 450px,#2a3268 0 451px,#320344 0 452px,#2b2d65 0 453px,#2c316c 0 454px,#244f7b 0 455px,#28467b 0 456px,#24507c 0 457px,#254e7b 0 458px,#27497b 0 459px,#2f3576 0 460px,#2c3c79 0 461px,#27467b 0 462px,#2a407a 0 463px,#28447a 0 464px,#2a3972 0 465px,#330042 0 472px,#311557 0 473px,#320c4e 0 474px,#330042 0 484px,#35064b 0 485px,#330042 0 495px,#320a4c 0 496px,#311759 0 497px,#330042 0 503px,#340e54 0 504px,#340649 0 505px,#330042 0 506px,#340549 0 507px,#35084d 0 508px,#321052 0 509px,#321254 0 510px,#330042 0 511px,#330346 0 512px,#33175d 0 513px,#330042 0 519px,#330e52 0 520px,#352069 0 521px,#330042 0 529px,#330043 0 530px,#350c53 0 531px,#330042 0 535px,#34074b 0 536px,#340d52 0 537px,#34054a 0 538px,#34074c 0 539px,#330042 0 542px,#361059 0 543px,#350f56 0 544px,#330042 0 547px,#33195f 0 548px,#330143 0 549px,#330042 0 558px,#360c54 0 559px,#330042 0 560px,#330346 0 561px,#33175d 0 562px,#330042 0 572px,#35094f 0 573px,#340347 0 574px,#330042 0 582px,#330548 0 583px,#340f55 0 584px,#330042 0 595px,#340549 0 596px,#35074d 0 597px,#330042 0 620px,#330548 0 621px,#33165b 0 622px,#330042 0 625px,#35125a 0 626px,#330144 0 627px,#330042 0 631px,#330548 0 632px,#340f55 0 633px,#330042 0 635px,#331a60 0 636px,#330042 0 644px,#360c54 0 645px,#33195f 0 646px,#330143 0 647px,#330042 0 649px,#330143 0 650px,#35054a 0 651px,#330042 0 660px,#331a60 0 661px,#340f56 0 662px,#330448 0 663px,#330042 0 664px,#331a60 0 665px,#302163 0 666px,#330143 0 667px,#330042 0 670px,#331358 0 671px,#330f53 0 672px,#331358 0 673px,#311050 0 674px,#2a407a 0 675px,#2a3269 0 676px,#330042 0 677px,#2d2058 0 678px,#1f5b77 0 679px,#331257 0 680px,#2b3870 0 681px,#2e215f 0 682px,#27467b 0 683px,#2f1b5a 0 684px,#302d71 0 685px,#2a407a 0)"></div>
<div style="background:linear-gradient(90deg,#254e7b 0 1px,#2e3777 0 2px,#2a4279 0 3px,#2c3b77 0 4px,#2d3a78 0 5px,#320a4b 0 6px,#330042 0 7px,#34084c 0 8px,#340b51 0 9px,#340a4f 0 10px,#2c3973 0 11px,#330042 0 12px,#2b3067 0 13px,#330042 0 14px,#310d4c 0 15px,#2d235d 0 16px,#330042 0 17px,#351259 0 18px,#321154 0 19px,#321254 0 20px,#330042 0 21px,#302768 0 22px,#302c6e 0 23px,#340448 0 24px,#330042 0 25px,#30104e 0 26px,#2d205b 0 27px,#330042 0 29px,#2a3f79 0 30px,#301353 0 31px,#2f1a59 0 32px,#311051 0 33px,#350549 0 34px,#322366 0 35px,#2d3772 0 36px,#330346 0 37px,#330042 0 38px,#7fcf32 0 39px,#330042 0 52px,#360c54 0 53px,#330042 0 57px,#35064b 0 58px,#331b61 0 59px,#330042 0 61px,#35135b 0 62px,#331358 0 63px,#33084b 0 64px,#350a51 0 65px,#331d64 0 66px,#33185e 0 67px,#301655 0 69px,#330042 0 70px,#360e56 0 71px,#350b52 0 72px,#2d2966 0 73px,#330042 0 74px,#320b4d 0 75px,#312e73 0 76px,#330346 0 77px,#330042 0 79px,#331a60 0 80px,#311557 0 81px,#320c4e 0 82px,#330042 0 83px,#340447 0 84px,#35094f 0 85px,#215377 0 86px,#244e7b 0 87px,#2d1e57 0 88px,#22567c 0 89px,#19707c 0 90px,#1d647d 0 91px,#1e617d 0 92px,#264b7b 0 93px,#24507c 0 94px,#1d627d 0 95px,#292d5b 0 96px,#264878 0 97px,#22557c 0 98px,#2a4078 0 99px,#22567c 0 100px,#205d7c 0 101px,#1c657c 0 102px,#1f5e7b 0 103px,#1f5e7c 0 105px,#310847 0 106px,#283566 0 107px,#330244 0 108px,#330042 0 121px,#341b63 0 122px,#312e74 0 123px,#312e73 0 124px,#2a407a 0 125px,#2b3d79 0 126px,#2f3476 0 127px,#2d3877 0 128px,#2a3f7a 0 129px,#2f3476 0 130px,#322c72 0 131px,#33165b 0 132px,#20576e 0 133px,#340e54 0 134px,#330042 0 135px,#33195e 0 136px,#34084d 0 137px,#34064b 0 138px,#311456 0 139px,#321154 0 140px,#34246d 0 141px,#34064a 0 142px,#350f56 0 143px,#371762 0 144px,#340d52 0 145px,#2e1953 0 146px,#254e7b 0 147px,#2f3476 0 148px,#2b3d79 0 149px,#2e2562 0 150px,#2d306d 0 151px,#2d3a78 0 152px,#2a407a 0 154px,#320647 0 155px,#33195f 0 156px,#330143 0 157px,#331a60 0 158px,#340c51 0 159px,#361b65 0 160px,#340e54 0 161px,#340649 0 162px,#351057 0 163px,#330447 0 164px,#330042 0 170px,#331a60 0 171px,#330042 0 172px,#33094c 0 173px,#331256 0 174px,#330042 0 176px,#360c54 0 177px,#330244 0 178px,#351259 0 179px,#330042 0 181px,#351962 0 182px,#340e54 0 183px,#340246 0 184px,#340448 0 185px,#2c1e55 0 186px,#1c667d 0 187px,#23547c 0 188px,#22567c 0 189px,#21587c 0 190px,#1d627d 0 191px,#205a7c 0 192px,#1a6b7c 0 193px,#254d7b 0 194px,#18747c 0 195px,#19717c 0 196px,#21587c 0 197px,#2e1c56 0 198px,#1b6a7d 0 199px,#205675 0 200px,#243e5e 0 201px,#2a2957 0 202px,#1b6a7d 0 203px,#1a6d7d 0 204px,#1e617c 0 205px,#254e7b 0 206px,#22557c 0 207px,#1f5d7c 0 208px,#1e5f77 0 209px,#31185a 0 210px,#2c3c77 0 211px,#205a7c 0 212px,#310a49 0 213px,#330042 0 214px,#1f5b7a 0 215px,#1c677d 0 216px,#197d77 0 217px,#1f5c78 0 218px,#2a2a5c 0 219px,#1d647d 0 220px,#1c6a7c 0 221px,#2b3c77 0 222px,#244f74 0 223px,#1c677d 0 224px,#1e607c 0 225px,#264a7b 0 226px,#1d6179 0 227px,#330042 0 228px,#331a60 0 229px,#330042 0 232px,#1b6576 0 233px,#1b6a7d 0 234px,#320444 0 235px,#330042 0 241px,#320c4e 0 242px,#342168 0 243px,#2e3576 0 244px,#2d3877 0 245px,#2d2966 0 246px,#302667 0 247px,#2c3b78 0 248px,#2e3777 0 249px,#22557c 0 250px,#2b3d78 0 251px,#2d3978 0 252px,#302668 0 253px,#2d2865 0 254px,#24517c 0 255px,#2f1956 0 256px,#2f3275 0 257px,#27487b 0 258px,#28457b 0 259px,#310c4c 0 260px,#2e225f 0 261px,#2c316d 0 262px,#311f61 0 263px,#303174 0 264px,#2d3877 0 265px,#2c3c79 0 266px,#311355 0 267px,#2a407a 0 268px,#2f1856 0 269px,#28457a 0 270px,#2e1b56 0 271px,#294279 0 272px,#27497a 0 273px,#294279 0 274px,#21597c 0 275px,#23517c 0 276px,#254c7b 0 277px,#244f7b 0 278px,#22547c 0 279px,#254e7b 0 280px,#24507c 0 281px,#1d637d 0 282px,#22557c 0 283px,#1f5c7d 0 285px,#205c7d 0 286px,#27477b 0 287px,#205a7c 0 288px,#1d637d 0 289px,#264a7b 0 290px,#23547c 0 291px,#22557c 0 292px,#254e7b 0 293px,#2d1e57 0 294px,#294478 0 295px,#24507c 0 296px,#2e2562 0 297px,#273f6f 0 298px,#28457a 0 299px,#29447a 0 300px,#264a7b 0 301px,#2d1d57 0 302px,#1e627d 0 303px,#27487b 0 305px,#1d647d 0 306px,#21587c 0 307px,#264a7b 0 308px,#30104d 0 309px,#330042 0 314px,#34434c 0 315px,#414445 0 316px,#ece013 0 317px,#d4dd15 0 318px,#cedc1c 0 319px,#e9df17 0 320px,#ccdc12 0 321px,#e6df17 0 322px,#e5df17 0 323px,#b4d819 0 324px,#7bcc35 0 325px,#ebe013 0 326px,#f9e217 0 327px,#a4d327 0 328px,#a6d525 0 329px,#dade16 0 330px,#dbde10 0 331px,#f1e014 0 332px,#d4dd15 0 333px,#fce218 0 334px,#eae012 0 335px,#cedc15 0 336px,#ccdc12 0 337px,#c4db13 0 338px,#bdda14 0 339px,#97cb29 0 340px,#9bc23f 0 341px,#87d030 0 342px,#a7d61f 0 343px,#dcdd1b 0 344px,#9dd522 0 345px,#52ad51 0 346px,#a0c72c 0 347px,#fde218 0 348px,#e4df10 0 349px,#f0e014 0 350px,#eadf12 0 351px,#afd628 0 352px,#fae119 0 353px,#a8d529 0 354px,#b8d91a 0 355px,#e2de10 0 356px,#fde218 0 358px,#8e8d4c 0 359px,#74b93c 0 360px,#a5cb38 0 361px,#eae017 0 362px,#d3dd11 0 363px,#c2da1e 0 364px,#eadf12 0 365px,#d4dc1c 0 366px,#d6dd14 0 367px,#eee014 0 368px,#94d229 0 369px,#b0d81a 0 370px,#f0e015 0 371px,#f2e115 0 372px,#c9db15 0 373px,#e1de1b 0 374px,#cada23 0 375px,#c1d919 0 376px,#ccdb1d 0 377px,#62a156 0 378px,#efe014 0 379px,#c0da1e 0 380px,#ebe013 0 381px,#d4dc20 0 382px,#d0db21 0 383px,#a4d525 0 384px,#f5e116 0 385px,#fde218 0 386px,#9dd42a 0 387px,#8fd22a 0 388px,#dede1b 0 389px,#acd71c 0 390px,#9fd521 0 392px,#8ad12c 0 393px,#d6dc1e 0 394px,#37b25c 0 395px,#4fbc4e 0 396px,#91d12a 0 397px,#9bd424 0 398px,#acd71b 0 399px,#c3db14 0 400px,#6d8252 0 401px,#4e9756 0 402px,#61a14a 0 403px,#47bc52 0 404px,#46bb53 0 405px,#41b556 0 406px,#48b25a 0 407px,#8bc541 0 408px,#98d126 0 409px,#5d9852 0 410px,#71c63b 0 411px,#8ad12c 0 412px,#9fd521 0 413px,#c6da17 0 414px,#58bf49 0 415px,#40b956 0 416px,#2e806c 0 417px,#c4c91f 0 418px,#ccdc12 0 419px,#85cb3b 0 420px,#9bd133 0 421px,#a7d61f 0 422px,#9ad426 0 423px,#bed729 0 424px,#7cce34 0 425px,#9fd521 0 426px,#cedc13 0 427px,#cfdc11 0 428px,#dfde0f 0 429px,#f1e014 0 430px,#7ab13e 0 431px,#21597c 0 432px,#205c7d 0 433px,#1f5e7d 0 434px,#1c667d 0 435px,#21577c 0 436px,#22557c 0 437px,#1e617d 0 438px,#1b6a7d 0 439px,#22567c 0 440px,#1d637d 0 441px,#22557c 0 442px,#284277 0 443px,#331156 0 444px,#33094d 0 445px,#331459 0 446px,#303275 0 447px,#2a4079 0 448px,#2a417a 0 449px,#312b6f 0 450px,#2d3877 0 451px,#2d3977 0 452px,#2b2d65 0 453px,#302769 0 454px,#2d3a78 0 455px,#310c4c 0 456px,#311b5d 0 457px,#2c3c79 0 458px,#2a4179 0 459px,#302567 0 460px,#2d2a67 0 461px,#29447a 0 462px,#2d3977 0 463px,#332971 0 464px,#2d3877 0 465px,#332971 0 466px,#303074 0 467px,#332971 0 468px,#330346 0 469px,#330042 0 470px,#2d2966 0 471px,#330042 0 477px,#330a4e 0 478px,#313074 0 479px,#34226b 0 480px,#32296e 0 481px,#33195f 0 482px,#331e65 0 483px,#33175c 0 484px,#2d2966 0 485px,#330042 0 486px,#302264 0 487px,#330042 0 493px,#2b3067 0 494px,#2d245e 0 495px,#244e7b 0 496px,#1c667d 0 497px,#23527a 0 498px,#264b78 0 499px,#254e7b 0 500px,#28467a 0 501px,#2b3f76 0 502px,#21587c 0 503px,#24507c 0 504px,#27477b 0 505px,#1e607d 0 506px,#22567c 0 507px,#205c7d 0 508px,#196d7c 0 509px,#21597c 0 511px,#21587c 0 512px,#205a7c 0 513px,#2b2457 0 514px,#18747c 0 515px,#26426f 0 516px,#311d5f 0 517px,#24507b 0 518px,#22567a 0 519px,#311355 0 520px,#294279 0 521px,#254e78 0 522px,#18707c 0 523px,#264b7b 0 524px,#23517c 0 525px,#1e607d 0 526px,#17787c 0 527px,#1b6a7d 0 528px,#273b6a 0 529px,#244468 0 530px,#2e1c58 0 531px,#301351 0 532px,#330042 0 533px,#273f70 0 534px,#2c3a78 0 535px,#28457a 0 536px,#244f7b 0 537px,#273c6b 0 538px,#2b3067 0 539px,#1f5c7d 0 540px,#254d7b 0 541px,#2a407a 0 542px,#2d3a78 0 543px,#22557c 0 544px,#23527c 0 545px,#254e7b 0 546px,#320647 0 547px,#312062 0 548px,#2c3c79 0 549px,#294279 0 550px,#2d3978 0 551px,#2a407a 0 552px,#264a7b 0 553px,#1d657c 0 554px,#1d687a 0 555px,#24476f 0 556px,#2b2c64 0 557px,#29447a 0 558px,#264a7b 0 559px,#2a407a 0 561px,#27497b 0 562px,#2c3c75 0 563px,#1c657d 0 564px,#294478 0 565px,#205a7c 0 566px,#2e3776 0 567px,#294279 0 568px,#2e1a56 0 569px,#28457a 0 570px,#273965 0 571px,#253e68 0 572px,#330042 0 575px,#35135b 0 576px,#330042 0 582px,#302264 0 583px,#330042 0 584px,#34074b 0 585px,#34246e 0 586px,#301555 0 587px,#2a407a 0 588px,#302264 0 589px,#331a60 0 590px,#311658 0 591px,#302d6f 0 592px,#330042 0 602px,#342067 0 603px,#34246d 0 604px,#303074 0 605px,#332971 0 606px,#330f53 0 607px,#35226c 0 608px,#371762 0 609px,#34084d 0 610px,#331256 0 611px,#2d3877 0 612px,#34246d 0 613px,#330f53 0 614px,#312e73 0 615px,#331e64 0 616px,#330042 0 617px,#35135b 0 618px,#330143 0 619px,#350b53 0 620px,#330648 0 621px,#2f3476 0 622px,#312f74 0 623px,#24517c 0 624px,#2d3977 0 625px,#2c3b78 0 626px,#2a407a 0 627px,#254c7a 0 628px,#2e1c58 0 629px,#27487b 0 630px,#2f3476 0 631px,#33286e 0 632px,#2d3a78 0 633px,#2a417a 0 634px,#24507c 0 635px,#20506b 0 636px,#2d2966 0 637px,#22557c 0 638px,#284277 0 639px,#292d5b 0 640px,#1b697d 0 641px,#22557c 0 643px,#22547c 0 644px,#21587c 0 646px,#22557c 0 647px,#27477b 0 648px,#23537c 0 649px,#2e1851 0 650px,#330042 0 651px,#360c54 0 652px,#330042 0 654px,#351259 0 655px,#330244 0 656px,#330143 0 657px,#331a60 0 658px,#320546 0 659px,#28447a 0 660px,#2f1956 0 661px,#2e3476 0 662px,#28457a 0 663px,#2b3e78 0 664px,#340c51 0 665px,#322c71 0 666px,#330143 0 667px,#330042 0 671px,#340649 0 672px,#340e54 0 673px,#330042 0 675px,#274779 0 676px,#24517c 0 677px,#254c7b 0 678px,#264a7b 0 679px,#22557c 0 680px,#28467b 0 681px,#24507c 0 682px,#26497b 0 683px,#28467b 0 684px,#27477b 0 685px,#254e7b 0)"></div>
<div style="background:linear-gradient(90deg,#27497a 0 1px,#2b3d79 0 2px,#264a7b 0 3px,#24507c 0 4px,#28457a 0 5px,#2e1c56 0 6px,#205b7d 0 7px,#28467b 0 8px,#28447a 0 9px,#2c3c79 0 10px,#2f3476 0 11px,#28447a 0 12px,#2c3b78 0 13px,#2c3a78 0 14px,#322d73 0 15px,#2c3a78 0 16px,#264b7b 0 17px,#22557c 0 18px,#2a417a 0 19px,#2a407a 0 20px,#294279 0 21px,#264b7a 0 22px,#28467b 0 23px,#2b3d78 0 24px,#1e607d 0 25px,#284678 0 26px,#23527b 0 27px,#274779 0 28px,#2b3e77 0 29px,#23517c 0 31px,#244e7b 0 32px,#1f5f7c 0 33px,#2b3e78 0 34px,#2f3474 0 35px,#322a70 0 36px,#264a7b 0 37px,#22557c 0 38px,#2a3369 0 39px,#331c62 0 40px,#28467b 0 41px,#27467b 0 42px,#2a407a 0 43px,#2f1a56 0 44px,#2b295e 0 45px,#274273 0 46px,#2c3b78 0 47px,#2d3977 0 48px,#303074 0 49px,#34266e 0 50px,#22587b 0 51px,#2e3676 0 52px,#284479 0 53px,#205a7c 0 54px,#24507c 0 55px,#26497b 0 56px,#20516d 0 57px,#224866 0 58px,#27487b 0 59px,#205a7c 0 60px,#2b3c71 0 61px,#294378 0 62px,#2c3a78 0 63px,#303275 0 64px,#2e3576 0 65px,#321154 0 66px,#294378 0 67px,#254e7b 0 69px,#22557c 0 70px,#2c3c77 0 71px,#33175d 0 72px,#283e6f 0 73px,#22557c 0 74px,#2a3f79 0 75px,#33286f 0 76px,#254d7a 0 77px,#264c7b 0 78px,#22557c 0 79px,#2d3875 0 80px,#2a4179 0 81px,#28467a 0 82px,#264b7b 0 83px,#29447a 0 84px,#1e607d 0 85px,#27487a 0 86px,#2a4179 0 87px,#2b3d79 0 88px,#311355 0 89px,#2b2e65 0 90px,#2a366c 0 91px,#2a407a 0 93px,#31296c 0 94px,#303073 0 95px,#2a4179 0 96px,#2a417a 0 97px,#2a407a 0 98px,#312c71 0 99px,#312e73 0 100px,#28447a 0 101px,#22547c 0 102px,#24507c 0 103px,#27467b 0 104px,#2a407a 0 105px,#2f3576 0 106px,#2c3b78 0 107px,#2c3c78 0 108px,#264a7b 0 109px,#22557c 0 110px,#27477b 0 111px,#205a7c 0 112px,#1f5c7d 0 113px,#264a7b 0 114px,#2c3c78 0 115px,#24517c 0 116px,#2b3d76 0 117px,#2e3473 0 118px,#2e1b57 0 119px,#29447a 0 120px,#28467b 0 121px,#23537b 0 122px,#2a3f78 0 123px,#2b3e78 0 124px,#27497b 0 125px,#2b3e78 0 126px,#22557c 0 127px,#2c3c79 0 128px,#28447a 0 129px,#254e7a 0 130px,#312e73 0 131px,#2e3576 0 132px,#312d73 0 133px,#2d3a78 0 134px,#2d2f6c 0 135px,#263a66 0 136px,#294479 0 137px,#2c3c79 0 138px,#27487b 0 139px,#254e7b 0 140px,#284679 0 141px,#27497a 0 142px,#22557c 0 143px,#29447a 0 144px,#24507c 0 145px,#264b7b 0 146px,#2c3c78 0 147px,#22557c 0 149px,#24507c 0 150px,#21577c 0 151px,#2a407a 0 152px,#301756 0 153px,#23527c 0 154px,#2b326c 0 155px,#2b2e65 0 156px,#22557c 0 157px,#2a407a 0 158px,#28447a 0 159px,#2d3a77 0 160px,#274879 0 161px,#205b7c 0 162px,#264b7b 0 163px,#302f70 0 164px,#1f5d7c 0 165px,#1d647d 0 166px,#1f5c7d 0 167px,#23527c 0 168px,#284679 0 169px,#2c3b72 0 170px,#244f7b 0 171px,#24507c 0 172px,#254e7b 0 173px,#2a4079 0 174px,#2a417a 0 175px,#22547c 0 176px,#27477b 0 178px,#264a7b 0 179px,#23517c 0 180px,#28457b 0 181px,#28447a 0 182px,#31185a 0 183px,#284173 0 184px,#2b3d77 0 185px,#1b6c7b 0 186px,#138b78 0 187px,#1fa46b 0 188px,#1d9f6d 0 189px,#168378 0 190px,#1fa16c 0 191px,#138a78 0 192px,#158c76 0 193px,#15817a 0 194px,#138d77 0 195px,#149574 0 196px,#149175 0 197px,#2ba865 0 198px,#21a669 0 199px,#189a71 0 200px,#1d9570 0 201px,#1a9b70 0 202px,#179474 0 203px,#17767c 0 204px,#20956e 0 205px,#178b76 0 206px,#169175 0 207px,#138e76 0 208px,#20a46a 0 209px,#20a56a 0 210px,#188977 0 211px,#1c9b6f 0 212px,#168977 0 213px,#158877 0 214px,#158b76 0 215px,#158a77 0 216px,#138e77 0 217px,#149474 0 218px,#1b9870 0 219px,#178e75 0 220px,#198a75 0 221px,#19797a 0 222px,#138a78 0 223px,#1c667d 0 224px,#2c9968 0 225px,#19757b 0 226px,#196f7c 0 227px,#15817a 0 228px,#158d76 0 229px,#179a71 0 230px,#189473 0 231px,#1c9371 0 232px,#1a9d6f 0 233px,#169374 0 234px,#149175 0 235px,#167c7b 0 236px,#169274 0 237px,#1c7e77 0 238px,#1f9270 0 239px,#1a9073 0 240px,#198b75 0 241px,#168878 0 242px,#149574 0 243px,#167d7b 0 244px,#158977 0 245px,#167b7b 0 246px,#158a77 0 247px,#157f7b 0 248px,#158279 0 249px,#348e67 0 250px,#2bad62 0 251px,#1b9870 0 252px,#159075 0 253px,#169274 0 254px,#148d76 0 255px,#15807a 0 256px,#189c70 0 257px,#138c77 0 258px,#24986d 0 259px,#1c8576 0 260px,#178178 0 261px,#1c7578 0 262px,#178c76 0 263px,#138978 0 264px,#138a78 0 265px,#168079 0 266px,#149375 0 267px,#158978 0 268px,#149075 0 269px,#157f7a 0 270px,#1b6a7c 0 271px,#1e7f74 0 272px,#19747b 0 273px,#148679 0 274px,#157f7b 0 275px,#16787c 0 276px,#157f7b 0 277px,#148679 0 278px,#14847a 0 279px,#138a78 0 281px,#167c7b 0 282px,#189772 0 283px,#138b78 0 284px,#149175 0 285px,#148679 0 286px,#157e7b 0 287px,#17747c 0 288px,#148479 0 289px,#16797c 0 290px,#148a78 0 291px,#138f76 0 292px,#198c75 0 293px,#199572 0 294px,#178b76 0 295px,#21a46a 0 296px,#17747c 0 297px,#157f7a 0 298px,#158578 0 299px,#199572 0 300px,#1d9c6e 0 301px,#159075 0 302px,#189c70 0 303px,#167c7b 0 304px,#167b7b 0 305px,#196e7d 0 306px,#148679 0 307px,#179a71 0 308px,#1a7979 0 309px,#149076 0 310px,#168977 0 311px,#169374 0 312px,#188278 0 313px,#188377 0 314px,#158977 0 315px,#17757c 0 316px,#1c9272 0 317px,#1c9770 0 318px,#26946c 0 319px,#158c77 0 320px,#148579 0 321px,#159075 0 322px,#169274 0 323px,#148d76 0 324px,#15807b 0 325px,#149574 0 326px,#159075 0 327px,#1e9070 0 328px,#187c79 0 329px,#179a71 0 330px,#198c75 0 331px,#1a9771 0 332px,#3aa25f 0 333px,#17797b 0 334px,#179972 0 335px,#21a36a 0 336px,#14847a 0 337px,#159574 0 338px,#188f75 0 339px,#15817a 0 340px,#1b8974 0 341px,#168079 0 342px,#149574 0 343px,#148d76 0 344px,#148e76 0 345px,#148579 0 347px,#198975 0 348px,#178b76 0 349px,#1ba06e 0 350px,#1d9770 0 351px,#209a6d 0 352px,#169872 0 353px,#178977 0 354px,#168179 0 355px,#158379 0 356px,#17747c 0 357px,#1f9b6d 0 358px,#249e6b 0 359px,#138d77 0 360px,#189c70 0 361px,#148878 0 362px,#199473 0 363px,#157f7b 0 365px,#14847a 0 366px,#138c77 0 367px,#148a78 0 368px,#138878 0 369px,#138a78 0 370px,#189872 0 371px,#18767b 0 372px,#199c70 0 373px,#159274 0 374px,#1b687d 0 375px,#158c76 0 376px,#138a78 0 377px,#199472 0 378px,#167a7b 0 379px,#148d76 0 380px,#157f7b 0 381px,#148679 0 382px,#148779 0 383px,#198f73 0 384px,#167c7b 0 385px,#14847a 0 386px,#149375 0 387px,#138f76 0 388px,#158379 0 389px,#178378 0 390px,#138b78 0 391px,#138a78 0 392px,#248c6e 0 393px,#1d8873 0 394px,#157f7b 0 395px,#159275 0 396px,#198b75 0 397px,#20996e 0 398px,#1e976f 0 399px,#299d68 0 400px,#349466 0 401px,#1a9b70 0 402px,#1a8d74 0 403px,#188078 0 404px,#1c687d 0 405px,#18747c 0 406px,#19757b 0 407px,#158978 0 408px,#1d697a 0 409px,#189c70 0 410px,#169972 0 411px,#178a77 0 412px,#14837a 0 413px,#148c77 0 414px,#27a966 0 415px,#20a16c 0 416px,#1a707a 0 417px,#18767a 0 418px,#168279 0 419px,#167a7b 0 420px,#149175 0 421px,#17747c 0 422px,#17757c 0 423px,#157f7b 0 424px,#20996e 0 425px,#157e7a 0 426px,#189872 0 427px,#138a78 0 428px,#21a46a 0 429px,#1ba06e 0 430px,#167d7b 0 431px,#167b7b 0 432px,#157f7b 0 433px,#148f76 0 434px,#149076 0 435px,#15817a 0 436px,#148a77 0 437px,#1f9e6d 0 438px,#157f7b 0 439px,#14827a 0 440px,#149175 0 441px,#157f7b 0 442px,#15807b 0 443px,#148c77 0 444px,#158c77 0 445px,#16797c 0 446px,#1d687a 0 447px,#27a767 0 448px,#208274 0 449px,#1fa46b 0 450px,#189971 0 451px,#15847a 0 452px,#199373 0 453px,#16787c 0 454px,#14847a 0 455px,#138a78 0 457px,#1fa16b 0 458px,#149574 0 459px,#16797b 0 460px,#199573 0 461px,#149574 0 462px,#148b77 0 463px,#157e7a 0 464px,#168178 0 465px,#264a7b 0 466px,#254c7b 0 467px,#205b7d 0 468px,#2c3976 0 469px,#2c3a74 0 470px,#254e7b 0 471px,#22547c 0 472px,#264a7b 0 473px,#26497b 0 474px,#2a407a 0 475px,#2b3e79 0 476px,#2a4079 0 477px,#1f5e7d 0 478px,#254d7b 0 479px,#254e7b 0 480px,#27477b 0 481px,#22567c 0 482px,#23517b 0 483px,#2a407a 0 484px,#28457a 0 485px,#1c657d 0 486px,#29437a 0 487px,#2c3b78 0 489px,#1f5f7c 0 490px,#29447a 0 491px,#24507b 0 492px,#2b3d78 0 494px,#2a4077 0 495px,#2a4179 0 496px,#294379 0 497px,#312e73 0 498px,#2f3374 0 499px,#303174 0 500px,#2a417a 0 501px,#20597c 0 502px,#2d3975 0 503px,#2a407a 0 504px,#301756 0 505px,#2f1e5d 0 506px,#2f2f6e 0 507px,#2c235a 0 508px,#284378 0 509px,#254e7b 0 511px,#28457a 0 512px,#2d3978 0 513px,#2c3b78 0 514px,#22557c 0 515px,#254e7b 0 516px,#27497b 0 517px,#244f7b 0 518px,#2b3d75 0 519px,#23517c 0 520px,#274678 0 521px,#2e1e59 0 522px,#2e1c56 0 523px,#22557c 0 524px,#254c7b 0 525px,#2b3e78 0 526px,#244f7b 0 527px,#28447a 0 528px,#23547c 0 529px,#254f7b 0 530px,#244f7a 0 531px,#2d3977 0 532px,#24527a 0 533px,#27497a 0 534px,#25507a 0 535px,#23537c 0 536px,#254c7b 0 537px,#27477b 0 538px,#2a4078 0 539px,#22557c 0 540px,#254e7b 0 541px,#254c7b 0 542px,#24507c 0 543px,#264b7b 0 544px,#2d1f56 0 545px,#23537b 0 546px,#27467b 0 547px,#2d3978 0 548px,#1e5f7d 0 549px,#2a4178 0 550px,#2f3275 0 551px,#1d647c 0 552px,#24507c 0 553px,#264a7b 0 555px,#205b7d 0 556px,#205c7d 0 557px,#22557c 0 558px,#205c7c 0 559px,#2a407a 0 560px,#29427a 0 561px,#293063 0 562px,#2c336e 0 563px,#22557c 0 564px,#24517c 0 565px,#244f7b 0 566px,#2d3977 0 567px,#2d3877 0 568px,#2a407a 0 570px,#2c3b78 0 571px,#2a4179 0 572px,#2b3e76 0 573px,#2b3e78 0 574px,#2d3876 0 575px,#2e1c56 0 576px,#23537c 0 577px,#264a7b 0 578px,#28447a 0 579px,#284478 0 580px,#2f3375 0 581px,#2c3b77 0 582px,#312e73 0 583px,#2d3976 0 584px,#205d7b 0 585px,#2c245a 0 586px,#1f5a79 0 587px,#294478 0 588px,#22557c 0 589px,#254d7b 0 590px,#2e2562 0 591px,#26416f 0 592px,#244f7b 0 593px,#303274 0 594px,#311759 0 595px,#264676 0 596px,#244e7b 0 597px,#1e5f7d 0 598px,#21597c 0 599px,#23537c 0 600px,#264a7b 0 601px,#24517c 0 602px,#2e1c56 0 603px,#22547c 0 605px,#244e7b 0 606px,#2d3977 0 607px,#205c7c 0 608px,#1e627d 0 609px,#21577c 0 610px,#19707c 0 611px,#23527c 0 612px,#205a7c 0 613px,#24507c 0 614px,#22557c 0 618px,#22547c 0 619px,#244e7b 0 620px,#254d7b 0 621px,#28457b 0 622px,#29447a 0 623px,#2b275d 0 624px,#244c76 0 625px,#205c7d 0 626px,#1e5f7c 0 627px,#1a6c7d 0 628px,#23527c 0 629px,#264a7b 0 630px,#22557c 0 631px,#24507c 0 632px,#22557c 0 633px,#22567c 0 634px,#23537c 0 635px,#29447a 0 637px,#1d637d 0 638px,#205b7d 0 639px,#28467b 0 640px,#254e7b 0 641px,#264a7b 0 642px,#2a417a 0 643px,#264c7a 0 644px,#254c7b 0 645px,#21587c 0 646px,#2c3d75 0 647px,#24507b 0 648px,#2f3476 0 649px,#264c7a 0 650px,#264a7b 0 651px,#301755 0 652px,#2a4079 0 653px,#302e6f 0 654px,#21577c 0 655px,#264b7b 0 656px,#21587c 0 657px,#2d2865 0 658px,#310a46 0 659px,#14847a 0 660px,#274c77 0 661px,#264a7a 0 662px,#28457a 0 663px,#2f1c5a 0 664px,#32296f 0 665px,#321355 0 666px,#2f3375 0 667px,#2b3d79 0 668px,#264a7b 0 669px,#2e3575 0 670px,#22547c 0 671px,#22557c 0 672px,#2b3e78 0 673px,#205c7b 0 674px,#148c77 0 675px,#149574 0 676px,#138e77 0 677px,#169274 0 678px,#169872 0 679px,#149574 0 680px,#138c77 0 681px,#157f7a 0 682px,#158977 0 683px,#158777 0 684px,#138e77 0 685px,#149574 0)"></div>
<div style="background:linear-gradient(90deg,#148d76 0 1px,#199473 0 2px,#158878 0 3px,#138b78 0 4px,#167a7b 0 5px,#158977 0 6px,#167a7b 0 7px,#167c7b 0 8px,#15827a 0 9px,#157f7b 0 10px,#148779 0 11px,#148679 0 12px,#15807b 0 13px,#138a78 0 14px,#14837a 0 15px,#17797b 0 16px,#15827a 0 17px,#189c70 0 18px,#138b77 0 19px,#189872 0 20px,#149175 0 21px,#15807a 0 22px,#18787b 0 23px,#14837a 0 24px,#157f7a 0 25px,#15827a 0 26px,#138f76 0 27px,#1fa26b 0 28px,#189c70 0 29px,#148779 0 30px,#15807b 0 31px,#138a78 0 32px,#189872 0 33px,#15807a 0 35px,#177b7a 0 36px,#1c677c 0 37px,#167d7a 0 38px,#138a78 0 39px,#149176 0 40px,#158778 0 41px,#158779 0 42px,#148b77 0 43px,#19707c 0 44px,#167a7b 0 45px,#15817a 0 46px,#14847a 0 47px,#167b7b 0 48px,#14837a 0 49px,#148d76 0 50px,#282d56 0 51px,#157f7b 0 52px,#148679 0 53px,#167a7b 0 54px,#148479 0 55px,#157f7b 0 56px,#167b7b 0 57px,#138a78 0 58px,#17757c 0 59px,#158a77 0 60px,#15817a 0 61px,#148279 0 62px,#157e7a 0 63px,#167c7b 0 64px,#149076 0 65px,#148479 0 66px,#14837a 0 67px,#148d76 0 68px,#148679 0 69px,#158778 0 70px,#2aa865 0 71px,#157f7b 0 73px,#167a7c 0 74px,#158977 0 75px,#198d74 0 76px,#15827a 0 77px,#157f7b 0 78px,#14837a 0 79px,#14827a 0 80px,#157d7a 0 81px,#148479 0 82px,#149574 0 83px,#167e7a 0 84px,#138a78 0 85px,#15807b 0 86px,#157f7b 0 87px,#148d76 0 88px,#157f7b 0 89px,#148679 0 90px,#148d76 0 91px,#14847a 0 92px,#138a78 0 94px,#199672 0 95px,#148c77 0 96px,#1f9f6c 0 97px,#138a78 0 99px,#149275 0 100px,#148c77 0 101px,#148f76 0 102px,#157f7a 0 103px,#167b7a 0 104px,#138f76 0 105px,#158b76 0 106px,#158877 0 107px,#178477 0 108px,#177d79 0 109px,#149176 0 110px,#148c77 0 111px,#198c74 0 112px,#158f75 0 113px,#138f76 0 114px,#169673 0 115px,#169374 0 116px,#149474 0 117px,#149574 0 118px,#1fa46b 0 119px,#199572 0 120px,#189274 0 121px,#148679 0 122px,#167a7c 0 123px,#157d7b 0 124px,#148b77 0 125px,#19797a 0 126px,#189c70 0 127px,#138a78 0 130px,#14837a 0 131px,#138a78 0 132px,#15817a 0 133px,#148579 0 134px,#14837a 0 135px,#138a78 0 136px,#18757b 0 138px,#138e76 0 139px,#158779 0 140px,#149076 0 141px,#14837a 0 142px,#14847a 0 143px,#149076 0 145px,#149275 0 146px,#14837a 0 147px,#158779 0 148px,#149474 0 149px,#157f7b 0 150px,#148f76 0 151px,#138a78 0 152px,#138879 0 153px,#189174 0 154px,#16827a 0 155px,#199373 0 156px,#15807b 0 157px,#158c77 0 158px,#1b6a7d 0 159px,#18767b 0 160px,#1b8775 0 161px,#167d7b 0 162px,#17797b 0 163px,#17757c 0 164px,#148c77 0 165px,#158779 0 167px,#138a78 0 168px,#167c7b 0 169px,#138a78 0 170px,#149175 0 171px,#149076 0 172px,#149075 0 173px,#148579 0 174px,#158679 0 175px,#168079 0 176px,#148d77 0 177px,#282e56 0 178px,#167d7a 0 179px,#18737c 0 180px,#158978 0 181px,#148579 0 182px,#149076 0 183px,#148679 0 184px,#17747c 0 185px,#167f7a 0 186px,#17787c 0 187px,#17747c 0 188px,#196f7d 0 189px,#167a7b 0 190px,#167b7b 0 191px,#196f7d 0 192px,#167c7b 0 193px,#16797c 0 194px,#16777c 0 195px,#16787c 0 196px,#1b6a7d 0 197px,#17787c 0 198px,#1b6a7d 0 199px,#18727c 0 200px,#196f7c 0 201px,#1a6c7d 0 202px,#1d637c 0 203px,#1c687d 0 204px,#17777c 0 205px,#16787c 0 206px,#157e7b 0 207px,#19727c 0 208px,#16777c 0 209px,#1a6b7c 0 210px,#18727c 0 211px,#16797c 0 212px,#17747c 0 213px,#196e7d 0 214px,#1b6a7d 0 216px,#18707c 0 217px,#1b6a7d 0 218px,#196e7d 0 219px,#157d7b 0 220px,#1a707c 0 221px,#19727c 0 222px,#1c677c 0 223px,#1b6b7d 0 224px,#167e7a 0 225px,#167b7b 0 226px,#1a6d7d 0 227px,#1b6a7d 0 228px,#17797c 0 229px,#196f7c 0 230px,#1a6c7d 0 231px,#196f7d 0 232px,#1c667d 0 233px,#17747c 0 234px,#205a7c 0 235px,#1c677d 0 236px,#17747c 0 237px,#1a6d7d 0 238px,#196e7d 0 239px,#1a6e7d 0 240px,#1b6a7d 0 241px,#196f7c 0 242px,#19707c 0 243px,#1b6a7c 0 244px,#157f7b 0 245px,#17747c 0 246px,#17737c 0 247px,#1d647d 0 248px,#18707c 0 249px,#18747c 0 250px,#17767c 0 251px,#1b697d 0 252px,#1d637d 0 253px,#17777c 0 254px,#1b677d 0 255px,#17747c 0 256px,#1b6a7d 0 258px,#1e607d 0 259px,#1d637c 0 260px,#1a6f7c 0 261px,#18747c 0 262px,#1c667d 0 263px,#1d647d 0 264px,#18707c 0 265px,#1a6e7d 0 266px,#1f5e7c 0 267px,#1a6d7c 0 268px,#17757c 0 269px,#196f7c 0 270px,#17747c 0 272px,#1b687c 0 273px,#1f5e7c 0 274px,#17747c 0 275px,#1c677d 0 276px,#19707c 0 277px,#1f5e7c 0 278px,#196f7c 0 279px,#1a6c7d 0 280px,#1d637c 0 281px,#18717c 0 282px,#196e7d 0 283px,#157e7b 0 284px,#1b6a7c 0 285px,#1b6a7d 0 286px,#19707c 0 287px,#1d647d 0 288px,#1a6c7d 0 289px,#17747c 0 290px,#167b7b 0 291px,#17747c 0 292px,#1c687d 0 293px,#18747c 0 294px,#1b6a7d 0 295px,#18707c 0 296px,#196e7d 0 297px,#1a6e7d 0 298px,#16797c 0 299px,#17767c 0 300px,#167a7b 0 301px,#17757c 0 302px,#1b687d 0 303px,#1a6d7d 0 305px,#19727c 0 306px,#19717c 0 307px,#167a7b 0 308px,#196f7c 0 309px,#1a6f7c 0 310px,#1c667d 0 312px,#18707c 0 313px,#1d647d 0 314px,#1a6d7c 0 315px,#196e7c 0 316px,#168279 0 317px,#177a7a 0 318px,#196f7c 0 319px,#17797c 0 320px,#19707c 0 321px,#167b7b 0 323px,#19717c 0 324px,#15807b 0 325px,#148679 0 326px,#157e7b 0 327px,#16797c 0 328px,#19717c 0 329px,#18747c 0 330px,#167d7b 0 331px,#19727c 0 332px,#17747c 0 333px,#1a6e7d 0 334px,#19707c 0 335px,#1b6a7d 0 336px,#196e7d 0 337px,#157d7b 0 338px,#16797c 0 339px,#15807a 0 340px,#18777b 0 341px,#148579 0 342px,#16787c 0 343px,#17747c 0 345px,#19707c 0 346px,#17787c 0 347px,#1c657d 0 348px,#196d7c 0 349px,#1a6b7c 0 350px,#17787c 0 351px,#1d647d 0 352px,#157e7b 0 353px,#148679 0 354px,#17747c 0 355px,#196f7d 0 356px,#157f7b 0 357px,#17767c 0 358px,#15807a 0 359px,#167c7b 0 360px,#138a78 0 361px,#17757c 0 362px,#17747c 0 363px,#18767b 0 364px,#167a7b 0 365px,#19707c 0 366px,#18737c 0 367px,#157f7b 0 368px,#1b697c 0 369px,#27325b 0 370px,#177577 0 371px,#157f7b 0 372px,#158977 0 373px,#167b7b 0 374px,#17747c 0 375px,#148379 0 376px,#167a7b 0 377px,#16797c 0 378px,#196f7c 0 379px,#18727c 0 380px,#17777c 0 381px,#1a6e7d 0 382px,#148279 0 383px,#167b7b 0 384px,#17757c 0 385px,#18767c 0 386px,#17797c 0 387px,#167a7b 0 388px,#157d7b 0 389px,#17747c 0 390px,#1d647d 0 391px,#1b6a7d 0 392px,#16787c 0 393px,#1b6a7c 0 394px,#1a6c7c 0 395px,#1b697d 0 396px,#196f7c 0 397px,#167a7c 0 398px,#196e7d 0 399px,#1f556d 0 400px,#224866 0 401px,#1c677d 0 402px,#1a6e7d 0 403px,#19707c 0 404px,#18737c 0 405px,#14847a 0 406px,#19727c 0 407px,#17747c 0 408px,#1a6e7d 0 409px,#196e7d 0 410px,#18707c 0 411px,#167f7a 0 412px,#1a6e7d 0 413px,#167b7b 0 414px,#1c677c 0 415px,#196d7c 0 416px,#17747c 0 417px,#18727c 0 418px,#19707c 0 419px,#19717c 0 420px,#16787c 0 421px,#157f7b 0 422px,#16787c 0 423px,#157f7b 0 424px,#19737c 0 425px,#177b7a 0 426px,#17767b 0 427px,#157e7a 0 428px,#167b7b 0 429px,#17747c 0 430px,#18757c 0 431px,#18747c 0 432px,#1d647d 0 434px,#19707c 0 435px,#18707c 0 436px,#1b6a7d 0 437px,#1d647d 0 439px,#167d7b 0 440px,#16787c 0 441px,#17787c 0 442px,#18707c 0 443px,#196e7d 0 444px,#1c677d 0 445px,#16797c 0 446px,#157d7b 0 447px,#17747c 0 449px,#196e7d 0 450px,#1d647d 0 451px,#19707c 0 452px,#1a6c7c 0 453px,#167c7b 0 454px,#1a6e7c 0 455px,#19717c 0 456px,#18747c 0 457px,#18757c 0 458px,#1c667d 0 459px,#1c677d 0 460px,#1a6e7d 0 461px,#18747c 0 462px,#196e7c 0 463px,#19707c 0 464px,#17757c 0 465px,#138a78 0 466px,#19737c 0 467px,#18737c 0 468px,#148778 0 469px,#18767b 0 470px,#17787c 0 472px,#19707c 0 473px,#167a7b 0 474px,#157f7b 0 475px,#167b7b 0 476px,#196f7c 0 477px,#15817a 0 478px,#157d7a 0 479px,#148d77 0 480px,#148679 0 481px,#14837a 0 482px,#167a7b 0 483px,#19707c 0 484px,#17787c 0 485px,#18757c 0 486px,#18737c 0 487px,#19707c 0 488px,#18717c 0 489px,#167f7a 0 490px,#18757b 0 491px,#138978 0 492px,#167a7b 0 493px,#17757c 0 494px,#18757c 0 495px,#167f7a 0 496px,#1b6a7d 0 497px,#167d7b 0 498px,#16787c 0 499px,#196d7c 0 500px,#18747c 0 501px,#19727c 0 502px,#16787c 0 503px,#167a7b 0 504px,#167b7b 0 505px,#17747c 0 506px,#19707c 0 507px,#1a6d7c 0 508px,#17777c 0 509px,#18717c 0 510px,#17777c 0 511px,#17787c 0 512px,#16797c 0 513px,#157f7b 0 514px,#167a7c 0 515px,#167b7b 0 516px,#17747c 0 517px,#16777c 0 518px,#148d77 0 519px,#17787c 0 520px,#18717c 0 521px,#19707c 0 522px,#1a6c7d 0 523px,#18757c 0 524px,#167f7a 0 525px,#196f7c 0 526px,#148579 0 527px,#157f7b 0 528px,#1b687d 0 529px,#1a6e7d 0 530px,#17747c 0 531px,#196f7d 0 532px,#18767c 0 533px,#167b7b 0 534px,#16797c 0 535px,#168777 0 536px,#19707c 0 537px,#17747c 0 539px,#167c7b 0 540px,#138a78 0 541px,#148579 0 542px,#17767c 0 543px,#157f7a 0 544px,#167d7b 0 545px,#19707c 0 547px,#148679 0 549px,#157f7b 0 550px,#19707c 0 551px,#18727c 0 552px,#16797c 0 553px,#157d7b 0 554px,#167a7b 0 555px,#19717c 0 556px,#157f7b 0 557px,#148379 0 558px,#148279 0 559px,#16787c 0 560px,#157f7b 0 561px,#18767c 0 562px,#1a6f7c 0 563px,#14847a 0 564px,#148479 0 565px,#15807a 0 566px,#1b6a7d 0 567px,#1e607d 0 568px,#148679 0 569px,#157e7b 0 570px,#17747c 0 571px,#157c7b 0 572px,#167a7b 0 573px,#148479 0 574px,#157f7b 0 575px,#14827a 0 576px,#14837a 0 577px,#18717c 0 578px,#17787c 0 579px,#157f7b 0 580px,#16787c 0 581px,#157f7b 0 582px,#19737c 0 583px,#157f7a 0 584px,#17767c 0 585px,#148579 0 586px,#17757c 0 587px,#17747c 0 588px,#1b6a7d 0 589px,#17787c 0 590px,#16797c 0 591px,#148579 0 592px,#17747c 0 594px,#196e7d 0 595px,#1b6a7d 0 596px,#19707c 0 597px,#17747c 0 599px,#19727c 0 600px,#157f7b 0 602px,#157d7b 0 603px,#167a7b 0 605px,#17767c 0 606px,#148379 0 607px,#167b7b 0 608px,#17777c 0 609px,#17797c 0 610px,#167a7b 0 611px,#157d7b 0 612px,#157f7b 0 613px,#16787c 0 614px,#148579 0 615px,#19727c 0 616px,#148679 0 617px,#157f7b 0 618px,#157e7b 0 619px,#19707c 0 620px,#18737c 0 621px,#18757c 0 622px,#18727c 0 623px,#15807a 0 624px,#157d7b 0 625px,#17747c 0 626px,#158977 0 627px,#148279 0 628px,#17747c 0 630px,#157e7a 0 631px,#167a7b 0 632px,#16797c 0 633px,#17747c 0 634px,#167a7b 0 635px,#17797c 0 636px,#18707c 0 637px,#167b7b 0 638px,#167a7b 0 639px,#1b6a7d 0 640px,#167c7b 0 641px,#138f76 0 642px,#148778 0 643px,#167a7b 0 644px,#196f7d 0 645px,#158877 0 646px,#15807b 0 647px,#157f7b 0 649px,#157e7b 0 650px,#196f7c 0 651px,#17787c 0 652px,#18757c 0 653px,#157f7b 0 654px,#16787c 0 655px,#17747c 0 656px,#148279 0 657px,#167b7b 0 658px,#148279 0 659px,#17747c 0 660px,#167b7b 0 661px,#167a7c 0 662px,#17767c 0 663px,#17747c 0 664px,#15817a 0 665px,#14837a 0 666px,#16787c 0 667px,#19717c 0 668px,#17767c 0 669px,#15817a 0 670px,#157f7b 0 671px,#157d7b 0 672px,#167a7b 0 673px,#148379 0 674px,#15817a 0 675px,#157f7b 0 676px,#148679 0 677px,#167b7b 0 678px,#17767c 0 679px,#15807a 0 680px,#157d7b 0 681px,#148579 0 682px,#138a78 0 683px,#14847a 0 684px,#18727c 0 685px,#168677 0)"></div>
</div>
<svg width="1344" height="1344" viewBox="0 0 1344 1344">
<path d="M147 147H114V211H147M147 275H112.6V339H147M114 179H98.6V307H112.6M147 83H92V243H98.6M147 467H113.6V531H147M147 787H118.9V851H147M147 723H115.1V819H118.9M147 659H111.8V771H115.1M147 595H106.8V715H111.8M113.6 499H104V655H106.8M147 1043H106.9V1107H147M147 979H101.3V1075H106.9M147 915H99V1027H101.3M104 577H97.3V971H99M147 403H78.5V774H97.3M92 163H53.8V588.5H78.5M147 1235H85V1299H147M147 1171H39.2V1267H85M53.8 375.75H7.1V1219H39.2" fill="none" stroke="#000" stroke-width="2" stroke-linejoin="round"/>
<rect x="147" y="16" width="186" height="26.7" fill="#FB7D74"/><rect x="333" y="16" width="130" height="26.7" fill="#FC61D5"/><rect x="463" y="16" width="115" height="26.7" fill="#A0BB0A"/><rect x="578" y="16" width="34" height="26.7" fill="#EE73FB"/><rect x="612" y="16" width="191" height="26.7" fill="#72A5FD"/><rect x="803" y="16" width="3" height="26.7" fill="#E99D0C"/><rect x="806" y="16" width="1" height="26.7" fill="#1FD049"/><rect x="807" y="16" width="14" height="26.7" fill="#19C8FD"/><rect x="821" y="16" width="12" height="26.7" fill="#1DD7AD"/>
<text class="b" x="841" y="38.8">labels</text>
<text x="841" y="92.6">SEC11C__chr18</text><text x="841" y="156.6">CPE__chr4</text><text x="841" y="220.6">SCG5__chr15</text><text x="841" y="284.6">SCGN__chr6</text><text x="841" y="348.6">BEX1__chrX</text><text x="841" y="412.6">TIMP2__chr17</text><text x="841" y="476.6">HADH__chr4</text><text x="841" y="540.6">PDX1__chr13</text><text x="841" y="604.6">MEG3__chr14</text><text x="841" y="668.6">GNG4__chr1</text><text x="841" y="732.6">SYT13__chr11</text><text x="841" y="796.6">MAFA__chr8</text><text x="841" y="860.6">ADCYAP1__chr18</text><text x="841" y="924.6">VEGFA__chr6</text><text x="841" y="988.6">G6PC2__chr2</text><text x="841" y="1052.6">NPTX2__chr7</text><text x="841" y="1116.6">UCHL1__chr4</text><text x="841" y="1180.6">INS__chr11</text><text x="841" y="1244.6">GNAS__chr20</text><text x="841" y="1308.6">RPS6__chr9</text>
<rect x="1081" y="13" width="26" height="16.5" fill="#fde218"/><rect x="1081" y="29" width="26" height="16.5" fill="#dfde0f"/><rect x="1081" y="45" width="26" height="16.5" fill="#bdda14"/><rect x="1081" y="61" width="26" height="16.5" fill="#9fd521"/><rect x="1081" y="77" width="26" height="16.5" fill="#7fcf32"/><rect x="1081" y="93" width="26" height="16.5" fill="#62c742"/><rect x="1081" y="109" width="26" height="16.5" fill="#4bbf4f"/><rect x="1081" y="125" width="26" height="16.5" fill="#36b55c"/><rect x="1081" y="141" width="26" height="16.5" fill="#25aa66"/><rect x="1081" y="157" width="26" height="16.5" fill="#1ba06e"/><rect x="1081" y="173" width="26" height="16.5" fill="#149574"/><rect x="1081" y="189" width="26" height="16.5" fill="#138a78"/><rect x="1081" y="205" width="26" height="16.5" fill="#157f7b"/><rect x="1081" y="221" width="26" height="16.5" fill="#17747c"/><rect x="1081" y="237" width="26" height="16.5" fill="#1b6a7d"/><rect x="1081" y="253" width="26" height="16.5" fill="#1e607d"/><rect x="1081" y="269" width="26" height="16.5" fill="#22557c"/><rect x="1081" y="285" width="26" height="16.5" fill="#264a7b"/><rect x="1081" y="301" width="26" height="16.5" fill="#2a407a"/><rect x="1081" y="317" width="26" height="16.5" fill="#2f3476"/><rect x="1081" y="333" width="26" height="16.5" fill="#332971"/><rect x="1081" y="349" width="26" height="16.5" fill="#361e69"/><rect x="1081" y="365" width="26" height="16.5" fill="#37135e"/><rect x="1081" y="381" width="26" height="16.5" fill="#360950"/><rect x="1081" y="397" width="26" height="16.5" fill="#330042"/>
<text x="1117.6" y="422.5">0</text><text x="1117.6" y="347.1">2</text><text x="1117.6" y="271.6">4</text><text x="1117.6" y="196.2">6</text><text x="1117.6" y="120.7">8</text><text x="1117.6" y="45.3">10</text>
<text class="b" x="1157" y="33.2">labels</text>
<rect x="1157" y="42.10" width="37.8" height="38.47" fill="#FB7D74"/><text x="1203" y="70.6">acinar</text><rect x="1157" y="80.27" width="37.8" height="38.47" fill="#FC61D5"/><text x="1203" y="108.8">alpha</text><rect x="1157" y="118.44" width="37.8" height="38.47" fill="#A0BB0A"/><text x="1203" y="146.9">beta</text><rect x="1157" y="156.61" width="37.8" height="38.47" fill="#EE73FB"/><text x="1203" y="185.1">delta</text><rect x="1157" y="194.78" width="37.8" height="38.47" fill="#72A5FD"/><text x="1203" y="223.3">duct</text><rect x="1157" y="232.95" width="37.8" height="38.47" fill="#E99D0C"/><text x="1203" y="261.4">endothelial</text><rect x="1157" y="271.12" width="37.8" height="38.47" fill="#1FD049"/><text x="1203" y="299.6">epsilon</text><rect x="1157" y="309.29" width="37.8" height="38.47" fill="#19C8FD"/><text x="1203" y="337.8">mesenchymal</text><rect x="1157" y="347.46" width="37.8" height="38.47" fill="#1DD7AD"/><text x="1203" y="375.9">pp</text>
</svg>
</body></html>
